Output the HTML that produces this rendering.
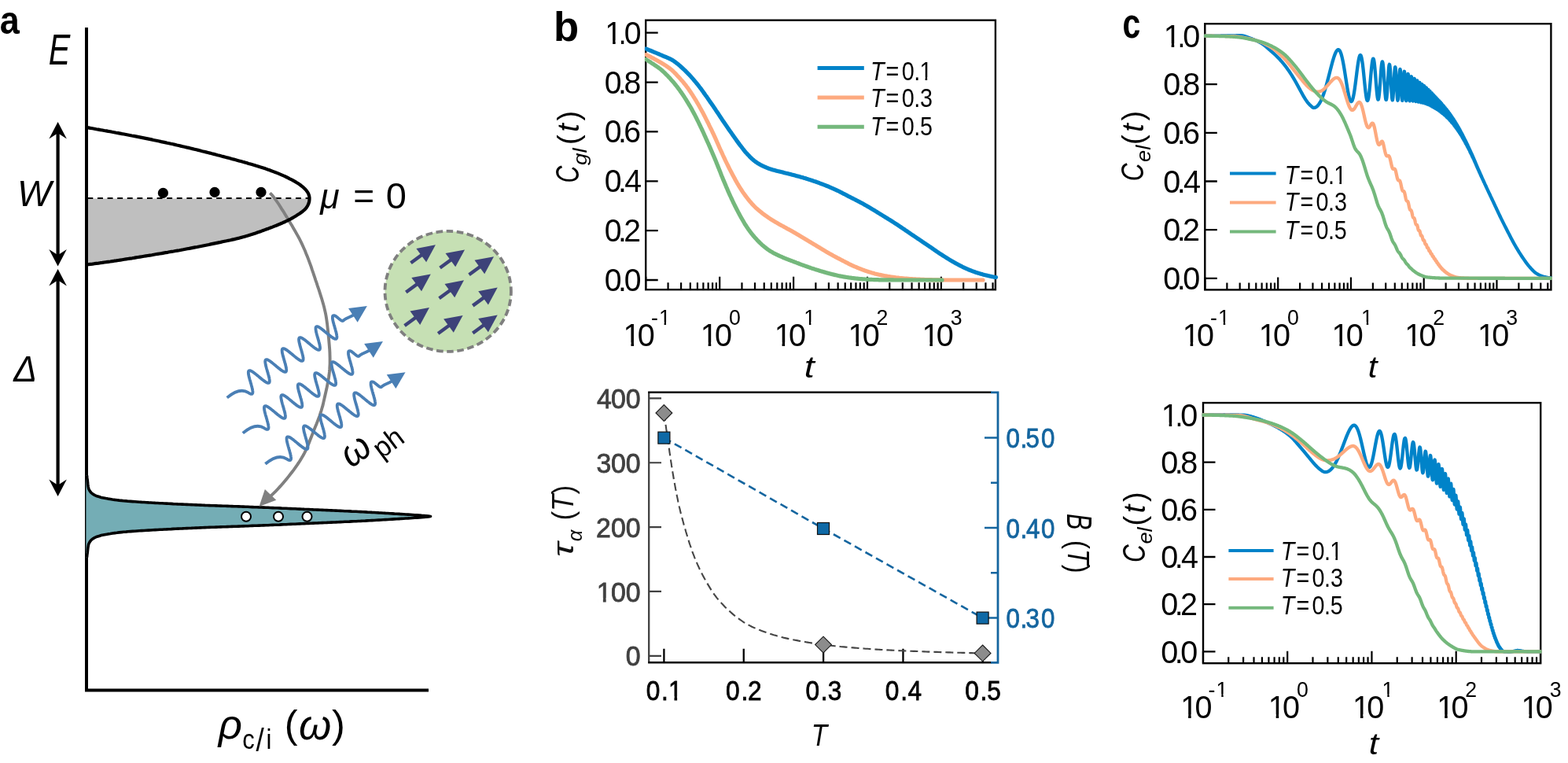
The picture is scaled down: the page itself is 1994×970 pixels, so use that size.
<!DOCTYPE html>
<html lang="en">
<head>
<meta charset="utf-8">
<title>Figure</title>
<style>
html,body{margin:0;padding:0;background:#fff;}
body{width:1994px;height:970px;overflow:hidden;}
svg{display:block;}
svg text{font-family:"Liberation Sans",Arial,Helvetica,sans-serif;font-kerning:none;}
</style>
</head>
<body>
<svg width="1994" height="970" viewBox="0 0 1994 970">
<rect width="1994" height="970" fill="#fff"/>
<path d="M110 252.5L393.5 252.5L393.5 253.6L393.2 256.2L392.5 258.7L391.5 261.0L390.2 263.2L388.7 265.2L386.9 267.0L384.9 268.7L382.8 270.2L380.7 271.7L378.5 273.1L376.4 274.5L374.2 275.8L371.9 277.1L369.7 278.3L367.5 279.4L365.2 280.6L362.9 281.7L360.6 282.7L358.3 283.8L356.0 284.8L353.6 285.7L351.3 286.7L348.9 287.6L346.5 288.6L344.1 289.5L341.7 290.4L339.3 291.2L337.0 292.1L334.6 293.0L332.2 293.9L329.8 294.7L327.4 295.5L324.9 296.4L322.5 297.2L320.1 298.0L317.7 298.7L315.3 299.5L312.8 300.2L310.4 300.9L307.9 301.6L305.5 302.2L303.0 302.9L300.5 303.5L298.1 304.1L295.6 304.6L293.1 305.2L290.6 305.7L288.1 306.3L285.6 306.8L283.1 307.3L280.6 307.9L278.1 308.4L275.7 308.9L273.2 309.4L270.7 309.9L268.2 310.4L265.7 311.0L263.2 311.5L260.7 312.0L258.2 312.5L255.7 313.0L253.2 313.5L250.7 314.0L248.2 314.4L245.7 314.9L243.2 315.4L240.7 315.9L238.2 316.3L235.7 316.8L233.2 317.3L230.7 317.7L228.2 318.2L225.7 318.6L223.2 319.0L220.7 319.5L218.2 319.9L215.7 320.3L213.2 320.8L210.6 321.2L208.1 321.6L205.6 322.1L203.1 322.5L200.6 322.9L198.1 323.3L195.6 323.7L193.1 324.2L190.6 324.6L188.0 325.0L185.5 325.4L183.0 325.8L180.5 326.2L178.0 326.6L175.5 327.0L173.0 327.4L170.5 327.9L168.0 328.3L165.4 328.6L162.9 329.0L160.4 329.4L157.9 329.8L155.4 330.2L152.9 330.6L150.3 331.0L147.8 331.4L145.3 331.7L142.8 332.1L140.3 332.5L137.8 332.8L135.2 333.2L132.7 333.5L130.2 333.9L127.7 334.2L125.2 334.6L122.6 334.9L120.1 335.2L117.6 335.6L115.1 335.9L112.5 336.2L110.0 336.5Z" fill="#bfbfbf"/>
<path d="M110 252H393" stroke="#000" stroke-width="2.1" stroke-dasharray="6.9 5.7" stroke-dashoffset="11.2" fill="none"/>
<path d="M343.3 245.3L345.8 247.9L348.1 250.7L350.3 253.6L352.3 256.5L354.4 259.5L356.3 262.5L358.2 265.6L360.2 268.6L362.1 271.7L363.9 274.7L365.8 277.8L367.7 280.9L369.5 284.0L371.4 287.1L373.2 290.2L375.0 293.3L376.8 296.4L378.6 299.6L380.3 302.7L381.9 305.9L383.5 309.2L385.0 312.4L386.5 315.7L388.0 319.0L389.3 322.4L390.7 325.7L392.0 329.1L393.2 332.4L394.5 335.8L395.7 339.2L396.8 342.6L398.0 346.0L399.1 349.4L400.3 352.9L401.4 356.3L402.6 359.7L403.7 363.1L404.9 366.5L406.0 369.9L407.1 373.4L408.2 376.8L409.3 380.2L410.3 383.7L411.3 387.2L412.2 390.6L413.0 394.1L413.8 397.7L414.5 401.2L415.1 404.7L415.6 408.3L416.1 411.9L416.5 415.5L416.9 419.0L417.3 422.6L417.6 426.2L418.0 429.8L418.3 433.4L418.6 437.0L418.9 440.6L419.2 444.2L419.4 447.8L419.5 451.4L419.6 455.0L419.6 458.6L419.6 462.2L419.4 465.8L419.2 469.4L418.9 473.0L418.5 476.6L418.0 480.1L417.4 483.7L416.7 487.2L416.0 490.8L415.3 494.3L414.5 497.8L413.7 501.3L412.9 504.8L412.1 508.4L411.3 511.9L410.5 515.4L409.5 518.8L408.5 522.3L407.4 525.7L406.3 529.1L405.0 532.5L403.7 535.9L402.4 539.2L401.0 542.5L399.6 545.9L398.3 549.2L397.0 552.6L395.7 556.0L394.4 559.3L393.1 562.7L391.7 566.0L390.3 569.3L388.8 572.6L387.2 575.8L385.5 579.0L383.7 582.1L381.8 585.2L379.9 588.2L377.9 591.2L375.8 594.2L373.7 597.1L371.5 600.0L369.3 602.8L367.1 605.6L364.8 608.4L362.5 611.2L360.2 614.0L357.8 616.7L355.4 619.4L353.0 622.0L350.5 624.6L347.9 627.1L345.3 629.6L342.7 632.1L340.0 634.5" fill="none" stroke="#808080" stroke-width="3.9"/>
<path d="M110.0 162.0L112.5 162.4L115.0 162.9L117.5 163.3L120.0 163.7L122.5 164.2L125.0 164.6L127.5 165.1L130.1 165.5L132.6 166.0L135.1 166.4L137.6 166.9L140.1 167.3L142.6 167.8L145.1 168.2L147.6 168.7L150.1 169.1L152.6 169.6L155.1 170.1L157.6 170.5L160.1 171.0L162.6 171.5L165.1 172.0L167.6 172.5L170.1 172.9L172.6 173.4L175.1 173.9L177.6 174.4L180.1 174.9L182.6 175.4L185.1 175.9L187.6 176.4L190.1 176.9L192.6 177.4L195.0 178.0L197.5 178.5L200.0 179.0L202.5 179.5L205.0 180.1L207.5 180.6L210.0 181.1L212.5 181.7L215.0 182.2L217.4 182.8L219.9 183.3L222.4 183.9L224.9 184.5L227.4 185.0L229.8 185.6L232.3 186.2L234.8 186.8L237.3 187.4L239.8 187.9L242.2 188.5L244.7 189.1L247.2 189.7L249.7 190.3L252.1 190.9L254.6 191.5L257.1 192.2L259.5 192.8L262.0 193.4L264.5 194.0L266.9 194.6L269.4 195.3L271.9 195.9L274.3 196.5L276.8 197.2L279.3 197.8L281.7 198.5L284.2 199.1L286.6 199.7L289.1 200.4L291.6 201.0L294.0 201.7L296.5 202.4L298.9 203.0L301.4 203.7L303.8 204.4L306.3 205.1L308.8 205.8L311.2 206.4L313.6 207.1L316.1 207.9L318.5 208.6L321.0 209.3L323.4 210.0L325.9 210.8L328.3 211.5L330.7 212.3L333.1 213.0L335.6 213.8L338.0 214.6L340.4 215.5L342.8 216.3L345.2 217.2L347.6 218.1L349.9 219.0L352.3 219.9L354.7 220.9L357.0 221.9L359.3 222.9L361.7 223.9L364.0 225.0L366.3 226.1L368.5 227.3L370.8 228.4L373.0 229.6L375.3 230.9L377.4 232.2L379.6 233.6L381.7 235.0L383.7 236.6L385.7 238.2L387.6 240.0L389.4 241.9L390.9 243.9L392.1 246.1L393.0 248.5L393.5 251.1L393.5 253.6L393.2 256.2L392.5 258.7L391.5 261.0L390.2 263.2L388.7 265.2L386.9 267.0L384.9 268.7L382.8 270.2L380.7 271.7L378.5 273.1L376.4 274.5L374.2 275.8L371.9 277.1L369.7 278.3L367.5 279.4L365.2 280.6L362.9 281.7L360.6 282.7L358.3 283.8L356.0 284.8L353.6 285.7L351.3 286.7L348.9 287.6L346.5 288.6L344.1 289.5L341.7 290.4L339.3 291.2L337.0 292.1L334.6 293.0L332.2 293.9L329.8 294.7L327.4 295.5L324.9 296.4L322.5 297.2L320.1 298.0L317.7 298.7L315.3 299.5L312.8 300.2L310.4 300.9L307.9 301.6L305.5 302.2L303.0 302.9L300.5 303.5L298.1 304.1L295.6 304.6L293.1 305.2L290.6 305.7L288.1 306.3L285.6 306.8L283.1 307.3L280.6 307.9L278.1 308.4L275.7 308.9L273.2 309.4L270.7 309.9L268.2 310.4L265.7 311.0L263.2 311.5L260.7 312.0L258.2 312.5L255.7 313.0L253.2 313.5L250.7 314.0L248.2 314.4L245.7 314.9L243.2 315.4L240.7 315.9L238.2 316.3L235.7 316.8L233.2 317.3L230.7 317.7L228.2 318.2L225.7 318.6L223.2 319.0L220.7 319.5L218.2 319.9L215.7 320.3L213.2 320.8L210.6 321.2L208.1 321.6L205.6 322.1L203.1 322.5L200.6 322.9L198.1 323.3L195.6 323.7L193.1 324.2L190.6 324.6L188.0 325.0L185.5 325.4L183.0 325.8L180.5 326.2L178.0 326.6L175.5 327.0L173.0 327.4L170.5 327.9L168.0 328.3L165.4 328.6L162.9 329.0L160.4 329.4L157.9 329.8L155.4 330.2L152.9 330.6L150.3 331.0L147.8 331.4L145.3 331.7L142.8 332.1L140.3 332.5L137.8 332.8L135.2 333.2L132.7 333.5L130.2 333.9L127.7 334.2L125.2 334.6L122.6 334.9L120.1 335.2L117.6 335.6L115.1 335.9L112.5 336.2L110.0 336.5" fill="none" stroke="#000" stroke-width="4.2" stroke-linejoin="round"/>
<circle cx="207.4" cy="245.4" r="6.6"/>
<circle cx="273" cy="244.4" r="6.6"/>
<circle cx="332" cy="244.4" r="6.6"/>
<path d="M110 35V877.5H545" fill="none" stroke="#000" stroke-width="4" stroke-linejoin="miter"/>
<path d="M109.4 604.5L110.5 604.5L110.8 607.4L111.2 610.2L111.5 613.1L111.8 616.0L112.2 618.8L112.8 621.5L114.2 624.2L115.9 626.4L118.1 628.2L120.7 629.6L123.4 630.8L126.1 631.6L128.8 632.4L131.6 633.0L134.5 633.6L137.4 634.1L140.2 634.5L143.0 635.0L145.9 635.4L148.7 635.7L151.6 636.1L154.5 636.4L157.3 636.7L160.2 636.9L163.0 637.2L165.9 637.4L168.8 637.6L171.6 637.8L174.5 638.0L177.4 638.2L180.2 638.4L183.1 638.5L186.0 638.7L188.8 638.9L191.7 639.0L194.6 639.2L197.4 639.4L200.3 639.5L203.2 639.7L206.1 639.8L208.9 640.0L211.8 640.1L214.7 640.3L217.5 640.4L220.4 640.6L223.3 640.7L226.1 640.9L229.0 641.0L231.9 641.1L234.7 641.3L237.6 641.4L240.5 641.5L243.4 641.6L246.2 641.8L249.1 641.9L252.0 642.0L254.8 642.1L257.7 642.2L260.6 642.4L263.5 642.5L266.3 642.6L269.2 642.7L272.1 642.8L274.9 642.9L277.8 643.0L280.7 643.1L283.5 643.2L286.4 643.3L289.3 643.4L292.2 643.5L295.0 643.6L297.9 643.7L300.8 643.8L303.6 643.9L306.5 644.0L309.4 644.1L312.3 644.2L315.1 644.3L318.0 644.5L320.9 644.6L323.7 644.7L326.6 644.8L329.5 644.9L332.4 645.0L335.2 645.1L338.1 645.2L341.0 645.3L343.8 645.5L346.7 645.6L349.6 645.7L352.5 645.8L355.3 645.9L358.2 646.1L361.1 646.2L363.9 646.3L366.8 646.5L369.7 646.6L372.5 646.7L375.4 646.8L378.3 647.0L381.2 647.1L384.0 647.2L386.9 647.4L389.8 647.5L392.6 647.6L395.5 647.7L398.4 647.9L401.2 648.0L404.1 648.1L407.0 648.3L409.9 648.4L412.7 648.5L415.6 648.6L418.5 648.8L421.3 648.9L424.2 649.0L427.1 649.1L429.9 649.3L432.8 649.4L435.7 649.5L438.6 649.7L441.4 649.8L444.3 649.9L447.2 650.1L450.0 650.2L452.9 650.3L455.8 650.5L458.6 650.6L461.5 650.8L464.4 650.9L467.3 651.1L470.1 651.2L473.0 651.4L475.9 651.5L478.7 651.7L481.6 651.9L484.5 652.0L487.3 652.2L490.2 652.4L493.1 652.5L495.9 652.7L498.8 652.9L501.7 653.1L504.5 653.2L507.4 653.4L510.3 653.6L513.1 653.8L516.0 654.0L518.9 654.1L521.7 654.3L524.6 654.5L527.5 654.7L530.3 654.8L533.2 655.0L536.1 655.3L538.9 655.5L541.8 655.8L544.7 656.1L547.5 656.5L547.5 656.5L544.7 656.9L541.8 657.2L538.9 657.5L536.1 657.7L533.2 658.0L530.3 658.2L527.5 658.3L524.6 658.5L521.7 658.7L518.9 658.9L516.0 659.0L513.1 659.2L510.3 659.4L507.4 659.6L504.5 659.8L501.7 659.9L498.8 660.1L495.9 660.3L493.1 660.5L490.2 660.6L487.3 660.8L484.5 661.0L481.6 661.1L478.7 661.3L475.9 661.5L473.0 661.6L470.1 661.8L467.3 661.9L464.4 662.1L461.5 662.2L458.6 662.4L455.8 662.5L452.9 662.7L450.0 662.8L447.2 662.9L444.3 663.1L441.4 663.2L438.6 663.3L435.7 663.5L432.8 663.6L429.9 663.7L427.1 663.9L424.2 664.0L421.3 664.1L418.5 664.2L415.6 664.4L412.7 664.5L409.9 664.6L407.0 664.7L404.1 664.9L401.2 665.0L398.4 665.1L395.5 665.3L392.6 665.4L389.8 665.5L386.9 665.6L384.0 665.8L381.2 665.9L378.3 666.0L375.4 666.2L372.5 666.3L369.7 666.4L366.8 666.5L363.9 666.7L361.1 666.8L358.2 666.9L355.3 667.1L352.5 667.2L349.6 667.3L346.7 667.4L343.8 667.5L341.0 667.7L338.1 667.8L335.2 667.9L332.4 668.0L329.5 668.1L326.6 668.2L323.7 668.3L320.9 668.4L318.0 668.5L315.1 668.7L312.3 668.8L309.4 668.9L306.5 669.0L303.6 669.1L300.8 669.2L297.9 669.3L295.0 669.4L292.2 669.5L289.3 669.6L286.4 669.7L283.5 669.8L280.7 669.9L277.8 670.0L274.9 670.1L272.1 670.2L269.2 670.3L266.3 670.4L263.5 670.5L260.6 670.6L257.7 670.8L254.8 670.9L252.0 671.0L249.1 671.1L246.2 671.2L243.4 671.4L240.5 671.5L237.6 671.6L234.7 671.7L231.9 671.9L229.0 672.0L226.1 672.1L223.3 672.3L220.4 672.4L217.5 672.6L214.7 672.7L211.8 672.9L208.9 673.0L206.1 673.2L203.2 673.3L200.3 673.5L197.4 673.6L194.6 673.8L191.7 674.0L188.8 674.1L186.0 674.3L183.1 674.5L180.2 674.6L177.4 674.8L174.5 675.0L171.6 675.2L168.8 675.4L165.9 675.6L163.0 675.8L160.2 676.1L157.3 676.3L154.5 676.6L151.6 676.9L148.7 677.3L145.9 677.6L143.0 678.0L140.2 678.5L137.4 678.9L134.5 679.4L131.6 680.0L128.8 680.6L126.1 681.4L123.4 682.2L120.7 683.4L118.1 684.8L115.9 686.6L114.2 688.8L112.8 691.5L112.2 694.2L111.8 697.0L111.5 699.9L111.2 702.8L110.8 705.6L110.5 708.5L109.4 708.5Z" fill="#74adb5"/>
<path d="M110.5 604.5L110.8 607.4L111.2 610.2L111.5 613.1L111.8 616.0L112.2 618.8L112.8 621.5L114.2 624.2L115.9 626.4L118.1 628.2L120.7 629.6L123.4 630.8L126.1 631.6L128.8 632.4L131.6 633.0L134.5 633.6L137.4 634.1L140.2 634.5L143.0 635.0L145.9 635.4L148.7 635.7L151.6 636.1L154.5 636.4L157.3 636.7L160.2 636.9L163.0 637.2L165.9 637.4L168.8 637.6L171.6 637.8L174.5 638.0L177.4 638.2L180.2 638.4L183.1 638.5L186.0 638.7L188.8 638.9L191.7 639.0L194.6 639.2L197.4 639.4L200.3 639.5L203.2 639.7L206.1 639.8L208.9 640.0L211.8 640.1L214.7 640.3L217.5 640.4L220.4 640.6L223.3 640.7L226.1 640.9L229.0 641.0L231.9 641.1L234.7 641.3L237.6 641.4L240.5 641.5L243.4 641.6L246.2 641.8L249.1 641.9L252.0 642.0L254.8 642.1L257.7 642.2L260.6 642.4L263.5 642.5L266.3 642.6L269.2 642.7L272.1 642.8L274.9 642.9L277.8 643.0L280.7 643.1L283.5 643.2L286.4 643.3L289.3 643.4L292.2 643.5L295.0 643.6L297.9 643.7L300.8 643.8L303.6 643.9L306.5 644.0L309.4 644.1L312.3 644.2L315.1 644.3L318.0 644.5L320.9 644.6L323.7 644.7L326.6 644.8L329.5 644.9L332.4 645.0L335.2 645.1L338.1 645.2L341.0 645.3L343.8 645.5L346.7 645.6L349.6 645.7L352.5 645.8L355.3 645.9L358.2 646.1L361.1 646.2L363.9 646.3L366.8 646.5L369.7 646.6L372.5 646.7L375.4 646.8L378.3 647.0L381.2 647.1L384.0 647.2L386.9 647.4L389.8 647.5L392.6 647.6L395.5 647.7L398.4 647.9L401.2 648.0L404.1 648.1L407.0 648.3L409.9 648.4L412.7 648.5L415.6 648.6L418.5 648.8L421.3 648.9L424.2 649.0L427.1 649.1L429.9 649.3L432.8 649.4L435.7 649.5L438.6 649.7L441.4 649.8L444.3 649.9L447.2 650.1L450.0 650.2L452.9 650.3L455.8 650.5L458.6 650.6L461.5 650.8L464.4 650.9L467.3 651.1L470.1 651.2L473.0 651.4L475.9 651.5L478.7 651.7L481.6 651.9L484.5 652.0L487.3 652.2L490.2 652.4L493.1 652.5L495.9 652.7L498.8 652.9L501.7 653.1L504.5 653.2L507.4 653.4L510.3 653.6L513.1 653.8L516.0 654.0L518.9 654.1L521.7 654.3L524.6 654.5L527.5 654.7L530.3 654.8L533.2 655.0L536.1 655.3L538.9 655.5L541.8 655.8L544.7 656.1L547.5 656.5L547.5 656.5L544.7 656.9L541.8 657.2L538.9 657.5L536.1 657.7L533.2 658.0L530.3 658.2L527.5 658.3L524.6 658.5L521.7 658.7L518.9 658.9L516.0 659.0L513.1 659.2L510.3 659.4L507.4 659.6L504.5 659.8L501.7 659.9L498.8 660.1L495.9 660.3L493.1 660.5L490.2 660.6L487.3 660.8L484.5 661.0L481.6 661.1L478.7 661.3L475.9 661.5L473.0 661.6L470.1 661.8L467.3 661.9L464.4 662.1L461.5 662.2L458.6 662.4L455.8 662.5L452.9 662.7L450.0 662.8L447.2 662.9L444.3 663.1L441.4 663.2L438.6 663.3L435.7 663.5L432.8 663.6L429.9 663.7L427.1 663.9L424.2 664.0L421.3 664.1L418.5 664.2L415.6 664.4L412.7 664.5L409.9 664.6L407.0 664.7L404.1 664.9L401.2 665.0L398.4 665.1L395.5 665.3L392.6 665.4L389.8 665.5L386.9 665.6L384.0 665.8L381.2 665.9L378.3 666.0L375.4 666.2L372.5 666.3L369.7 666.4L366.8 666.5L363.9 666.7L361.1 666.8L358.2 666.9L355.3 667.1L352.5 667.2L349.6 667.3L346.7 667.4L343.8 667.5L341.0 667.7L338.1 667.8L335.2 667.9L332.4 668.0L329.5 668.1L326.6 668.2L323.7 668.3L320.9 668.4L318.0 668.5L315.1 668.7L312.3 668.8L309.4 668.9L306.5 669.0L303.6 669.1L300.8 669.2L297.9 669.3L295.0 669.4L292.2 669.5L289.3 669.6L286.4 669.7L283.5 669.8L280.7 669.9L277.8 670.0L274.9 670.1L272.1 670.2L269.2 670.3L266.3 670.4L263.5 670.5L260.6 670.6L257.7 670.8L254.8 670.9L252.0 671.0L249.1 671.1L246.2 671.2L243.4 671.4L240.5 671.5L237.6 671.6L234.7 671.7L231.9 671.9L229.0 672.0L226.1 672.1L223.3 672.3L220.4 672.4L217.5 672.6L214.7 672.7L211.8 672.9L208.9 673.0L206.1 673.2L203.2 673.3L200.3 673.5L197.4 673.6L194.6 673.8L191.7 674.0L188.8 674.1L186.0 674.3L183.1 674.5L180.2 674.6L177.4 674.8L174.5 675.0L171.6 675.2L168.8 675.4L165.9 675.6L163.0 675.8L160.2 676.1L157.3 676.3L154.5 676.6L151.6 676.9L148.7 677.3L145.9 677.6L143.0 678.0L140.2 678.5L137.4 678.9L134.5 679.4L131.6 680.0L128.8 680.6L126.1 681.4L123.4 682.2L120.7 683.4L118.1 684.8L115.9 686.6L114.2 688.8L112.8 691.5L112.2 694.2L111.8 697.0L111.5 699.9L111.2 702.8L110.8 705.6L110.5 708.5" fill="none" stroke="#000" stroke-width="3.6" stroke-linejoin="round"/>
<circle cx="313" cy="656.8" r="6" fill="#fff" stroke="#000" stroke-width="2"/>
<circle cx="354" cy="656.8" r="6" fill="#fff" stroke="#000" stroke-width="2"/>
<circle cx="390.5" cy="656.8" r="6" fill="#fff" stroke="#000" stroke-width="2"/>
<path d="M73.6 167 V326.5" stroke="#000" stroke-width="4.2" fill="none"/>
<polygon points="73.6,155 84.85,176.5 73.6,169.3 62.35,176.5" fill="#000"/>
<polygon points="73.6,338.5 62.35,317 73.6,324.2 84.85,317" fill="#000"/>
<path d="M73.6 354 V619" stroke="#000" stroke-width="4.2" fill="none"/>
<polygon points="73.6,342 84.85,363.5 73.6,356.3 62.35,363.5" fill="#000"/>
<polygon points="73.6,631 62.35,609.5 73.6,616.7 84.85,609.5" fill="#000"/>
<polygon points="329.5,644 336.89,621.95 351.28,635.84" fill="#808080"/>
<path d="M288.7 505.6C297.94 497.92 307.39 493.76 315.79 499.19L316.3 499.5L316.8 499.8L317.2 500.1L317.6 500.3L318.1 500.5L318.4 500.6L318.8 500.8L319.2 500.9L319.5 500.9L319.8 500.9L320.0 500.9L320.3 500.9L320.5 500.8L320.7 500.6L320.9 500.5L321.0 500.3L321.2 500.0L321.3 499.7L321.3 499.4L321.4 499.1L321.4 498.7L321.4 498.2L321.4 497.8L321.4 497.3L321.3 496.8L321.2 496.2L321.1 495.6L321.0 495.0L320.9 494.4L320.7 493.7L320.6 493.1L320.4 492.4L320.2 491.6L320.0 490.9L319.8 490.2L319.6 489.4L319.4 488.6L319.2 487.9L318.9 487.1L318.7 486.3L318.5 485.5L318.3 484.7L318.0 483.9L317.8 483.2L317.6 482.4L317.4 481.7L317.2 480.9L317.0 480.2L316.8 479.5L316.6 478.8L316.5 478.1L316.3 477.5L316.2 476.8L316.1 476.2L316.0 475.7L315.9 475.1L315.9 474.6L315.9 474.1L315.8 473.7L315.9 473.2L315.9 472.9L315.9 472.5L316.0 472.2L316.1 471.9L316.3 471.7L316.4 471.5L316.6 471.3L316.8 471.2L317.0 471.1L317.3 471.1L317.6 471.1L317.9 471.1L318.2 471.2L318.6 471.3L318.9 471.4L319.3 471.6L319.7 471.8L320.2 472.1L320.6 472.3L321.1 472.6L321.6 472.9L322.1 473.3L322.7 473.7L323.2 474.1L323.8 474.5L324.3 474.9L324.9 475.4L325.5 475.9L326.1 476.4L326.7 476.9L327.4 477.4L328.0 477.9L328.6 478.4L329.2 478.9L329.9 479.5L330.5 480.0L331.1 480.5L331.7 481.0L332.3 481.5L332.9 482.0L333.5 482.5L334.1 482.9L334.7 483.4L335.3 483.8L335.8 484.2L336.4 484.6L336.9 485.0L337.4 485.3L337.9 485.6L338.3 485.9L338.8 486.2L339.2 486.4L339.6 486.5L340.0 486.7L340.4 486.8L340.7 486.9L341.0 486.9L341.3 486.9L341.5 486.9L341.8 486.8L342.0 486.7L342.2 486.6L342.3 486.4L342.5 486.2L342.6 485.9L342.7 485.6L342.8 485.3L342.8 484.9L342.8 484.5L342.8 484.1L342.8 483.6L342.7 483.1L342.7 482.5L342.6 482.0L342.5 481.4L342.4 480.8L342.2 480.1L342.1 479.5L341.9 478.8L341.7 478.1L341.5 477.3L341.3 476.6L341.1 475.9L340.9 475.1L340.7 474.3L340.5 473.5L340.2 472.8L340.0 472.0L339.8 471.2L339.6 470.4L339.3 469.6L339.1 468.9L338.9 468.1L338.7 467.4L338.5 466.6L338.3 465.9L338.1 465.2L338.0 464.5L337.8 463.8L337.7 463.2L337.6 462.6L337.5 462.0L337.4 461.4L337.3 460.9L337.3 460.4L337.2 459.9L337.2 459.5L337.3 459.1L337.3 458.7L337.4 458.4L337.5 458.1L337.6 457.8L337.7 457.6L337.9 457.4L338.1 457.3L338.3 457.2L338.5 457.1L338.8 457.1L339.1 457.1L339.4 457.1L339.7 457.2L340.1 457.3L340.5 457.5L340.9 457.7L341.3 457.9L341.8 458.2L342.2 458.4L342.7 458.7L343.2 459.1L343.7 459.4L344.3 459.8L344.8 460.2L345.4 460.7L346.0 461.1L346.6 461.6L347.2 462.1L347.8 462.6L348.4 463.1L349.0 463.6L349.6 464.1L350.3 464.6L350.9 465.1L351.5 465.7L352.1 466.2L352.8 466.7L353.4 467.2L354.0 467.7L354.6 468.2L355.2 468.7L355.8 469.1L356.3 469.6L356.9 470.0L357.4 470.4L358.0 470.8L358.5 471.1L359.0 471.4L359.5 471.7L359.9 472.0L360.4 472.2L360.8 472.4L361.2 472.6L361.5 472.7L361.9 472.8L362.2 472.9L362.5 472.9L362.8 472.9L363.0 472.9L363.3 472.8L363.5 472.7L363.7 472.5L363.8 472.3L363.9 472.1L364.0 471.8L364.1 471.5L364.2 471.1L364.2 470.7L364.2 470.3L364.2 469.9L364.2 469.4L364.1 468.9L364.0 468.3L364.0 467.7L363.8 467.1L363.7 466.5L363.6 465.9L363.4 465.2L363.2 464.5L363.1 463.8L362.9 463.0L362.7 462.3L362.5 461.6L362.2 460.8L362.0 460.0L361.8 459.2L361.6 458.4L361.3 457.7L361.1 456.9L360.9 456.1L360.7 455.3L360.4 454.6L360.2 453.8L360.0 453.1L359.8 452.3L359.6 451.6L359.5 450.9L359.3 450.2L359.2 449.6L359.0 449.0L358.9 448.3L358.8 447.8L358.8 447.2L358.7 446.7L358.7 446.2L358.6 445.7L358.7 445.3L358.7 444.9L358.7 444.6L358.8 444.3L358.9 444.0L359.0 443.7L359.2 443.5L359.4 443.4L359.6 443.2L359.8 443.2L360.0 443.1L360.3 443.1L360.6 443.1L360.9 443.2L361.3 443.3L361.7 443.4L362.0 443.6L362.5 443.8L362.9 444.0L363.4 444.3L363.8 444.5L364.3 444.9L364.8 445.2L365.4 445.6L365.9 446.0L366.5 446.4L367.0 446.8L367.6 447.3L368.2 447.8L368.8 448.3L369.4 448.8L370.0 449.3L370.7 449.8L371.3 450.3L371.9 450.8L372.5 451.3L373.2 451.9L373.8 452.4L374.4 452.9L375.0 453.4L375.6 453.9L376.2 454.4L376.8 454.8L377.4 455.3L378.0 455.7L378.5 456.1L379.1 456.5L379.6 456.9L380.1 457.2L380.6 457.6L381.0 457.8L381.5 458.1L381.9 458.3L382.3 458.5L382.7 458.7L383.1 458.8L383.4 458.9L383.7 458.9L384.0 458.9L384.3 458.9L384.5 458.8L384.8 458.7L385.0 458.6L385.1 458.4L385.3 458.2L385.4 458.0L385.5 457.7L385.5 457.3L385.6 457.0L385.6 456.6L385.6 456.1L385.6 455.7L385.6 455.2L385.5 454.7L385.4 454.1L385.3 453.5L385.2 452.9L385.1 452.3L384.9 451.6L384.7 450.9L384.6 450.2L384.4 449.5L384.2 448.8L384.0 448.0L383.8 447.2L383.6 446.5L383.3 445.7L383.1 444.9L382.9 444.1L382.6 443.3L382.4 442.6L382.2 441.8L382.0 441.0L381.8 440.3L381.5 439.5L381.3 438.8L381.2 438.0L381.0 437.3L380.8 436.6L380.7 436.0L380.5 435.3L380.4 434.7L380.3 434.1L380.2 433.5L380.1 433.0L380.1 432.5L380.1 432.0L380.0 431.6L380.1 431.2L380.1 430.8L380.2 430.4L380.3 430.1L380.4 429.9L380.5 429.7L380.7 429.5L380.8 429.3L381.1 429.2L381.3 429.1L381.5 429.1L381.8 429.1L382.1 429.1L382.5 429.2L382.8 429.3L383.2 429.5L383.6 429.6L384.0 429.8L384.5 430.1L384.9 430.4L385.4 430.7L385.9 431.0L386.4 431.4L387.0 431.7L387.5 432.1L388.1 432.6L388.7 433.0L389.3 433.5L389.8 434.0L390.5 434.5L391.1 435.0L391.7 435.5L392.3 436.0L392.9 436.5L393.6 437.0L394.2 437.5L394.8 438.1L395.4 438.6L396.0 439.1L396.7 439.6L397.3 440.1L397.9 440.6L398.4 441.0L399.0 441.5L399.6 441.9L400.1 442.3L400.7 442.7L401.2 443.0L401.7 443.4L402.2 443.7L402.6 443.9L403.1 444.2L403.5 444.4L403.9 444.6L404.3 444.7L404.6 444.8L405.0 444.9L405.3 444.9L405.5 444.9L405.8 444.9L406.0 444.8L406.2 444.7L406.4 444.5L406.6 444.3L406.7 444.1L406.8 443.8L406.9 443.5L407.0 443.2L407.0 442.8L407.0 442.4L407.0 442.0L407.0 441.5L406.9 441.0L406.9 440.4L406.8 439.9L406.7 439.3L406.5 438.6L406.4 438.0L406.2 437.3L406.1 436.6L405.9 435.9L405.7 435.2L405.5 434.5L405.3 433.7L405.1 432.9L404.9 432.2L404.6 431.4L404.4 430.6L404.2 429.8L404.0 429.0L403.7 428.3L403.5 427.5L403.3 426.7L403.1 426.0L402.9 425.2L402.7 424.5L402.5 423.8L402.3 423.0L402.1 422.4L402.0 421.7L401.9 421.1L401.8 420.5L401.7 419.9L401.6 419.3L401.5 418.8L401.5 418.3L401.5 417.8L401.5 417.4L401.5 417.0L401.5 416.6L401.6 416.3L401.7 416.0L401.8 415.8L402.0 415.6L402.1 415.4L402.3 415.3L402.5 415.2L402.8 415.1L403.1 415.1L403.4 415.1L403.7 415.1L404.0 415.2L404.4 415.4L404.8 415.5L405.2 415.7L405.6 415.9L406.1 416.2L406.5 416.5L407.0 416.8L407.5 417.1L408.1 417.5L408.6 417.9L409.1 418.3L409.7 418.7L410.3 419.2L410.9 419.7L411.5 420.2L412.1 420.6L412.7 421.2L413.3 421.7L414.0 422.2L414.6 422.7L415.2 423.2L415.8 423.8L416.5 424.3L417.1 424.8L417.7 425.3L418.3 425.8L418.9 426.3L419.5 426.7L420.1 427.2L420.6 427.6L421.2 428.1L421.7 428.5L422.3 428.8L422.8 429.2L423.3 429.5L423.8 429.8L424.2 430.0L424.6 430.3L425.1 430.5L425.4 430.6L425.8 430.8L426.2 430.9L426.5 430.9L426.8 430.9L427.0 430.9L427.3 430.9L427.5 430.8L427.7 430.6L427.9 430.5L428.0 430.3L428.2 430.0L428.3 429.7L428.3 429.4L428.4 429.0L428.4 428.7L428.4 428.2L428.4 427.8L428.4 427.3L428.3 426.8L428.2 426.2L428.1 425.6L428.0 425.0L427.9 424.4L427.7 423.7L427.6 423.0L427.4 422.3L427.2 421.6L427.0 420.9L426.8 420.2L426.6 419.4L426.4 418.6L426.2 417.9L425.9 417.1L425.7 416.3L425.5 415.5L425.3 414.7L425.0 413.9L424.8 413.2L424.6 412.4L424.4 411.6L424.2 410.9L424.0 410.2L423.8 409.5L423.6 408.8L423.5 408.1L423.3 407.4L423.2 406.8L423.1 406.2L423.0 405.6L422.9 405.1L422.9 404.6L422.9 404.1L422.9 403.7L422.9 403.2L422.9 402.9L423.0 402.5L423.0 402.2L423.1 401.9L423.3 401.7L423.4 401.5L423.6 401.3L423.8 401.2L424.0 401.1L424.3 401.1L424.6 401.1L424.9 401.1L425.2 401.2L425.6 401.3L425.9 401.4L426.3 401.6L426.8 401.8L427.3 402.2L427.8 402.6L428.4 403.0L429.0 403.5L429.6 404.0L430.3 404.6L430.9 405.1L431.5 405.6L432.1 406.0L432.6 406.5L433.2 406.9L433.7 407.2L434.1 407.5L434.6 407.7L435.0 407.8L435.3 407.9L435.6 408.0L435.9 407.9L436.1 407.9L436.3 407.8L436.5 407.6L436.7 407.5L436.9 407.3L437.0 407.1L437.2 406.9L437.4 406.8L437.6 406.6L437.8 406.5L438.0 406.4L438.2 406.2L438.4 406.1L438.6 406.0L438.8 405.9L439.0 405.7L439.2 405.6L439.4 405.5L439.6 405.4L439.8 405.3L440.0 405.1L440.2 405.0L440.4 404.9L440.6 404.8L440.9 404.7L441.1 404.6L441.3 404.5L441.5 404.4L441.7 404.3L441.9 404.2L442.2 404.1L442.4 404.0L442.6 403.9L442.8 403.8L443.0 403.7L443.3 403.6L443.5 403.5L443.7 403.4L443.9 403.3L444.1 403.2L444.4 403.1L444.6 403.0L444.8 402.9L445.0 402.8L445.2 402.7L445.4 402.6L445.7 402.5L445.9 402.4L446.1 402.3L446.3 402.2L446.5 402.1L446.7 402.0L447.0 401.9L447.2 401.8L447.4 401.6L447.6 401.5L447.8 401.4L448.0 401.3L448.2 401.2L448.4 401.1L448.6 400.9L448.8 400.8L449.0 400.7L449.2 400.6L449.4 400.4L449.6 400.3" fill="none" stroke="#4a7fb5" stroke-width="3.8" stroke-linejoin="round" stroke-linecap="butt"/><polygon points="466.85,389.03 454.67,409.68 443.06,391.94" fill="#4a7fb5"/>
<path d="M308.8 550.6C318.04 542.92 327.49 538.76 335.89 544.19L336.4 544.5L336.9 544.8L337.3 545.1L337.7 545.3L338.2 545.5L338.5 545.6L338.9 545.8L339.3 545.9L339.6 545.9L339.9 545.9L340.1 545.9L340.4 545.9L340.6 545.8L340.8 545.6L341.0 545.5L341.1 545.3L341.3 545.0L341.4 544.7L341.4 544.4L341.5 544.1L341.5 543.7L341.5 543.2L341.5 542.8L341.5 542.3L341.4 541.8L341.3 541.2L341.2 540.6L341.1 540.0L341.0 539.4L340.8 538.7L340.7 538.1L340.5 537.4L340.3 536.6L340.1 535.9L339.9 535.2L339.7 534.4L339.5 533.6L339.3 532.9L339.0 532.1L338.8 531.3L338.6 530.5L338.4 529.7L338.1 528.9L337.9 528.2L337.7 527.4L337.5 526.7L337.3 525.9L337.1 525.2L336.9 524.5L336.7 523.8L336.6 523.1L336.4 522.5L336.3 521.8L336.2 521.2L336.1 520.7L336.0 520.1L336.0 519.6L336.0 519.1L335.9 518.7L336.0 518.2L336.0 517.9L336.0 517.5L336.1 517.2L336.2 516.9L336.4 516.7L336.5 516.5L336.7 516.3L336.9 516.2L337.1 516.1L337.4 516.1L337.7 516.1L338.0 516.1L338.3 516.2L338.7 516.3L339.0 516.4L339.4 516.6L339.8 516.8L340.3 517.1L340.7 517.3L341.2 517.6L341.7 517.9L342.2 518.3L342.8 518.7L343.3 519.1L343.9 519.5L344.4 519.9L345.0 520.4L345.6 520.9L346.2 521.4L346.8 521.9L347.5 522.4L348.1 522.9L348.7 523.4L349.3 523.9L350.0 524.5L350.6 525.0L351.2 525.5L351.8 526.0L352.4 526.5L353.0 527.0L353.6 527.5L354.2 527.9L354.8 528.4L355.4 528.8L355.9 529.2L356.5 529.6L357.0 530.0L357.5 530.3L358.0 530.6L358.4 530.9L358.9 531.2L359.3 531.4L359.7 531.5L360.1 531.7L360.5 531.8L360.8 531.9L361.1 531.9L361.4 531.9L361.6 531.9L361.9 531.8L362.1 531.7L362.3 531.6L362.4 531.4L362.6 531.2L362.7 530.9L362.8 530.6L362.9 530.3L362.9 529.9L362.9 529.5L362.9 529.1L362.9 528.6L362.8 528.1L362.8 527.5L362.7 527.0L362.6 526.4L362.5 525.8L362.3 525.1L362.2 524.5L362.0 523.8L361.8 523.1L361.6 522.3L361.4 521.6L361.2 520.9L361.0 520.1L360.8 519.3L360.6 518.5L360.3 517.8L360.1 517.0L359.9 516.2L359.7 515.4L359.4 514.6L359.2 513.9L359.0 513.1L358.8 512.4L358.6 511.6L358.4 510.9L358.2 510.2L358.1 509.5L357.9 508.8L357.8 508.2L357.7 507.6L357.6 507.0L357.5 506.4L357.4 505.9L357.4 505.4L357.3 504.9L357.3 504.5L357.4 504.1L357.4 503.7L357.5 503.4L357.6 503.1L357.7 502.8L357.8 502.6L358.0 502.4L358.2 502.3L358.4 502.2L358.6 502.1L358.9 502.1L359.2 502.1L359.5 502.1L359.8 502.2L360.2 502.3L360.6 502.5L361.0 502.7L361.4 502.9L361.9 503.2L362.3 503.4L362.8 503.7L363.3 504.1L363.8 504.4L364.4 504.8L364.9 505.2L365.5 505.7L366.1 506.1L366.7 506.6L367.3 507.1L367.9 507.6L368.5 508.1L369.1 508.6L369.7 509.1L370.4 509.6L371.0 510.1L371.6 510.7L372.2 511.2L372.9 511.7L373.5 512.2L374.1 512.7L374.7 513.2L375.3 513.7L375.9 514.1L376.4 514.6L377.0 515.0L377.5 515.4L378.1 515.8L378.6 516.1L379.1 516.4L379.6 516.7L380.0 517.0L380.5 517.2L380.9 517.4L381.3 517.6L381.6 517.7L382.0 517.8L382.3 517.9L382.6 517.9L382.9 517.9L383.1 517.9L383.4 517.8L383.6 517.7L383.8 517.5L383.9 517.3L384.0 517.1L384.1 516.8L384.2 516.5L384.3 516.1L384.3 515.7L384.3 515.3L384.3 514.9L384.3 514.4L384.2 513.9L384.1 513.3L384.1 512.7L383.9 512.1L383.8 511.5L383.7 510.9L383.5 510.2L383.3 509.5L383.2 508.8L383.0 508.0L382.8 507.3L382.6 506.6L382.3 505.8L382.1 505.0L381.9 504.2L381.7 503.4L381.4 502.7L381.2 501.9L381.0 501.1L380.8 500.3L380.5 499.6L380.3 498.8L380.1 498.1L379.9 497.3L379.7 496.6L379.6 495.9L379.4 495.2L379.3 494.6L379.1 494.0L379.0 493.3L378.9 492.8L378.9 492.2L378.8 491.7L378.8 491.2L378.7 490.7L378.8 490.3L378.8 489.9L378.8 489.6L378.9 489.3L379.0 489.0L379.1 488.7L379.3 488.5L379.5 488.4L379.7 488.2L379.9 488.2L380.1 488.1L380.4 488.1L380.7 488.1L381.0 488.2L381.4 488.3L381.8 488.4L382.1 488.6L382.6 488.8L383.0 489.0L383.5 489.3L383.9 489.5L384.4 489.9L384.9 490.2L385.5 490.6L386.0 491.0L386.6 491.4L387.1 491.8L387.7 492.3L388.3 492.8L388.9 493.3L389.5 493.8L390.1 494.3L390.8 494.8L391.4 495.3L392.0 495.8L392.6 496.3L393.3 496.9L393.9 497.4L394.5 497.9L395.1 498.4L395.7 498.9L396.3 499.4L396.9 499.8L397.5 500.3L398.1 500.7L398.6 501.1L399.2 501.5L399.7 501.9L400.2 502.2L400.7 502.6L401.1 502.8L401.6 503.1L402.0 503.3L402.4 503.5L402.8 503.7L403.2 503.8L403.5 503.9L403.8 503.9L404.1 503.9L404.4 503.9L404.6 503.8L404.9 503.7L405.1 503.6L405.2 503.4L405.4 503.2L405.5 503.0L405.6 502.7L405.6 502.3L405.7 502.0L405.7 501.6L405.7 501.1L405.7 500.7L405.7 500.2L405.6 499.7L405.5 499.1L405.4 498.5L405.3 497.9L405.2 497.3L405.0 496.6L404.8 495.9L404.7 495.2L404.5 494.5L404.3 493.8L404.1 493.0L403.9 492.2L403.7 491.5L403.4 490.7L403.2 489.9L403.0 489.1L402.7 488.3L402.5 487.6L402.3 486.8L402.1 486.0L401.9 485.3L401.6 484.5L401.4 483.8L401.3 483.0L401.1 482.3L400.9 481.6L400.8 481.0L400.6 480.3L400.5 479.7L400.4 479.1L400.3 478.5L400.2 478.0L400.2 477.5L400.2 477.0L400.1 476.6L400.2 476.2L400.2 475.8L400.3 475.4L400.4 475.1L400.5 474.9L400.6 474.7L400.8 474.5L400.9 474.3L401.2 474.2L401.4 474.1L401.6 474.1L401.9 474.1L402.2 474.1L402.6 474.2L402.9 474.3L403.3 474.5L403.7 474.6L404.1 474.8L404.6 475.1L405.0 475.4L405.5 475.7L406.0 476.0L406.5 476.4L407.1 476.7L407.6 477.1L408.2 477.6L408.8 478.0L409.4 478.5L409.9 479.0L410.6 479.5L411.2 480.0L411.8 480.5L412.4 481.0L413.0 481.5L413.7 482.0L414.3 482.5L414.9 483.1L415.5 483.6L416.1 484.1L416.8 484.6L417.4 485.1L418.0 485.6L418.5 486.0L419.1 486.5L419.7 486.9L420.2 487.3L420.8 487.7L421.3 488.0L421.8 488.4L422.3 488.7L422.7 488.9L423.2 489.2L423.6 489.4L424.0 489.6L424.4 489.7L424.7 489.8L425.1 489.9L425.4 489.9L425.6 489.9L425.9 489.9L426.1 489.8L426.3 489.7L426.5 489.5L426.7 489.3L426.8 489.1L426.9 488.8L427.0 488.5L427.1 488.2L427.1 487.8L427.1 487.4L427.1 487.0L427.1 486.5L427.0 486.0L427.0 485.4L426.9 484.9L426.8 484.3L426.6 483.6L426.5 483.0L426.3 482.3L426.2 481.6L426.0 480.9L425.8 480.2L425.6 479.5L425.4 478.7L425.2 477.9L425.0 477.2L424.7 476.4L424.5 475.6L424.3 474.8L424.1 474.0L423.8 473.3L423.6 472.5L423.4 471.7L423.2 471.0L423.0 470.2L422.8 469.5L422.6 468.8L422.4 468.0L422.2 467.4L422.1 466.7L422.0 466.1L421.9 465.5L421.8 464.9L421.7 464.3L421.6 463.8L421.6 463.3L421.6 462.8L421.6 462.4L421.6 462.0L421.6 461.6L421.7 461.3L421.8 461.0L421.9 460.8L422.1 460.6L422.2 460.4L422.4 460.3L422.6 460.2L422.9 460.1L423.2 460.1L423.5 460.1L423.8 460.1L424.1 460.2L424.5 460.4L424.9 460.5L425.3 460.7L425.7 460.9L426.2 461.2L426.6 461.5L427.1 461.8L427.6 462.1L428.2 462.5L428.7 462.9L429.2 463.3L429.8 463.7L430.4 464.2L431.0 464.7L431.6 465.2L432.2 465.6L432.8 466.2L433.4 466.7L434.1 467.2L434.7 467.7L435.3 468.2L435.9 468.8L436.6 469.3L437.2 469.8L437.8 470.3L438.4 470.8L439.0 471.3L439.6 471.7L440.2 472.2L440.7 472.6L441.3 473.1L441.8 473.5L442.4 473.8L442.9 474.2L443.4 474.5L443.9 474.8L444.3 475.0L444.7 475.3L445.2 475.5L445.5 475.6L445.9 475.8L446.3 475.9L446.6 475.9L446.9 475.9L447.1 475.9L447.4 475.9L447.6 475.8L447.8 475.6L448.0 475.5L448.1 475.3L448.3 475.0L448.4 474.7L448.4 474.4L448.5 474.0L448.5 473.7L448.5 473.2L448.5 472.8L448.5 472.3L448.4 471.8L448.3 471.2L448.2 470.6L448.1 470.0L448.0 469.4L447.8 468.7L447.7 468.0L447.5 467.3L447.3 466.6L447.1 465.9L446.9 465.2L446.7 464.4L446.5 463.6L446.3 462.9L446.0 462.1L445.8 461.3L445.6 460.5L445.4 459.7L445.1 458.9L444.9 458.2L444.7 457.4L444.5 456.6L444.3 455.9L444.1 455.2L443.9 454.5L443.7 453.8L443.6 453.1L443.4 452.4L443.3 451.8L443.2 451.2L443.1 450.6L443.0 450.1L443.0 449.6L443.0 449.1L443.0 448.7L443.0 448.2L443.0 447.9L443.1 447.5L443.1 447.2L443.2 446.9L443.4 446.7L443.5 446.5L443.7 446.3L443.9 446.2L444.1 446.1L444.4 446.1L444.7 446.1L445.0 446.1L445.3 446.2L445.7 446.3L446.0 446.4L446.4 446.6L446.9 446.8L447.4 447.2L447.9 447.6L448.5 448.0L449.1 448.5L449.7 449.0L450.4 449.6L451.0 450.1L451.6 450.6L452.2 451.0L452.7 451.5L453.3 451.9L453.8 452.2L454.2 452.5L454.7 452.7L455.1 452.8L455.4 452.9L455.7 453.0L456.0 452.9L456.2 452.9L456.4 452.8L456.6 452.6L456.8 452.5L457.0 452.3L457.1 452.1L457.3 451.9L457.5 451.8L457.7 451.6L457.9 451.5L458.1 451.4L458.3 451.2L458.5 451.1L458.7 451.0L458.9 450.9L459.1 450.7L459.3 450.6L459.5 450.5L459.7 450.4L459.9 450.3L460.1 450.1L460.3 450.0L460.5 449.9L460.7 449.8L461.0 449.7L461.2 449.6L461.4 449.5L461.6 449.4L461.8 449.3L462.0 449.2L462.3 449.1L462.5 449.0L462.7 448.9L462.9 448.8L463.1 448.7L463.4 448.6L463.6 448.5L463.8 448.4L464.0 448.3L464.2 448.2L464.5 448.1L464.7 448.0L464.9 447.9L465.1 447.8L465.3 447.7L465.5 447.6L465.8 447.5L466.0 447.4L466.2 447.3L466.4 447.2L466.6 447.1L466.8 447.0L467.1 446.9L467.3 446.8L467.5 446.6L467.7 446.5L467.9 446.4L468.1 446.3L468.3 446.2L468.5 446.1L468.7 445.9L468.9 445.8L469.1 445.7L469.3 445.6L469.5 445.4L469.7 445.3" fill="none" stroke="#4a7fb5" stroke-width="3.8" stroke-linejoin="round" stroke-linecap="butt"/><polygon points="486.95,434.03 474.77,454.68 463.16,436.94" fill="#4a7fb5"/>
<path d="M337.4 589.8C346.64 582.12 356.09 577.96 364.49 583.39L365.0 583.7L365.5 584.0L365.9 584.3L366.3 584.5L366.8 584.7L367.1 584.8L367.5 585.0L367.9 585.1L368.2 585.1L368.5 585.1L368.7 585.1L369.0 585.1L369.2 585.0L369.4 584.8L369.6 584.7L369.7 584.5L369.9 584.2L370.0 583.9L370.0 583.6L370.1 583.3L370.1 582.9L370.1 582.4L370.1 582.0L370.1 581.5L370.0 581.0L369.9 580.4L369.8 579.8L369.7 579.2L369.6 578.6L369.4 577.9L369.3 577.3L369.1 576.6L368.9 575.8L368.7 575.1L368.5 574.4L368.3 573.6L368.1 572.8L367.9 572.1L367.6 571.3L367.4 570.5L367.2 569.7L367.0 568.9L366.7 568.1L366.5 567.4L366.3 566.6L366.1 565.9L365.9 565.1L365.7 564.4L365.5 563.7L365.3 563.0L365.2 562.3L365.0 561.7L364.9 561.0L364.8 560.4L364.7 559.9L364.6 559.3L364.6 558.8L364.6 558.3L364.5 557.9L364.6 557.4L364.6 557.1L364.6 556.7L364.7 556.4L364.8 556.1L365.0 555.9L365.1 555.7L365.3 555.5L365.5 555.4L365.7 555.3L366.0 555.3L366.3 555.3L366.6 555.3L366.9 555.4L367.3 555.5L367.6 555.6L368.0 555.8L368.4 556.0L368.9 556.3L369.3 556.5L369.8 556.8L370.3 557.1L370.8 557.5L371.4 557.9L371.9 558.3L372.5 558.7L373.0 559.1L373.6 559.6L374.2 560.1L374.8 560.6L375.4 561.1L376.1 561.6L376.7 562.1L377.3 562.6L377.9 563.1L378.6 563.7L379.2 564.2L379.8 564.7L380.4 565.2L381.0 565.7L381.6 566.2L382.2 566.7L382.8 567.1L383.4 567.6L384.0 568.0L384.5 568.4L385.1 568.8L385.6 569.2L386.1 569.5L386.6 569.8L387.0 570.1L387.5 570.4L387.9 570.6L388.3 570.7L388.7 570.9L389.1 571.0L389.4 571.1L389.7 571.1L390.0 571.1L390.2 571.1L390.5 571.0L390.7 570.9L390.9 570.8L391.0 570.6L391.2 570.4L391.3 570.1L391.4 569.8L391.5 569.5L391.5 569.1L391.5 568.7L391.5 568.3L391.5 567.8L391.4 567.3L391.4 566.7L391.3 566.2L391.2 565.6L391.1 565.0L390.9 564.3L390.8 563.7L390.6 563.0L390.4 562.3L390.2 561.5L390.0 560.8L389.8 560.1L389.6 559.3L389.4 558.5L389.2 557.7L388.9 557.0L388.7 556.2L388.5 555.4L388.3 554.6L388.0 553.8L387.8 553.1L387.6 552.3L387.4 551.6L387.2 550.8L387.0 550.1L386.8 549.4L386.7 548.7L386.5 548.0L386.4 547.4L386.3 546.8L386.2 546.2L386.1 545.6L386.0 545.1L386.0 544.6L385.9 544.1L385.9 543.7L386.0 543.3L386.0 542.9L386.1 542.6L386.2 542.3L386.3 542.0L386.4 541.8L386.6 541.6L386.8 541.5L387.0 541.4L387.2 541.3L387.5 541.3L387.8 541.3L388.1 541.3L388.4 541.4L388.8 541.5L389.2 541.7L389.6 541.9L390.0 542.1L390.5 542.4L390.9 542.6L391.4 542.9L391.9 543.3L392.4 543.6L393.0 544.0L393.5 544.4L394.1 544.9L394.7 545.3L395.3 545.8L395.9 546.3L396.5 546.8L397.1 547.3L397.7 547.8L398.3 548.3L399.0 548.8L399.6 549.3L400.2 549.9L400.8 550.4L401.5 550.9L402.1 551.4L402.7 551.9L403.3 552.4L403.9 552.9L404.5 553.3L405.0 553.8L405.6 554.2L406.1 554.6L406.7 555.0L407.2 555.3L407.7 555.6L408.2 555.9L408.6 556.2L409.1 556.4L409.5 556.6L409.9 556.8L410.2 556.9L410.6 557.0L410.9 557.1L411.2 557.1L411.5 557.1L411.7 557.1L412.0 557.0L412.2 556.9L412.4 556.7L412.5 556.5L412.6 556.3L412.7 556.0L412.8 555.7L412.9 555.3L412.9 554.9L412.9 554.5L412.9 554.1L412.9 553.6L412.8 553.1L412.7 552.5L412.7 551.9L412.5 551.3L412.4 550.7L412.3 550.1L412.1 549.4L411.9 548.7L411.8 548.0L411.6 547.2L411.4 546.5L411.2 545.8L410.9 545.0L410.7 544.2L410.5 543.4L410.3 542.6L410.0 541.9L409.8 541.1L409.6 540.3L409.4 539.5L409.1 538.8L408.9 538.0L408.7 537.3L408.5 536.5L408.3 535.8L408.2 535.1L408.0 534.4L407.9 533.8L407.7 533.2L407.6 532.5L407.5 532.0L407.5 531.4L407.4 530.9L407.4 530.4L407.3 529.9L407.4 529.5L407.4 529.1L407.4 528.8L407.5 528.5L407.6 528.2L407.7 527.9L407.9 527.7L408.1 527.6L408.3 527.4L408.5 527.4L408.7 527.3L409.0 527.3L409.3 527.3L409.6 527.4L410.0 527.5L410.4 527.6L410.7 527.8L411.2 528.0L411.6 528.2L412.1 528.5L412.5 528.7L413.0 529.1L413.5 529.4L414.1 529.8L414.6 530.2L415.2 530.6L415.7 531.0L416.3 531.5L416.9 532.0L417.5 532.5L418.1 533.0L418.7 533.5L419.4 534.0L420.0 534.5L420.6 535.0L421.2 535.5L421.9 536.1L422.5 536.6L423.1 537.1L423.7 537.6L424.3 538.1L424.9 538.6L425.5 539.0L426.1 539.5L426.7 539.9L427.2 540.3L427.8 540.7L428.3 541.1L428.8 541.4L429.3 541.8L429.7 542.0L430.2 542.3L430.6 542.5L431.0 542.7L431.4 542.9L431.8 543.0L432.1 543.1L432.4 543.1L432.7 543.1L433.0 543.1L433.2 543.0L433.5 542.9L433.7 542.8L433.8 542.6L434.0 542.4L434.1 542.2L434.2 541.9L434.2 541.5L434.3 541.2L434.3 540.8L434.3 540.3L434.3 539.9L434.3 539.4L434.2 538.9L434.1 538.3L434.0 537.7L433.9 537.1L433.8 536.5L433.6 535.8L433.4 535.1L433.3 534.4L433.1 533.7L432.9 533.0L432.7 532.2L432.5 531.4L432.3 530.7L432.0 529.9L431.8 529.1L431.6 528.3L431.3 527.5L431.1 526.8L430.9 526.0L430.7 525.2L430.5 524.5L430.2 523.7L430.0 523.0L429.9 522.2L429.7 521.5L429.5 520.8L429.4 520.2L429.2 519.5L429.1 518.9L429.0 518.3L428.9 517.7L428.8 517.2L428.8 516.7L428.8 516.2L428.7 515.8L428.8 515.4L428.8 515.0L428.9 514.6L429.0 514.3L429.1 514.1L429.2 513.9L429.4 513.7L429.5 513.5L429.8 513.4L430.0 513.3L430.2 513.3L430.5 513.3L430.8 513.3L431.2 513.4L431.5 513.5L431.9 513.7L432.3 513.8L432.7 514.0L433.2 514.3L433.6 514.6L434.1 514.9L434.6 515.2L435.1 515.6L435.7 515.9L436.2 516.3L436.8 516.8L437.4 517.2L438.0 517.7L438.5 518.2L439.2 518.7L439.8 519.2L440.4 519.7L441.0 520.2L441.6 520.7L442.3 521.2L442.9 521.7L443.5 522.3L444.1 522.8L444.7 523.3L445.4 523.8L446.0 524.3L446.6 524.8L447.1 525.2L447.7 525.7L448.3 526.1L448.8 526.5L449.4 526.9L449.9 527.2L450.4 527.6L450.9 527.9L451.3 528.1L451.8 528.4L452.2 528.6L452.6 528.8L453.0 528.9L453.3 529.0L453.7 529.1L454.0 529.1L454.2 529.1L454.5 529.1L454.7 529.0L454.9 528.9L455.1 528.7L455.3 528.5L455.4 528.3L455.5 528.0L455.6 527.7L455.7 527.4L455.7 527.0L455.7 526.6L455.7 526.2L455.7 525.7L455.6 525.2L455.6 524.6L455.5 524.1L455.4 523.5L455.2 522.8L455.1 522.2L454.9 521.5L454.8 520.8L454.6 520.1L454.4 519.4L454.2 518.7L454.0 517.9L453.8 517.1L453.6 516.4L453.3 515.6L453.1 514.8L452.9 514.0L452.7 513.2L452.4 512.5L452.2 511.7L452.0 510.9L451.8 510.2L451.6 509.4L451.4 508.7L451.2 508.0L451.0 507.2L450.8 506.6L450.7 505.9L450.6 505.3L450.5 504.7L450.4 504.1L450.3 503.5L450.2 503.0L450.2 502.5L450.2 502.0L450.2 501.6L450.2 501.2L450.2 500.8L450.3 500.5L450.4 500.2L450.5 500.0L450.7 499.8L450.8 499.6L451.0 499.5L451.2 499.4L451.5 499.3L451.8 499.3L452.1 499.3L452.4 499.3L452.7 499.4L453.1 499.6L453.5 499.7L453.9 499.9L454.3 500.1L454.8 500.4L455.2 500.7L455.7 501.0L456.2 501.3L456.8 501.7L457.3 502.1L457.8 502.5L458.4 502.9L459.0 503.4L459.6 503.9L460.2 504.4L460.8 504.8L461.4 505.4L462.0 505.9L462.7 506.4L463.3 506.9L463.9 507.4L464.5 508.0L465.2 508.5L465.8 509.0L466.4 509.5L467.0 510.0L467.6 510.5L468.2 510.9L468.8 511.4L469.3 511.8L469.9 512.3L470.4 512.7L471.0 513.0L471.5 513.4L472.0 513.7L472.5 514.0L472.9 514.2L473.3 514.5L473.8 514.7L474.1 514.8L474.5 515.0L474.9 515.1L475.2 515.1L475.5 515.1L475.7 515.1L476.0 515.1L476.2 515.0L476.4 514.8L476.6 514.7L476.7 514.5L476.9 514.2L477.0 513.9L477.0 513.6L477.1 513.2L477.1 512.9L477.1 512.4L477.1 512.0L477.1 511.5L477.0 511.0L476.9 510.4L476.8 509.8L476.7 509.2L476.6 508.6L476.4 507.9L476.3 507.2L476.1 506.5L475.9 505.8L475.7 505.1L475.5 504.4L475.3 503.6L475.1 502.8L474.9 502.1L474.6 501.3L474.4 500.5L474.2 499.7L474.0 498.9L473.7 498.1L473.5 497.4L473.3 496.6L473.1 495.8L472.9 495.1L472.7 494.4L472.5 493.7L472.3 493.0L472.2 492.3L472.0 491.6L471.9 491.0L471.8 490.4L471.7 489.8L471.6 489.3L471.6 488.8L471.6 488.3L471.6 487.9L471.6 487.4L471.6 487.1L471.7 486.7L471.7 486.4L471.8 486.1L472.0 485.9L472.1 485.7L472.3 485.5L472.5 485.4L472.7 485.3L473.0 485.3L473.3 485.3L473.6 485.3L473.9 485.4L474.3 485.5L474.6 485.6L475.0 485.8L475.5 486.0L476.0 486.4L476.5 486.8L477.1 487.2L477.7 487.7L478.3 488.2L479.0 488.8L479.6 489.3L480.2 489.8L480.8 490.2L481.3 490.7L481.9 491.1L482.4 491.4L482.8 491.7L483.3 491.9L483.7 492.0L484.0 492.1L484.3 492.2L484.6 492.1L484.8 492.1L485.0 492.0L485.2 491.8L485.4 491.7L485.6 491.5L485.7 491.3L485.9 491.1L486.1 491.0L486.3 490.8L486.5 490.7L486.7 490.6L486.9 490.4L487.1 490.3L487.3 490.2L487.5 490.1L487.7 489.9L487.9 489.8L488.1 489.7L488.3 489.6L488.5 489.5L488.7 489.3L488.9 489.2L489.1 489.1L489.3 489.0L489.6 488.9L489.8 488.8L490.0 488.7L490.2 488.6L490.4 488.5L490.6 488.4L490.9 488.3L491.1 488.2L491.3 488.1L491.5 488.0L491.7 487.9L492.0 487.8L492.2 487.7L492.4 487.6L492.6 487.5L492.8 487.4L493.1 487.3L493.3 487.2L493.5 487.1L493.7 487.0L493.9 486.9L494.1 486.8L494.4 486.7L494.6 486.6L494.8 486.5L495.0 486.4L495.2 486.3L495.4 486.2L495.7 486.1L495.9 486.0L496.1 485.8L496.3 485.7L496.5 485.6L496.7 485.5L496.9 485.4L497.1 485.3L497.3 485.1L497.5 485.0L497.7 484.9L497.9 484.8L498.1 484.6L498.3 484.5" fill="none" stroke="#4a7fb5" stroke-width="3.8" stroke-linejoin="round" stroke-linecap="butt"/><polygon points="515.55,473.23 503.37,493.88 491.76,476.14" fill="#4a7fb5"/>
<ellipse cx="569.7" cy="370.4" rx="80.2" ry="76.5" fill="#c6e0b4" stroke="#7f7f7f" stroke-width="3.8" stroke-dasharray="8.6 4.6" stroke-dashoffset="3"/>
<path d="M522.43 334.33L542.6 319.57" stroke="#3d4279" stroke-width="4.4" fill="none"/>
<polygon points="553.9,311.3 542.09,333.26 529.39,315.91" fill="#3d4279"/>
<path d="M559.53 340.43L579.7 325.67" stroke="#3d4279" stroke-width="4.4" fill="none"/>
<polygon points="591,317.4 579.19,339.36 566.49,322.01" fill="#3d4279"/>
<path d="M596.53 349.23L616.7 334.47" stroke="#3d4279" stroke-width="4.4" fill="none"/>
<polygon points="628,326.2 616.19,348.16 603.49,330.81" fill="#3d4279"/>
<path d="M516.33 371.43L536.5 356.67" stroke="#3d4279" stroke-width="4.4" fill="none"/>
<polygon points="547.8,348.4 535.99,370.36 523.29,353.01" fill="#3d4279"/>
<path d="M558.53 379.33L578.7 364.57" stroke="#3d4279" stroke-width="4.4" fill="none"/>
<polygon points="590,356.3 578.19,378.26 565.49,360.91" fill="#3d4279"/>
<path d="M601.23 388.63L621.4 373.87" stroke="#3d4279" stroke-width="4.4" fill="none"/>
<polygon points="632.7,365.6 620.89,387.56 608.19,370.21" fill="#3d4279"/>
<path d="M514.53 414.03L534.7 399.27" stroke="#3d4279" stroke-width="4.4" fill="none"/>
<polygon points="546,391 534.19,412.96 521.49,395.61" fill="#3d4279"/>
<path d="M557.13 423.93L577.3 409.17" stroke="#3d4279" stroke-width="4.4" fill="none"/>
<polygon points="588.6,400.9 576.79,422.86 564.09,405.51" fill="#3d4279"/>
<path d="M601.23 423.43L621.4 408.67" stroke="#3d4279" stroke-width="4.4" fill="none"/>
<polygon points="632.7,400.4 620.89,422.36 608.19,405.01" fill="#3d4279"/>
<text transform="translate(-0.32 43) scale(0.9149 1)" font-size="49.2" font-weight="bold">a</text>
<text transform="translate(61.73 82) scale(0.7547 1)" font-size="54.6" font-style="italic">E</text>
<text transform="translate(22.03 262) scale(0.9879 1)" font-size="46.5" font-style="italic">W</text>
<text transform="translate(17.27 485) scale(0.9455 1)" font-size="47" font-style="italic">Δ</text>
<text font-size="47" xml:space="preserve"><tspan x="407.14" y="264.5" font-style="italic" font-size="44.5">μ</tspan><tspan x="438" y="264.5"> </tspan><tspan x="449.18" y="264.5" font-size="46">=</tspan><tspan x="482 490.63" y="264.5"> 0</tspan></text>
<text transform="translate(447 596) rotate(-37) scale(0.93 1)" font-size="49.5" font-style="italic">ω</text>
<text transform="translate(485.4 584.1) rotate(-37) scale(0.96 1)" font-size="36.5">ph</text>
<text transform="translate(277.78 939.3) scale(1.012 1)" font-size="52" font-style="italic">ρ</text>
<text transform="scale(0.9 1)" font-size="34.5" xml:space="preserve"><tspan x="342.53" y="951.6">c</tspan><tspan x="361.56" y="955" font-size="41">/</tspan><tspan x="376.14" y="951.6">i</tspan></text>
<text font-size="52" xml:space="preserve"><tspan x="361.82" y="937.5" font-size="50.5">(</tspan><tspan x="379.99" y="939.6" font-style="italic" font-size="53">ω</tspan><tspan x="422.06" y="937.5" font-size="50.5">)</tspan></text>
<clipPath id="cb1"><rect x="819.8" y="25.7" width="454.7" height="342.5"/></clipPath>
<rect x="821.2" y="25.7" width="444.7" height="342.5" fill="none" stroke="#000" stroke-width="2.4"/>
<path d="M821.2 356h15.5M821.2 293.14h15.5M821.2 230.28h15.5M821.2 167.42h15.5M821.2 104.56h15.5M821.2 41.7h15.5" stroke="#000" stroke-width="2.3" fill="none"/>
<path d="M821.3 368.2v-16.5M849.57 368.2v-9M866.1 368.2v-9M877.83 368.2v-9M886.93 368.2v-9M894.37 368.2v-9M900.65 368.2v-9M906.1 368.2v-9M910.9 368.2v-9M915.2 368.2v-16.5M943.47 368.2v-9M960 368.2v-9M971.73 368.2v-9M980.83 368.2v-9M988.27 368.2v-9M994.55 368.2v-9M1000 368.2v-9M1004.8 368.2v-9M1009.1 368.2v-16.5M1037.37 368.2v-9M1053.9 368.2v-9M1065.63 368.2v-9M1074.73 368.2v-9M1082.17 368.2v-9M1088.45 368.2v-9M1093.9 368.2v-9M1098.7 368.2v-9M1103 368.2v-16.5M1131.27 368.2v-9M1147.8 368.2v-9M1159.53 368.2v-9M1168.63 368.2v-9M1176.07 368.2v-9M1182.35 368.2v-9M1187.8 368.2v-9M1192.6 368.2v-9M1196.9 368.2v-16.5M1225.17 368.2v-9M1241.7 368.2v-9M1253.43 368.2v-9M1262.53 368.2v-9" stroke="#000" stroke-width="2.2" fill="none"/>
<text transform="scale(0.965 1)" x="796.59 814.58 822.45" y="370.01" font-size="40.59" xml:space="preserve">0.0</text>
<text transform="scale(0.965 1)" x="796.59 814.58 821.99" y="307.15" font-size="40.59" xml:space="preserve">0.2</text>
<text transform="scale(0.965 1)" x="796.59 814.58 823.1" y="244.29" font-size="40.59" xml:space="preserve">0.4</text>
<text transform="scale(0.965 1)" x="796.59 814.58 821.97" y="181.43" font-size="40.59" xml:space="preserve">0.6</text>
<text transform="scale(0.965 1)" x="796.59 814.58 822.27" y="118.57" font-size="40.59" xml:space="preserve">0.8</text>
<text transform="scale(0.965 1)" x="797.21 814.58 822.45" y="55.71" font-size="40.59" xml:space="preserve">1.0</text><path d="M771.48 51.38H779.14V57.51H771.48ZM782.64 51.38H789.96V57.51H782.64Z" fill="#fff"/>
<text transform="scale(0.965 1)" font-size="41" xml:space="preserve"><tspan x="821.3 840.26" y="439.8">10</tspan><tspan x="857.94 868.34" y="412.8" font-size="27.68">-1</tspan></text><path d="M794.76 435.44H802.48V441.6H794.76ZM806.02 435.44H813.41V441.6H806.02Z" fill="#fff"/><path d="M839.17 409.43H844.64V414.6H839.17ZM847.04 409.43H852.28V414.6H847.04Z" fill="#fff"/>
<text transform="scale(0.965 1)" font-size="41" xml:space="preserve"><tspan x="923.06 942.03" y="439.8">10</tspan><tspan x="960.68" y="412.8" font-size="27.68">0</tspan></text><path d="M892.96 435.44H900.68V441.6H892.96ZM904.22 435.44H911.61V441.6H904.22Z" fill="#fff"/>
<text transform="scale(0.965 1)" font-size="41" xml:space="preserve"><tspan x="1020.37 1039.33" y="439.8">10</tspan><tspan x="1059.32" y="412.8" font-size="27.68">1</tspan></text><path d="M986.86 435.44H994.58V441.6H986.86ZM998.12 435.44H1005.51V441.6H998.12Z" fill="#fff"/><path d="M1023.47 409.43H1028.94V414.6H1023.47ZM1031.34 409.43H1036.58V414.6H1031.34Z" fill="#fff"/>
<text transform="scale(0.965 1)" font-size="41" xml:space="preserve"><tspan x="1117.67 1136.64" y="439.8">10</tspan><tspan x="1154.98" y="412.8" font-size="27.68">2</tspan></text><path d="M1080.76 435.44H1088.48V441.6H1080.76ZM1092.02 435.44H1099.41V441.6H1092.02Z" fill="#fff"/>
<text transform="scale(0.965 1)" font-size="41" xml:space="preserve"><tspan x="1214.98 1233.94" y="439.8">10</tspan><tspan x="1252.62" y="412.8" font-size="27.68">3</tspan></text><path d="M1174.66 435.44H1182.38V441.6H1174.66ZM1185.92 435.44H1193.31V441.6H1185.92Z" fill="#fff"/>
<g clip-path="url(#cb1)"><path d="M821.5 62.0L822.6 62.5L823.7 62.9L824.8 63.4L826.0 63.8L827.1 64.3L828.2 64.7L829.3 65.2L830.4 65.6L831.5 66.1L832.7 66.6L833.8 67.0L834.9 67.5L836.0 68.0L837.1 68.4L838.2 68.9L839.3 69.4L840.5 69.9L841.6 70.3L842.7 70.8L843.8 71.3L844.9 71.8L846.0 72.2L847.2 72.7L848.3 73.2L849.4 73.6L850.5 74.1L851.6 74.6L852.7 75.2L853.8 75.7L855.0 76.4L856.1 77.0L857.2 77.8L858.3 78.6L859.4 79.4L860.5 80.3L861.7 81.2L862.8 82.1L863.9 83.1L865.0 84.0L866.1 85.0L867.2 86.0L868.3 87.0L869.5 88.1L870.6 89.1L871.7 90.2L872.8 91.3L873.9 92.4L875.0 93.6L876.1 94.7L877.3 95.9L878.4 97.1L879.5 98.4L880.6 99.6L881.7 100.9L882.8 102.2L884.0 103.6L885.1 104.9L886.2 106.3L887.3 107.6L888.4 109.0L889.5 110.5L890.6 111.9L891.8 113.4L892.9 115.0L894.0 116.5L895.1 118.1L896.2 119.6L897.3 121.2L898.5 122.8L899.6 124.4L900.7 126.0L901.8 127.6L902.9 129.2L904.0 130.8L905.1 132.4L906.3 134.0L907.4 135.6L908.5 137.3L909.6 138.9L910.7 140.6L911.8 142.2L913.0 143.9L914.1 145.6L915.2 147.3L916.3 149.0L917.4 150.6L918.5 152.3L919.6 154.0L920.8 155.6L921.9 157.3L923.0 158.9L924.1 160.5L925.2 162.1L926.3 163.7L927.5 165.4L928.6 167.0L929.7 168.5L930.8 170.1L931.9 171.7L933.0 173.3L934.1 174.9L935.3 176.5L936.4 178.1L937.5 179.6L938.6 181.1L939.7 182.6L940.8 184.1L942.0 185.6L943.1 187.0L944.2 188.5L945.3 189.9L946.4 191.3L947.5 192.7L948.6 194.0L949.8 195.2L950.9 196.4L952.0 197.6L953.1 198.8L954.2 199.9L955.3 201.0L956.4 202.0L957.6 203.0L958.7 204.0L959.8 204.8L960.9 205.7L962.0 206.4L963.1 207.2L964.3 207.9L965.4 208.5L966.5 209.2L967.6 209.8L968.7 210.4L969.8 210.9L970.9 211.4L972.1 212.0L973.2 212.4L974.3 212.9L975.4 213.4L976.5 213.8L977.6 214.2L978.8 214.6L979.9 215.0L981.0 215.3L982.1 215.7L983.2 216.0L984.3 216.3L985.4 216.6L986.6 216.9L987.7 217.2L988.8 217.5L989.9 217.7L991.0 218.0L992.1 218.3L993.3 218.6L994.4 218.8L995.5 219.1L996.6 219.4L997.7 219.7L998.8 220.0L999.9 220.2L1001.1 220.5L1002.2 220.8L1003.3 221.1L1004.4 221.3L1005.5 221.6L1006.6 221.9L1007.8 222.2L1008.9 222.5L1010.0 222.8L1011.1 223.1L1012.2 223.4L1013.3 223.7L1014.4 224.0L1015.6 224.3L1016.7 224.6L1017.8 224.9L1018.9 225.2L1020.0 225.5L1021.1 225.8L1022.3 226.2L1023.4 226.5L1024.5 226.8L1025.6 227.2L1026.7 227.5L1027.8 227.9L1028.9 228.2L1030.1 228.6L1031.2 229.0L1032.3 229.3L1033.4 229.7L1034.5 230.1L1035.6 230.5L1036.8 230.8L1037.9 231.2L1039.0 231.6L1040.1 232.0L1041.2 232.4L1042.3 232.9L1043.4 233.3L1044.6 233.7L1045.7 234.1L1046.8 234.5L1047.9 235.0L1049.0 235.4L1050.1 235.8L1051.2 236.3L1052.4 236.7L1053.5 237.2L1054.6 237.7L1055.7 238.1L1056.8 238.6L1057.9 239.1L1059.1 239.6L1060.2 240.1L1061.3 240.6L1062.4 241.1L1063.5 241.6L1064.6 242.2L1065.7 242.7L1066.9 243.2L1068.0 243.8L1069.1 244.4L1070.2 244.9L1071.3 245.5L1072.4 246.1L1073.6 246.7L1074.7 247.2L1075.8 247.8L1076.9 248.4L1078.0 249.0L1079.1 249.6L1080.2 250.1L1081.4 250.7L1082.5 251.3L1083.6 251.8L1084.7 252.4L1085.8 253.0L1086.9 253.5L1088.1 254.1L1089.2 254.7L1090.3 255.3L1091.4 255.9L1092.5 256.4L1093.6 257.0L1094.7 257.6L1095.9 258.2L1097.0 258.8L1098.1 259.4L1099.2 260.1L1100.3 260.7L1101.4 261.3L1102.6 262.0L1103.7 262.6L1104.8 263.2L1105.9 263.9L1107.0 264.6L1108.1 265.2L1109.2 265.9L1110.4 266.6L1111.5 267.3L1112.6 267.9L1113.7 268.6L1114.8 269.3L1115.9 270.0L1117.1 270.7L1118.2 271.4L1119.3 272.1L1120.4 272.7L1121.5 273.4L1122.6 274.1L1123.7 274.8L1124.9 275.5L1126.0 276.2L1127.1 276.9L1128.2 277.5L1129.3 278.2L1130.4 278.9L1131.6 279.6L1132.7 280.3L1133.8 281.0L1134.9 281.7L1136.0 282.4L1137.1 283.1L1138.2 283.9L1139.4 284.6L1140.5 285.3L1141.6 286.0L1142.7 286.8L1143.8 287.5L1144.9 288.3L1146.0 289.0L1147.2 289.8L1148.3 290.5L1149.4 291.3L1150.5 292.0L1151.6 292.8L1152.7 293.6L1153.9 294.3L1155.0 295.1L1156.1 295.8L1157.2 296.6L1158.3 297.4L1159.4 298.1L1160.5 298.9L1161.7 299.6L1162.8 300.4L1163.9 301.1L1165.0 301.9L1166.1 302.6L1167.2 303.4L1168.4 304.1L1169.5 304.9L1170.6 305.6L1171.7 306.4L1172.8 307.2L1173.9 307.9L1175.0 308.7L1176.2 309.4L1177.3 310.2L1178.4 310.9L1179.5 311.7L1180.6 312.4L1181.7 313.2L1182.9 313.9L1184.0 314.7L1185.1 315.5L1186.2 316.2L1187.3 317.0L1188.4 317.8L1189.5 318.5L1190.7 319.3L1191.8 320.1L1192.9 320.8L1194.0 321.6L1195.1 322.3L1196.2 323.1L1197.4 323.8L1198.5 324.5L1199.6 325.2L1200.7 325.9L1201.8 326.6L1202.9 327.3L1204.0 328.0L1205.2 328.7L1206.3 329.4L1207.4 330.1L1208.5 330.8L1209.6 331.4L1210.7 332.1L1211.9 332.7L1213.0 333.4L1214.1 334.0L1215.2 334.6L1216.3 335.2L1217.4 335.8L1218.5 336.4L1219.7 337.0L1220.8 337.6L1221.9 338.2L1223.0 338.7L1224.1 339.3L1225.2 339.8L1226.3 340.4L1227.5 340.9L1228.6 341.4L1229.7 341.9L1230.8 342.3L1231.9 342.8L1233.0 343.3L1234.2 343.7L1235.3 344.1L1236.4 344.6L1237.5 345.0L1238.6 345.4L1239.7 345.8L1240.8 346.2L1242.0 346.6L1243.1 346.9L1244.2 347.3L1245.3 347.6L1246.4 347.9L1247.5 348.2L1248.7 348.5L1249.8 348.9L1250.9 349.2L1252.0 349.5L1253.1 349.7L1254.2 350.0L1255.3 350.3L1256.5 350.6L1257.6 350.8L1258.7 351.1L1259.8 351.3L1260.9 351.6L1262.0 351.8L1263.2 352.0L1264.3 352.2L1265.4 352.4L1266.5 352.6" fill="none" stroke="#0083c9" stroke-width="5.2" stroke-linejoin="round" stroke-linecap="round"/><path d="M821.5 69.6L822.6 70.1L823.6 70.6L824.7 71.1L825.8 71.6L826.9 72.2L827.9 72.7L829.0 73.3L830.1 73.8L831.2 74.4L832.2 75.0L833.3 75.6L834.4 76.2L835.5 76.8L836.5 77.4L837.6 78.0L838.7 78.6L839.8 79.2L840.8 79.8L841.9 80.5L843.0 81.1L844.1 81.8L845.1 82.4L846.2 83.1L847.3 83.8L848.3 84.6L849.4 85.3L850.5 86.1L851.6 86.9L852.6 87.7L853.7 88.6L854.8 89.5L855.9 90.5L856.9 91.5L858.0 92.6L859.1 93.7L860.2 94.8L861.2 96.0L862.3 97.2L863.4 98.3L864.5 99.5L865.5 100.7L866.6 101.9L867.7 103.1L868.8 104.4L869.8 105.7L870.9 107.0L872.0 108.4L873.0 109.7L874.1 111.2L875.2 112.6L876.3 114.2L877.3 115.7L878.4 117.3L879.5 119.0L880.6 120.6L881.6 122.3L882.7 124.0L883.8 125.8L884.9 127.5L885.9 129.3L887.0 131.2L888.1 133.0L889.2 134.9L890.2 136.8L891.3 138.7L892.4 140.7L893.5 142.7L894.5 144.7L895.6 146.8L896.7 148.9L897.7 151.0L898.8 153.2L899.9 155.3L901.0 157.4L902.0 159.6L903.1 161.8L904.2 164.0L905.3 166.2L906.3 168.5L907.4 170.7L908.5 173.1L909.6 175.4L910.6 177.8L911.7 180.3L912.8 182.8L913.9 185.2L914.9 187.6L916.0 190.0L917.1 192.4L918.2 194.7L919.2 197.0L920.3 199.3L921.4 201.6L922.4 203.9L923.5 206.1L924.6 208.3L925.7 210.5L926.7 212.6L927.8 214.8L928.9 216.9L930.0 218.9L931.0 221.0L932.1 223.0L933.2 225.0L934.3 227.0L935.3 229.0L936.4 230.9L937.5 232.8L938.6 234.6L939.6 236.4L940.7 238.1L941.8 239.8L942.9 241.5L943.9 243.1L945.0 244.7L946.1 246.2L947.2 247.7L948.2 249.2L949.3 250.6L950.4 252.0L951.4 253.3L952.5 254.7L953.6 256.0L954.7 257.2L955.7 258.5L956.8 259.7L957.9 260.8L959.0 262.0L960.0 263.0L961.1 264.1L962.2 265.1L963.3 266.0L964.3 266.9L965.4 267.9L966.5 268.7L967.6 269.6L968.6 270.4L969.7 271.3L970.8 272.1L971.9 272.9L972.9 273.7L974.0 274.4L975.1 275.2L976.1 275.9L977.2 276.7L978.3 277.4L979.4 278.1L980.4 278.8L981.5 279.5L982.6 280.1L983.7 280.8L984.7 281.4L985.8 282.1L986.9 282.7L988.0 283.3L989.0 283.9L990.1 284.6L991.2 285.2L992.3 285.8L993.3 286.4L994.4 287.0L995.5 287.5L996.6 288.1L997.6 288.7L998.7 289.3L999.8 289.9L1000.8 290.5L1001.9 291.1L1003.0 291.6L1004.1 292.2L1005.1 292.8L1006.2 293.4L1007.3 294.0L1008.4 294.6L1009.4 295.3L1010.5 295.9L1011.6 296.5L1012.7 297.1L1013.7 297.8L1014.8 298.4L1015.9 299.0L1017.0 299.7L1018.0 300.3L1019.1 301.0L1020.2 301.6L1021.3 302.3L1022.3 302.9L1023.4 303.5L1024.5 304.2L1025.5 304.8L1026.6 305.5L1027.7 306.1L1028.8 306.8L1029.8 307.4L1030.9 308.0L1032.0 308.7L1033.1 309.3L1034.1 310.0L1035.2 310.6L1036.3 311.3L1037.4 311.9L1038.4 312.6L1039.5 313.2L1040.6 313.9L1041.7 314.5L1042.7 315.2L1043.8 315.8L1044.9 316.5L1046.0 317.1L1047.0 317.8L1048.1 318.4L1049.2 319.1L1050.2 319.7L1051.3 320.4L1052.4 321.0L1053.5 321.6L1054.5 322.2L1055.6 322.8L1056.7 323.4L1057.8 324.0L1058.8 324.6L1059.9 325.2L1061.0 325.8L1062.1 326.4L1063.1 326.9L1064.2 327.5L1065.3 328.1L1066.4 328.6L1067.4 329.2L1068.5 329.7L1069.6 330.3L1070.7 330.8L1071.7 331.4L1072.8 332.0L1073.9 332.5L1074.9 333.1L1076.0 333.6L1077.1 334.2L1078.2 334.7L1079.2 335.3L1080.3 335.8L1081.4 336.3L1082.5 336.8L1083.5 337.3L1084.6 337.8L1085.7 338.3L1086.8 338.8L1087.8 339.2L1088.9 339.7L1090.0 340.2L1091.1 340.6L1092.1 341.0L1093.2 341.5L1094.3 341.9L1095.4 342.3L1096.4 342.7L1097.5 343.1L1098.6 343.5L1099.6 343.9L1100.7 344.2L1101.8 344.6L1102.9 345.0L1103.9 345.3L1105.0 345.7L1106.1 346.0L1107.2 346.3L1108.2 346.7L1109.3 347.0L1110.4 347.3L1111.5 347.6L1112.5 347.9L1113.6 348.2L1114.7 348.4L1115.8 348.7L1116.8 348.9L1117.9 349.2L1119.0 349.4L1120.1 349.6L1121.1 349.9L1122.2 350.1L1123.3 350.3L1124.3 350.5L1125.4 350.7L1126.5 350.9L1127.6 351.1L1128.6 351.3L1129.7 351.5L1130.8 351.6L1131.9 351.8L1132.9 352.0L1134.0 352.1L1135.1 352.3L1136.2 352.4L1137.2 352.6L1138.3 352.7L1139.4 352.9L1140.5 353.0L1141.5 353.1L1142.6 353.2L1143.7 353.4L1144.8 353.5L1145.8 353.6L1146.9 353.7L1148.0 353.8L1149.1 353.9L1150.1 354.0L1151.2 354.1L1152.3 354.2L1153.3 354.2L1154.4 354.3L1155.5 354.4L1156.6 354.5L1157.6 354.6L1158.7 354.6L1159.8 354.7L1160.9 354.8L1161.9 354.8L1163.0 354.9L1164.1 354.9L1165.2 355.0L1166.2 355.0L1167.3 355.1L1168.4 355.2L1169.5 355.2L1170.5 355.3L1171.6 355.3L1172.7 355.3L1173.8 355.4L1174.8 355.4L1175.9 355.5L1177.0 355.5L1178.0 355.5L1179.1 355.6L1180.2 355.6L1181.3 355.6L1182.3 355.7L1183.4 355.7L1184.5 355.7L1185.6 355.8L1186.6 355.8L1187.7 355.8L1188.8 355.8L1189.9 355.9L1190.9 355.9L1192.0 355.9L1193.1 355.9L1194.2 356.0L1195.2 356.0L1196.3 356.0L1197.4 356.0L1198.5 356.0L1199.5 356.0L1200.6 356.0L1201.7 356.0L1202.7 356.0L1203.8 356.0L1204.9 356.0L1206.0 356.0L1207.0 356.0L1208.1 356.0L1209.2 356.0L1210.3 356.0L1211.3 356.0L1212.4 356.0L1213.5 356.0L1214.6 356.0L1215.6 356.0L1216.7 356.0L1217.8 356.0L1218.9 356.0L1219.9 356.0L1221.0 356.0L1222.1 356.0L1223.2 356.0L1224.2 356.0L1225.3 356.0L1226.4 356.0L1227.4 356.0L1228.5 356.0L1229.6 356.0L1230.7 356.0L1231.7 356.0L1232.8 356.0L1233.9 356.0L1235.0 356.0L1236.0 356.0L1237.1 356.0L1238.2 356.0L1239.3 356.0L1240.3 356.0L1241.4 356.0L1242.5 356.0L1243.6 356.0L1244.6 356.0L1245.7 356.0L1246.8 356.0L1247.9 356.0L1248.9 356.0L1250.0 356.0" fill="none" stroke="#fdaa7f" stroke-width="5.2" stroke-linejoin="round" stroke-linecap="round"/><path d="M821.5 75.6L822.4 76.2L823.4 76.8L824.3 77.3L825.3 77.9L826.2 78.5L827.2 79.1L828.1 79.8L829.0 80.4L830.0 81.0L830.9 81.6L831.9 82.2L832.8 82.9L833.8 83.5L834.7 84.1L835.7 84.8L836.6 85.4L837.5 86.1L838.5 86.8L839.4 87.5L840.4 88.3L841.3 89.1L842.3 89.9L843.2 90.8L844.1 91.6L845.1 92.5L846.0 93.5L847.0 94.4L847.9 95.4L848.9 96.3L849.8 97.3L850.8 98.3L851.7 99.3L852.6 100.3L853.6 101.4L854.5 102.4L855.5 103.5L856.4 104.6L857.4 105.7L858.3 106.9L859.2 108.1L860.2 109.2L861.1 110.4L862.1 111.7L863.0 113.0L864.0 114.2L864.9 115.6L865.8 116.9L866.8 118.2L867.7 119.6L868.7 121.0L869.6 122.4L870.6 123.9L871.5 125.3L872.5 126.8L873.4 128.3L874.3 129.8L875.3 131.4L876.2 133.0L877.2 134.6L878.1 136.2L879.1 137.8L880.0 139.5L880.9 141.2L881.9 143.0L882.8 144.8L883.8 146.6L884.7 148.4L885.7 150.3L886.6 152.2L887.6 154.1L888.5 156.0L889.4 158.0L890.4 159.9L891.3 161.9L892.3 163.9L893.2 165.9L894.2 168.0L895.1 170.0L896.0 172.1L897.0 174.2L897.9 176.3L898.9 178.4L899.8 180.5L900.8 182.6L901.7 184.7L902.7 186.9L903.6 189.1L904.5 191.2L905.5 193.4L906.4 195.7L907.4 197.9L908.3 200.1L909.3 202.4L910.2 204.6L911.1 206.9L912.1 209.2L913.0 211.5L914.0 213.9L914.9 216.3L915.9 218.7L916.8 221.1L917.7 223.5L918.7 225.8L919.6 228.1L920.6 230.4L921.5 232.6L922.5 234.9L923.4 237.1L924.4 239.3L925.3 241.5L926.2 243.7L927.2 245.8L928.1 247.9L929.1 250.0L930.0 252.0L931.0 254.0L931.9 256.0L932.8 258.0L933.8 259.9L934.7 261.8L935.7 263.7L936.6 265.6L937.6 267.4L938.5 269.2L939.5 271.0L940.4 272.7L941.3 274.4L942.3 276.2L943.2 277.8L944.2 279.5L945.1 281.1L946.1 282.8L947.0 284.3L947.9 285.8L948.9 287.3L949.8 288.7L950.8 290.1L951.7 291.5L952.7 292.8L953.6 294.1L954.5 295.3L955.5 296.6L956.4 297.8L957.4 298.9L958.3 300.1L959.3 301.2L960.2 302.2L961.2 303.3L962.1 304.3L963.0 305.3L964.0 306.3L964.9 307.3L965.9 308.2L966.8 309.1L967.8 310.0L968.7 310.9L969.6 311.7L970.6 312.5L971.5 313.3L972.5 314.1L973.4 314.8L974.4 315.6L975.3 316.3L976.3 317.0L977.2 317.7L978.1 318.3L979.1 318.9L980.0 319.5L981.0 320.1L981.9 320.6L982.9 321.2L983.8 321.7L984.7 322.2L985.7 322.7L986.6 323.1L987.6 323.6L988.5 324.1L989.5 324.5L990.4 324.9L991.3 325.4L992.3 325.8L993.2 326.2L994.2 326.6L995.1 327.1L996.1 327.5L997.0 327.9L998.0 328.3L998.9 328.6L999.8 329.0L1000.8 329.4L1001.7 329.7L1002.7 330.1L1003.6 330.5L1004.6 330.8L1005.5 331.2L1006.4 331.5L1007.4 331.9L1008.3 332.2L1009.3 332.6L1010.2 333.0L1011.2 333.3L1012.1 333.7L1013.1 334.1L1014.0 334.4L1014.9 334.8L1015.9 335.1L1016.8 335.5L1017.8 335.9L1018.7 336.2L1019.7 336.6L1020.6 336.9L1021.5 337.3L1022.5 337.6L1023.4 337.9L1024.4 338.3L1025.3 338.6L1026.3 338.9L1027.2 339.3L1028.2 339.6L1029.1 339.9L1030.0 340.3L1031.0 340.6L1031.9 340.9L1032.9 341.2L1033.8 341.5L1034.8 341.8L1035.7 342.1L1036.6 342.4L1037.6 342.7L1038.5 343.0L1039.5 343.3L1040.4 343.6L1041.4 343.9L1042.3 344.2L1043.2 344.5L1044.2 344.8L1045.1 345.1L1046.1 345.3L1047.0 345.6L1048.0 345.9L1048.9 346.1L1049.9 346.4L1050.8 346.7L1051.7 346.9L1052.7 347.2L1053.6 347.4L1054.6 347.7L1055.5 347.9L1056.5 348.2L1057.4 348.4L1058.3 348.7L1059.3 348.9L1060.2 349.1L1061.2 349.4L1062.1 349.6L1063.1 349.8L1064.0 350.0L1065.0 350.3L1065.9 350.5L1066.8 350.7L1067.8 350.9L1068.7 351.1L1069.7 351.2L1070.6 351.4L1071.6 351.6L1072.5 351.8L1073.4 351.9L1074.4 352.1L1075.3 352.2L1076.3 352.4L1077.2 352.5L1078.2 352.7L1079.1 352.8L1080.0 353.0L1081.0 353.1L1081.9 353.2L1082.9 353.3L1083.8 353.5L1084.8 353.6L1085.7 353.7L1086.7 353.8L1087.6 353.9L1088.5 354.0L1089.5 354.1L1090.4 354.2L1091.4 354.3L1092.3 354.4L1093.3 354.5L1094.2 354.6L1095.1 354.7L1096.1 354.7L1097.0 354.8L1098.0 354.9L1098.9 354.9L1099.9 355.0L1100.8 355.0L1101.8 355.1L1102.7 355.2L1103.6 355.2L1104.6 355.3L1105.5 355.3L1106.5 355.3L1107.4 355.4L1108.4 355.4L1109.3 355.5L1110.2 355.5L1111.2 355.6L1112.1 355.6L1113.1 355.6L1114.0 355.7L1115.0 355.7L1115.9 355.7L1116.8 355.7L1117.8 355.8L1118.7 355.8L1119.7 355.8L1120.6 355.8L1121.6 355.8L1122.5 355.8L1123.5 355.8L1124.4 355.9L1125.3 355.9L1126.3 355.9L1127.2 355.9L1128.2 355.9L1129.1 355.9L1130.1 355.9L1131.0 355.9L1131.9 355.9L1132.9 355.9L1133.8 355.9L1134.8 355.9L1135.7 355.9L1136.7 356.0L1137.6 356.0L1138.6 356.0L1139.5 356.0L1140.4 356.0L1141.4 356.0L1142.3 356.0L1143.3 356.0L1144.2 356.0L1145.2 356.0L1146.1 356.0L1147.0 356.0L1148.0 356.0L1148.9 356.0L1149.9 356.0L1150.8 356.0L1151.8 356.0L1152.7 356.0L1153.7 356.0L1154.6 356.0L1155.5 356.0L1156.5 356.0L1157.4 356.0L1158.4 356.0L1159.3 356.0L1160.3 356.0L1161.2 356.0L1162.1 356.0L1163.1 356.0L1164.0 356.0L1165.0 356.0L1165.9 356.0L1166.9 356.0L1167.8 356.0L1168.7 356.0L1169.7 356.0L1170.6 356.0L1171.6 356.0L1172.5 356.0L1173.5 356.0L1174.4 356.0L1175.4 356.0L1176.3 356.0L1177.2 356.0L1178.2 356.0L1179.1 356.0L1180.1 356.0L1181.0 356.0L1182.0 356.0L1182.9 356.0L1183.8 356.0L1184.8 356.0L1185.7 356.0L1186.7 356.0L1187.6 356.0L1188.6 356.0L1189.5 356.0L1190.5 356.0L1191.4 356.0L1192.3 356.0L1193.3 356.0L1194.2 356.0L1195.2 356.0L1196.1 356.0L1197.1 356.0L1198.0 356.0" fill="none" stroke="#74b87c" stroke-width="5.2" stroke-linejoin="round" stroke-linecap="round"/></g>
<path d="M1039.6 86.4H1098.8" stroke="#0083c9" stroke-width="5" fill="none"/>
<text transform="scale(0.86 1)" font-size="33.4" xml:space="preserve"><tspan x="1287.23" y="102" font-style="italic">T</tspan><tspan x="1310 1333.35 1351.37 1359.75" y="102">=0.1</tspan></text><path d="M1170.77 98.21H1176.59V103.8H1170.77ZM1179.17 98.21H1184.75V103.8H1179.17Z" fill="#fff"/>
<path d="M1039.6 124H1098.8" stroke="#fdaa7f" stroke-width="5" fill="none"/>
<text transform="scale(0.86 1)" font-size="33.4" xml:space="preserve"><tspan x="1287.23" y="136.4" font-style="italic">T</tspan><tspan x="1310 1333.35 1351.37 1360.59" y="136.4">=0.3</tspan></text>
<path d="M1039.6 161.2H1098.8" stroke="#74b87c" stroke-width="5" fill="none"/>
<text transform="scale(0.86 1)" font-size="33.4" xml:space="preserve"><tspan x="1287.23" y="172.4" font-style="italic">T</tspan><tspan x="1310 1333.35 1351.37 1360.52" y="172.4">=0.5</tspan></text>
<path d="M824.1 498.8H1260.5M824.1 842.3H1260.5" stroke="#000" stroke-width="2.4" fill="none"/>
<path d="M825.2 500V841.1" stroke="#404040" stroke-width="2.3" fill="none"/>
<path d="M1260 498.8H1269V842.3H1260" stroke="#14659f" stroke-width="2.8" fill="none"/>
<path d="M825.2 833.8h15.8M825.2 751.95h15.8M825.2 670.1h15.8M825.2 588.25h15.8M825.2 506.4h15.8" stroke="#404040" stroke-width="2.2" fill="none"/>
<path d="M844.4 842.3v-17.6M945.75 842.3v-17.6M1047.1 842.3v-17.6M1148.45 842.3v-17.6M1249.8 842.3v-17.6" stroke="#000" stroke-width="2.3" fill="none"/>
<path d="M1269 785.6h-17M1269 671h-17M1269 556.4h-17M1269 728.3h-9M1269 613.7h-9" stroke="#14659f" stroke-width="2.5" fill="none"/>
<path d="M844.4 525.0L844.7 527.3L845.0 529.6L845.3 531.9L845.7 534.2L846.0 536.5L846.3 538.8L846.7 541.1L847.0 543.4L847.3 545.7L847.7 548.0L848.0 550.3L848.3 552.6L848.7 554.9L849.0 557.2L849.4 559.5L849.7 561.8L850.0 564.1L850.3 566.4L850.7 568.7L851.0 571.0L851.3 573.3L851.6 575.6L852.0 577.9L852.3 580.2L852.6 582.5L853.0 584.8L853.3 587.1L853.7 589.4L854.0 591.7L854.4 594.0L854.7 596.3L855.1 598.6L855.5 600.9L855.9 603.2L856.3 605.5L856.6 607.8L857.0 610.1L857.5 612.4L857.9 614.7L858.3 616.9L858.7 619.2L859.1 621.5L859.6 623.8L860.0 626.1L860.5 628.4L860.9 630.6L861.4 632.9L861.9 635.2L862.3 637.5L862.8 639.7L863.3 642.0L863.8 644.3L864.4 646.6L864.9 648.8L865.4 651.1L866.0 653.3L866.6 655.6L867.2 657.8L867.8 660.1L868.4 662.3L869.0 664.6L869.6 666.8L870.2 669.0L870.9 671.3L871.6 673.5L872.2 675.7L872.9 678.0L873.6 680.2L874.2 682.4L874.9 684.6L875.6 686.8L876.3 689.1L877.0 691.3L877.8 693.5L878.5 695.7L879.3 697.9L880.0 700.1L880.8 702.3L881.6 704.4L882.5 706.6L883.3 708.8L884.2 710.9L885.1 713.1L886.0 715.2L886.9 717.4L887.9 719.5L888.9 721.6L889.8 723.7L890.9 725.8L891.9 727.9L892.9 729.9L894.0 732.0L895.1 734.1L896.2 736.1L897.4 738.1L898.5 740.1L899.7 742.1L900.9 744.1L902.1 746.1L903.3 748.1L904.5 750.1L905.8 752.0L907.1 754.0L908.4 755.9L909.8 757.7L911.2 759.6L912.7 761.4L914.2 763.2L915.7 764.9L917.3 766.6L918.9 768.3L920.5 770.0L922.1 771.7L923.8 773.3L925.5 774.9L927.2 776.5L928.9 778.0L930.7 779.6L932.4 781.1L934.2 782.6L936.1 784.0L937.9 785.4L939.8 786.8L941.7 788.2L943.6 789.5L945.5 790.8L947.5 792.0L949.5 793.2L951.5 794.3L953.6 795.4L955.6 796.5L957.7 797.5L959.9 798.4L962.0 799.4L964.1 800.2L966.3 801.1L968.5 801.9L970.7 802.7L972.8 803.5L975.0 804.3L977.2 805.0L979.4 805.8L981.7 806.5L983.9 807.2L986.1 807.8L988.3 808.5L990.6 809.1L992.8 809.7L995.1 810.3L997.3 810.9L999.6 811.4L1001.9 811.9L1004.1 812.4L1006.4 812.8L1008.7 813.3L1011.0 813.7L1013.3 814.1L1015.6 814.6L1017.8 815.0L1020.1 815.4L1022.4 815.8L1024.7 816.2L1027.0 816.6L1029.3 817.0L1031.6 817.4L1033.9 817.8L1036.2 818.1L1038.5 818.4L1040.8 818.8L1043.1 819.1L1045.4 819.4L1047.7 819.7L1050.0 820.0L1052.3 820.2L1054.6 820.5L1056.9 820.8L1059.2 821.0L1061.6 821.3L1063.9 821.5L1066.2 821.7L1068.5 822.0L1070.8 822.2L1073.1 822.4L1075.4 822.6L1077.8 822.8L1080.1 823.0L1082.4 823.2L1084.7 823.4L1087.0 823.6L1089.3 823.8L1091.7 824.0L1094.0 824.2L1096.3 824.3L1098.6 824.5L1100.9 824.7L1103.3 824.8L1105.6 825.0L1107.9 825.2L1110.2 825.3L1112.5 825.5L1114.8 825.6L1117.2 825.7L1119.5 825.9L1121.8 826.0L1124.1 826.1L1126.5 826.3L1128.8 826.4L1131.1 826.5L1133.4 826.6L1135.7 826.7L1138.1 826.8L1140.4 827.0L1142.7 827.1L1145.0 827.2L1147.4 827.3L1149.7 827.4L1152.0 827.5L1154.3 827.6L1156.6 827.7L1159.0 827.8L1161.3 827.9L1163.6 827.9L1165.9 828.0L1168.3 828.1L1170.6 828.2L1172.9 828.3L1175.2 828.4L1177.6 828.5L1179.9 828.6L1182.2 828.6L1184.5 828.7L1186.8 828.8L1189.2 828.9L1191.5 828.9L1193.8 829.0L1196.1 829.1L1198.5 829.2L1200.8 829.2L1203.1 829.3L1205.4 829.4L1207.8 829.4L1210.1 829.5L1212.4 829.6L1214.7 829.6L1217.1 829.7L1219.4 829.7L1221.7 829.8L1224.0 829.9L1226.4 829.9L1228.7 830.0L1231.0 830.0L1233.3 830.1L1235.7 830.1L1238.0 830.2L1240.3 830.2L1242.6 830.3L1245.0 830.3L1247.3 830.4L1249.6 830.4" fill="none" stroke="#454545" stroke-width="2.1" stroke-dasharray="10 5"/>
<path d="M844.4 556.6L1047 672L1249.6 785.6" fill="none" stroke="#14659f" stroke-width="2.6" stroke-dasharray="10 5.5"/>
<path d="M844.4 514.6l10.4 10.4l-10.4 10.4l-10.4 -10.4Z" fill="#8c8c8c" stroke="#1a1a1a" stroke-width="1.1"/>
<path d="M1047 809.2l10.4 10.4l-10.4 10.4l-10.4 -10.4Z" fill="#8c8c8c" stroke="#1a1a1a" stroke-width="1.1"/>
<path d="M1249.6 820l10.4 10.4l-10.4 10.4l-10.4 -10.4Z" fill="#8c8c8c" stroke="#1a1a1a" stroke-width="1.1"/>
<rect x="836.9" y="549.1" width="15" height="15" fill="#0f69a6" stroke="#111" stroke-width="1.2"/>
<rect x="1039.5" y="664.5" width="15" height="15" fill="#0f69a6" stroke="#111" stroke-width="1.2"/>
<rect x="1242.1" y="778.1" width="15" height="15" fill="#0f69a6" stroke="#111" stroke-width="1.2"/>
<text transform="scale(0.98 1)" x="811.92" y="846.4" font-size="34.5" fill="#404040" stroke="#404040" stroke-width="0.8" xml:space="preserve">0</text>
<text transform="scale(0.98 1)" x="774.28 792.94 811.92" y="764.55" font-size="34.5" fill="#404040" stroke="#404040" stroke-width="0.8" xml:space="preserve">100</text><path d="M760.17 760.27H766.88V766.75H760.17ZM770.71 760.27H777.14V766.75H770.71Z" fill="#fff"/>
<text transform="scale(0.98 1)" x="773.57 792.94 811.92" y="682.7" font-size="34.5" fill="#404040" stroke="#404040" stroke-width="0.8" xml:space="preserve">200</text>
<text transform="scale(0.98 1)" x="773.99 792.94 811.92" y="600.85" font-size="34.5" fill="#404040" stroke="#404040" stroke-width="0.8" xml:space="preserve">300</text>
<text transform="scale(0.98 1)" x="774.51 792.94 811.92" y="519" font-size="34.5" fill="#404040" stroke="#404040" stroke-width="0.8" xml:space="preserve">400</text>
<text transform="scale(0.89 1)" x="923.33 945.07 955.02" y="889.6" font-size="35.5" stroke="#000" stroke-width="0.8" xml:space="preserve">0.1</text><path d="M851.17 885.25H857.49V891.8H851.17ZM861.12 885.25H867.19V891.8H861.12Z" fill="#fff"/>
<text transform="scale(0.89 1)" x="1037.21 1058.95 1068.5" y="889.6" font-size="35.5" stroke="#000" stroke-width="0.8" xml:space="preserve">0.2</text>
<text transform="scale(0.89 1)" x="1151.09 1172.83 1182.81" y="889.6" font-size="35.5" stroke="#000" stroke-width="0.8" xml:space="preserve">0.3</text>
<text transform="scale(0.89 1)" x="1264.96 1286.7 1297.22" y="889.6" font-size="35.5" stroke="#000" stroke-width="0.8" xml:space="preserve">0.4</text>
<text transform="scale(0.89 1)" x="1378.84 1400.58 1410.49" y="889.6" font-size="35.5" stroke="#000" stroke-width="0.8" xml:space="preserve">0.5</text>
<text transform="scale(0.88 1)" x="1454.07 1474.37 1482.4 1504.64" y="798.5" font-size="35.5" fill="#14659f" stroke="#14659f" stroke-width="0.8" xml:space="preserve">0.30</text>
<text transform="scale(0.88 1)" x="1454.07 1474.37 1482.94 1504.64" y="683.9" font-size="35.5" fill="#14659f" stroke="#14659f" stroke-width="0.8" xml:space="preserve">0.40</text>
<text transform="scale(0.88 1)" x="1454.07 1474.37 1482.33 1504.64" y="569.3" font-size="35.5" fill="#14659f" stroke="#14659f" stroke-width="0.8" xml:space="preserve">0.50</text>
<text transform="translate(1031.71 947.6) scale(0.8488 1)" font-size="39.2" font-style="italic">T</text>
<text transform="translate(729.2 708) rotate(-90) scale(1.32 1)" font-size="37.2" font-style="italic" fill="#111">τ</text>
<text transform="translate(739.6 688.2) rotate(-90)" font-size="25.6" font-style="italic" fill="#111">α</text>
<text transform="translate(728.6 661.6) rotate(-90) scale(0.92 1)" font-size="38" fill="#111">(<tspan font-style="italic">T</tspan>)</text>
<text transform="translate(1357 653) rotate(90) scale(0.7 1)" font-size="44" font-style="italic">B</text>
<text transform="translate(1358 687) rotate(90) scale(0.86 1)" font-size="38">(<tspan font-style="italic">T</tspan>)</text>
<text transform="translate(736 232.6) rotate(-90) scale(0.72 1)" font-size="42" font-style="italic">C</text>
<text transform="translate(746.3 210) rotate(-90) scale(1.18 1)" font-size="23.5" font-style="italic">gl</text>
<text transform="translate(735.5 184) rotate(-90) scale(1 1)" font-size="38" letter-spacing="3.6">(<tspan font-style="italic">t</tspan>)</text>
<text transform="translate(1022.87 480) scale(1.232 1)" font-size="38" font-style="italic">t</text>
<text transform="translate(704.03 52.2) scale(1.021 1)" font-size="51.5" font-weight="bold">b</text>
<rect x="1532.3" y="30.2" width="440.1" height="338.2" fill="none" stroke="#000" stroke-width="2.4"/>
<path d="M1532.3 353.8h15.5M1532.3 292.14h15.5M1532.3 230.48h15.5M1532.3 168.82h15.5M1532.3 107.16h15.5M1532.3 45.5h15.5" stroke="#000" stroke-width="2.3" fill="none"/>
<path d="M1532.45 368.4v-16M1560.37 368.4v-9M1576.7 368.4v-9M1588.29 368.4v-9M1597.28 368.4v-9M1604.62 368.4v-9M1610.83 368.4v-9M1616.21 368.4v-9M1620.96 368.4v-9M1625.2 368.4v-16M1653.12 368.4v-9M1669.45 368.4v-9M1681.04 368.4v-9M1690.03 368.4v-9M1697.37 368.4v-9M1703.58 368.4v-9M1708.96 368.4v-9M1713.71 368.4v-9M1717.95 368.4v-16M1745.87 368.4v-9M1762.2 368.4v-9M1773.79 368.4v-9M1782.78 368.4v-9M1790.12 368.4v-9M1796.33 368.4v-9M1801.71 368.4v-9M1806.46 368.4v-9M1810.7 368.4v-16M1838.62 368.4v-9M1854.95 368.4v-9M1866.54 368.4v-9M1875.53 368.4v-9M1882.87 368.4v-9M1889.08 368.4v-9M1894.46 368.4v-9M1899.21 368.4v-9M1903.45 368.4v-16M1931.37 368.4v-9M1947.7 368.4v-9M1959.29 368.4v-9M1968.28 368.4v-9" stroke="#000" stroke-width="2.2" fill="none"/>
<clipPath id="cc1"><rect x="1530.9" y="30.2" width="442.9" height="338.2"/></clipPath>
<g clip-path="url(#cc1)"><path d="M1532.50 45.70L1533.00 45.70L1533.50 45.71L1534.00 45.71L1534.50 45.71L1535.00 45.72L1535.50 45.72L1536.00 45.72L1536.50 45.72L1537.00 45.72L1537.50 45.72L1538.00 45.72L1538.50 45.72L1539.00 45.71L1539.50 45.71L1540.00 45.71L1540.50 45.70L1541.00 45.70L1541.50 45.70L1542.00 45.69L1542.50 45.69L1543.00 45.68L1543.50 45.67L1544.00 45.67L1544.50 45.66L1545.00 45.65L1545.50 45.65L1546.00 45.64L1546.50 45.63L1547.00 45.62L1547.50 45.61L1548.00 45.61L1548.50 45.60L1549.00 45.59L1549.50 45.58L1550.00 45.57L1550.50 45.56L1551.00 45.55L1551.50 45.54L1552.00 45.53L1552.50 45.52L1553.00 45.51L1553.50 45.50L1554.00 45.49L1554.50 45.48L1555.00 45.47L1555.50 45.46L1556.00 45.45L1556.50 45.44L1557.00 45.44L1557.50 45.43L1558.00 45.42L1558.50 45.41L1559.00 45.40L1559.50 45.39L1560.00 45.38L1560.50 45.37L1561.00 45.37L1561.50 45.36L1562.00 45.35L1562.50 45.35L1563.00 45.34L1563.50 45.33L1564.00 45.33L1564.50 45.32L1565.00 45.32L1565.50 45.31L1566.00 45.31L1566.50 45.31L1567.00 45.30L1567.50 45.30L1568.00 45.30L1568.50 45.30L1569.00 45.30L1569.50 45.30L1570.00 45.30L1570.50 45.30L1571.00 45.29L1571.50 45.28L1572.00 45.26L1572.50 45.24L1573.00 45.21L1573.50 45.19L1574.00 45.17L1574.50 45.14L1575.00 45.12L1575.50 45.11L1576.00 45.10L1576.50 45.10L1576.72 45.10L1577.00 45.10L1577.50 45.12L1578.00 45.14L1578.50 45.17L1579.00 45.22L1579.50 45.28L1580.00 45.36L1580.50 45.45L1581.00 45.55L1581.50 45.67L1582.00 45.80L1582.50 45.94L1583.00 46.08L1583.50 46.24L1584.00 46.40L1584.50 46.57L1585.00 46.74L1585.50 46.92L1586.00 47.11L1586.50 47.29L1587.00 47.48L1587.50 47.67L1588.00 47.86L1588.50 48.05L1589.00 48.24L1589.50 48.42L1590.00 48.60L1590.50 48.78L1591.00 48.96L1591.50 49.14L1592.00 49.33L1592.50 49.52L1593.00 49.71L1593.50 49.90L1594.00 50.09L1594.50 50.29L1595.00 50.49L1595.50 50.70L1596.00 50.91L1596.50 51.12L1597.00 51.34L1597.29 51.46L1597.50 51.56L1598.00 51.78L1598.50 52.01L1599.00 52.25L1599.50 52.49L1600.00 52.73L1600.50 52.98L1601.00 53.24L1601.50 53.50L1602.00 53.77L1602.50 54.05L1603.00 54.33L1603.50 54.62L1604.00 54.92L1604.50 55.23L1605.00 55.56L1605.50 55.90L1606.00 56.25L1606.50 56.61L1607.00 56.98L1607.50 57.36L1608.00 57.75L1608.50 58.14L1609.00 58.54L1609.50 58.95L1610.00 59.37L1610.50 59.79L1610.84 60.08L1611.00 60.22L1611.50 60.65L1612.00 61.08L1612.50 61.52L1613.00 61.96L1613.50 62.40L1614.00 62.84L1614.50 63.29L1615.00 63.73L1615.50 64.17L1616.00 64.61L1616.50 65.05L1617.00 65.49L1617.50 65.93L1618.00 66.36L1618.50 66.80L1619.00 67.24L1619.50 67.68L1620.00 68.14L1620.50 68.59L1620.96 69.02L1621.50 69.52L1622.00 69.99L1622.50 70.47L1623.00 70.95L1623.50 71.44L1624.00 71.94L1624.50 72.44L1625.00 72.95L1625.50 73.46L1626.00 73.98L1626.50 74.51L1627.00 75.04L1627.50 75.58L1628.00 76.13L1628.50 76.68L1629.00 77.24L1629.50 77.81L1630.00 78.38L1630.50 78.96L1631.00 79.55L1631.50 80.15L1632.00 80.76L1632.50 81.37L1633.00 81.99L1633.50 82.62L1634.00 83.25L1634.50 83.90L1635.00 84.55L1635.50 85.21L1635.77 85.57L1636.00 85.88L1636.50 86.55L1637.00 87.24L1637.50 87.94L1638.00 88.64L1638.50 89.35L1639.00 90.08L1639.50 90.81L1640.00 91.55L1640.50 92.30L1641.00 93.06L1641.50 93.83L1642.00 94.61L1642.50 95.40L1643.00 96.19L1643.50 97.00L1644.00 97.82L1644.50 98.64L1645.00 99.47L1645.50 100.32L1646.00 101.17L1646.50 102.03L1647.00 102.90L1647.50 103.77L1648.00 104.66L1648.50 105.55L1649.00 106.45L1649.50 107.36L1650.00 108.27L1650.50 109.19L1651.00 110.11L1651.50 111.04L1652.00 111.96L1652.50 112.89L1653.00 113.82L1653.50 114.74L1654.00 115.67L1654.50 116.59L1655.00 117.50L1655.50 118.41L1656.00 119.31L1656.50 120.21L1657.00 121.09L1657.50 121.96L1658.00 122.82L1658.50 123.66L1658.75 124.08L1659.00 124.49L1659.50 125.30L1660.00 126.09L1660.50 126.86L1661.00 127.60L1661.50 128.32L1662.00 129.02L1662.50 129.69L1663.00 130.33L1663.50 130.95L1664.00 131.54L1664.50 132.10L1665.00 132.63L1665.21 132.85L1665.50 133.13L1666.00 133.60L1666.50 134.06L1667.00 134.54L1667.50 135.02L1668.00 135.49L1668.50 135.92L1669.00 136.30L1669.50 136.61L1670.00 136.84L1670.50 136.96L1670.78 136.99L1671.00 136.98L1671.50 136.92L1672.00 136.81L1672.50 136.65L1673.00 136.44L1673.29 136.29L1673.50 136.17L1674.00 135.86L1674.50 135.49L1675.00 135.07L1675.50 134.59L1675.66 134.42L1676.00 134.05L1676.50 133.45L1677.00 132.80L1677.50 132.08L1677.90 131.47L1678.50 130.47L1679.00 129.58L1679.50 128.62L1680.00 127.60L1680.50 126.52L1681.00 125.37L1681.50 124.17L1682.00 122.90L1682.50 121.58L1683.00 120.20L1683.50 118.75L1683.95 117.40L1684.50 115.71L1685.00 114.11L1685.50 112.46L1685.79 111.49L1686.00 110.76L1686.50 109.01L1687.00 107.23L1687.50 105.41L1688.00 103.55L1688.50 101.67L1689.00 99.76L1689.22 98.92L1689.50 97.83L1690.00 95.88L1690.50 93.92L1690.83 92.64L1691.00 91.96L1691.50 90.00L1692.00 88.06L1692.38 86.59L1692.50 86.12L1693.00 84.21L1693.50 82.33L1693.87 80.96L1694.00 80.49L1694.50 78.69L1695.00 76.95L1695.31 75.90L1695.50 75.27L1696.00 73.66L1696.50 72.13L1696.70 71.55L1697.00 70.69L1697.50 69.34L1698.00 68.11L1698.50 66.99L1699.00 65.99L1699.34 65.39L1699.50 65.13L1700.00 64.41L1700.50 63.84L1701.00 63.43L1701.50 63.19L1701.82 63.12L1702.00 63.12L1702.50 63.24L1703.00 63.57L1703.50 64.13L1704.00 64.92L1704.15 65.21L1704.50 65.94L1705.00 67.19L1705.27 67.97L1705.50 68.66L1706.00 70.35L1706.36 71.72L1706.50 72.26L1707.00 74.38L1707.42 76.33L1707.50 76.69L1708.00 79.19L1708.46 81.62L1709.00 84.68L1709.46 87.40L1710.00 90.68L1710.44 93.47L1710.50 93.82L1711.00 97.01L1711.40 99.61L1711.50 100.22L1712.00 103.44L1712.34 105.61L1712.50 106.61L1713.00 109.71L1713.26 111.26L1713.50 112.71L1714.00 115.56L1714.15 116.39L1714.50 118.23L1715.00 120.68L1715.50 122.89L1715.88 124.39L1716.00 124.80L1716.50 126.41L1716.72 127.01L1717.00 127.66L1717.50 128.54L1718.00 129.03L1718.35 129.12L1718.50 129.09L1719.00 128.73L1719.14 128.55L1719.50 127.94L1719.92 126.95L1720.50 125.08L1720.68 124.40L1721.00 123.03L1721.42 120.99L1721.50 120.58L1722.00 117.77L1722.15 116.83L1722.50 114.62L1722.87 112.08L1723.00 111.18L1723.50 107.50L1723.58 106.89L1724.00 103.64L1724.28 101.46L1724.50 99.66L1724.96 95.97L1725.00 95.63L1725.50 91.63L1725.63 90.61L1726.00 87.73L1726.29 85.57L1726.50 84.03L1726.94 81.01L1727.00 80.60L1727.50 77.53L1727.58 77.09L1728.00 74.89L1728.21 73.94L1728.50 72.76L1728.83 71.67L1729.00 71.20L1729.44 70.35L1730.00 70.00L1730.50 70.44L1730.63 70.67L1731.00 71.60L1731.21 72.32L1731.50 73.47L1731.79 74.88L1732.00 76.04L1732.36 78.29L1732.50 79.26L1732.92 82.39L1733.00 83.06L1733.47 87.07L1734.00 92.03L1734.50 96.97L1734.55 97.47L1735.00 102.03L1735.08 102.84L1735.50 107.06L1735.60 108.08L1736.00 111.88L1736.12 112.99L1736.50 116.35L1736.63 117.43L1737.00 120.29L1737.13 121.23L1737.50 123.56L1737.63 124.28L1738.00 126.01L1738.12 126.47L1738.50 127.53L1739.00 128.05L1739.50 127.49L1740.00 125.87L1740.49 123.26L1740.95 120.00L1741.00 119.60L1741.40 116.09L1741.50 115.16L1741.85 111.66L1742.00 110.07L1742.29 106.87L1742.50 104.54L1742.73 101.91L1743.00 98.80L1743.16 96.92L1743.50 93.13L1743.59 92.11L1744.00 87.79L1744.44 83.61L1744.50 83.05L1744.85 80.22L1745.00 79.16L1745.26 77.55L1745.50 76.36L1745.67 75.68L1746.00 74.80L1746.47 74.60L1746.87 75.40L1747.00 75.88L1747.26 77.06L1747.50 78.53L1747.64 79.55L1748.00 82.49L1748.41 86.55L1748.50 87.57L1748.78 90.85L1749.00 93.49L1749.16 95.47L1749.50 99.91L1749.53 100.25L1749.89 105.07L1750.00 106.46L1750.26 109.72L1750.50 112.69L1750.62 114.04L1750.97 117.91L1751.33 121.19L1751.50 122.56L1751.67 123.76L1752.00 125.46L1752.37 126.49L1752.50 126.62L1752.71 126.55L1753.00 125.91L1753.38 124.12L1753.50 123.35L1753.71 121.72L1754.00 119.10L1754.05 118.65L1754.37 115.00L1754.50 113.45L1754.70 110.92L1755.00 106.83L1755.34 102.04L1755.50 99.77L1755.66 97.56L1755.97 93.26L1756.00 92.87L1756.28 89.26L1756.50 86.76L1756.59 85.74L1756.90 82.82L1757.00 82.01L1757.21 80.57L1757.50 79.12L1757.81 78.41L1758.00 78.41L1758.40 79.55L1758.50 80.04L1758.70 81.33L1758.99 83.84L1759.28 86.99L1759.50 89.77L1759.57 90.69L1759.85 94.78L1760.00 97.01L1760.14 99.15L1760.42 103.64L1760.50 104.93L1760.70 108.08L1760.98 112.35L1761.00 112.70L1761.25 116.29L1761.50 119.46L1761.53 119.76L1761.80 122.66L1762.00 124.40L1762.07 124.90L1762.34 126.38L1762.50 126.90L1762.87 126.96L1763.00 126.60L1763.13 126.04L1763.39 124.36L1763.50 123.47L1763.65 121.97L1763.91 118.98L1764.00 117.83L1764.17 115.48L1764.42 111.59L1764.50 110.36L1764.68 107.45L1764.93 103.23L1765.00 102.02L1765.18 99.03L1765.43 95.05L1765.50 93.93L1765.67 91.39L1765.92 88.18L1766.00 87.25L1766.16 85.55L1766.41 83.58L1766.50 83.01L1766.65 82.34L1766.89 81.86L1767.13 82.17L1767.36 83.26L1767.50 84.23L1767.60 85.08L1767.83 87.57L1768.00 89.72L1768.07 90.64L1768.30 94.19L1768.50 97.61L1768.53 98.09L1768.76 102.21L1768.98 106.42L1769.21 110.56L1769.43 114.49L1769.50 115.57L1769.66 118.08L1769.88 121.21L1770.00 122.66L1770.10 123.78L1770.32 125.70L1770.50 126.73L1770.76 127.37L1770.98 127.07L1771.19 126.02L1771.41 124.28L1771.50 123.30L1771.62 121.90L1771.83 118.96L1772.00 116.29L1772.04 115.59L1772.25 111.88L1772.46 108.00L1772.50 107.24L1772.67 104.04L1772.88 100.16L1773.00 97.91L1773.08 96.52L1773.29 93.20L1773.49 90.36L1773.69 88.07L1773.89 86.40L1774.00 85.79L1774.09 85.44L1774.29 85.19L1774.49 85.68L1774.69 86.87L1774.88 88.75L1775.00 90.15L1775.08 91.21L1775.27 94.21L1775.47 97.63L1775.50 98.22L1775.66 101.32L1775.85 105.20L1776.00 108.24L1776.04 109.12L1776.23 112.94L1776.42 116.54L1776.50 117.93L1776.61 119.80L1776.80 122.59L1776.98 124.83L1777.17 126.46L1777.36 127.42L1777.50 127.67L1777.72 127.20L1777.90 126.06L1778.00 125.19L1778.09 124.26L1778.27 121.89L1778.45 119.03L1778.50 118.08L1778.62 115.77L1778.80 112.24L1778.98 108.54L1779.00 108.14L1779.16 104.84L1779.33 101.23L1779.50 98.01L1779.68 94.83L1779.86 92.26L1780.00 90.53L1780.03 90.23L1780.20 88.82L1780.37 88.06L1780.50 87.94L1780.71 88.60L1780.88 89.89L1781.00 91.14L1781.05 91.78L1781.22 94.24L1781.39 97.16L1781.50 99.38L1781.55 100.47L1781.72 104.00L1781.88 107.68L1782.00 110.30L1782.05 111.37L1782.21 114.95L1782.38 118.27L1782.50 120.59L1782.54 121.23L1782.70 123.75L1782.86 125.73L1783.00 126.97L1783.18 127.84L1783.34 127.90L1783.50 127.30L1783.66 126.06L1783.81 124.23L1783.97 121.86L1784.00 121.35L1784.13 119.06L1784.28 115.90L1784.44 112.52L1784.50 111.11L1784.59 109.04L1784.74 105.56L1784.90 102.23L1785.00 100.13L1785.05 99.13L1785.20 96.40L1785.35 94.13L1785.50 92.43L1785.65 91.23L1785.81 90.71L1785.95 90.83L1786.10 91.59L1786.25 92.97L1786.40 94.90L1786.50 96.54L1786.55 97.34L1786.69 100.20L1786.84 103.37L1786.98 106.72L1787.00 107.13L1787.13 110.18L1787.27 113.62L1787.42 116.89L1787.50 118.70L1787.56 119.92L1787.70 122.59L1787.85 124.81L1787.99 126.51L1788.13 127.63L1788.27 128.15L1788.41 128.05L1788.50 127.65L1788.55 127.33L1788.69 126.03L1788.83 124.21L1788.97 121.90L1789.00 121.27L1789.10 119.22L1789.24 116.27L1789.38 113.12L1789.50 110.25L1789.52 109.89L1789.65 106.73L1789.79 103.70L1789.92 100.95L1790.00 99.51L1790.06 98.56L1790.19 96.59L1790.33 95.13L1790.46 94.23L1790.59 93.92L1790.72 94.19L1790.86 95.05L1790.99 96.46L1791.12 98.37L1791.25 100.73L1791.38 103.42L1791.50 106.18L1791.64 109.52L1791.77 112.69L1791.90 115.82L1792.00 118.21L1792.03 118.77L1792.15 121.47L1792.28 123.81L1792.41 125.72L1792.50 126.82L1792.53 127.15L1792.66 128.05L1792.79 128.38L1792.91 128.14L1793.00 127.64L1793.16 126.04L1793.29 124.25L1793.41 122.05L1793.50 120.24L1793.53 119.54L1793.66 116.79L1793.78 113.88L1793.90 110.94L1794.00 108.62L1794.02 108.07L1794.14 105.38L1794.27 102.93L1794.39 100.83L1794.50 99.26L1794.63 97.95L1794.75 97.27L1794.99 97.50L1795.11 98.42L1795.22 99.83L1795.34 101.71L1795.46 103.93L1795.50 104.77L1795.58 106.49L1795.69 109.25L1795.81 112.13L1795.93 115.03L1796.00 116.80L1796.04 117.86L1796.16 120.52L1796.28 122.91L1796.39 124.97L1796.50 126.57L1796.62 127.83L1796.73 128.52L1796.96 128.35L1797.07 127.50L1797.19 126.18L1797.30 124.45L1797.41 122.34L1797.50 120.49L1797.52 119.96L1797.63 117.40L1797.75 114.72L1797.86 112.02L1797.97 109.40L1798.00 108.67L1798.08 106.97L1798.19 104.79L1798.30 102.94L1798.41 101.49L1798.50 100.62L1798.63 99.98L1798.84 100.45L1798.95 101.42L1799.00 102.01L1799.06 102.82L1799.17 104.64L1799.27 106.79L1799.38 109.20L1799.49 111.78L1799.50 112.13L1799.59 114.46L1799.70 117.14L1799.80 119.74L1799.91 122.16L1800.00 124.02L1800.12 126.13L1800.22 127.55L1800.33 128.55L1800.43 129.07L1800.64 128.68L1800.74 127.78L1800.85 126.46L1800.95 124.75L1801.00 123.78L1801.05 122.72L1801.15 120.46L1801.26 118.03L1801.36 115.52L1801.46 113.03L1801.50 112.05L1801.56 110.64L1801.66 108.43L1801.76 106.47L1801.86 104.85L1801.96 103.59L1802.00 103.24L1802.06 102.78L1802.16 102.42L1802.36 103.09L1802.46 104.09L1802.50 104.62L1802.56 105.51L1802.66 107.28L1802.76 109.34L1802.85 111.64L1802.95 114.09L1803.00 115.34L1803.05 116.61L1803.15 119.08L1803.24 121.46L1803.34 123.66L1803.44 125.58L1803.50 126.70L1803.53 127.21L1803.63 128.44L1803.72 129.26L1803.82 129.64L1804.00 129.13L1804.11 128.11L1804.20 126.78L1804.30 125.10L1804.39 123.16L1804.48 121.00L1804.50 120.62L1804.58 118.71L1804.67 116.36L1804.77 114.06L1804.86 111.87L1804.95 109.86L1805.00 108.90L1805.04 108.10L1805.14 106.67L1805.23 105.61L1805.32 104.95L1805.50 104.91L1805.60 105.58L1805.69 106.62L1805.78 108.03L1805.87 109.76L1805.96 111.77L1806.00 112.69L1806.05 113.94L1806.14 116.27L1806.23 118.62L1806.32 120.92L1806.41 123.10L1806.50 125.09L1806.59 126.84L1806.68 128.26L1806.77 129.33L1806.86 129.99L1807.00 130.19L1807.12 129.49L1807.21 128.51L1807.30 127.18L1807.38 125.56L1807.47 123.67L1807.50 123.05L1807.56 121.62L1807.65 119.46L1807.73 117.27L1807.82 115.14L1807.91 113.12L1807.99 111.30L1808.08 109.74L1808.16 108.48L1808.25 107.59L1808.34 107.08L1808.50 107.24L1808.59 107.97L1808.68 109.04L1808.76 110.46L1808.85 112.14L1808.93 114.09L1809.00 115.82L1809.01 116.17L1809.10 118.36L1809.18 120.54L1809.27 122.69L1809.35 124.70L1809.43 126.53L1809.50 127.83L1809.60 129.35L1809.68 130.25L1809.76 130.78L1809.93 130.66L1810.00 130.11L1810.09 129.03L1810.17 127.71L1810.26 126.11L1810.34 124.31L1810.42 122.36L1810.50 120.33L1810.58 118.29L1810.66 116.30L1810.74 114.47L1810.82 112.81L1810.90 111.42L1810.98 110.33L1811.06 109.59L1811.14 109.21L1811.30 109.60L1811.38 110.34L1811.46 111.44L1811.50 112.14L1811.54 112.83L1811.62 114.49L1811.69 116.35L1811.77 118.33L1811.85 120.41L1811.93 122.46L1812.00 124.25L1812.09 126.31L1812.16 127.97L1812.24 129.36L1812.32 130.46L1812.40 131.23L1812.47 131.63L1812.63 131.34L1812.70 130.65L1812.78 129.65L1812.86 128.34L1812.93 126.80L1813.00 125.29L1813.09 123.23L1813.16 121.31L1813.24 119.40L1813.31 117.59L1813.39 115.90L1813.46 114.42L1813.50 113.78L1813.54 113.19L1813.61 112.25L1813.69 111.64L1813.84 111.48L1813.91 111.94L1813.99 112.73L1814.06 113.83L1814.13 115.21L1814.21 116.82L1814.28 118.61L1814.36 120.52L1814.43 122.45L1814.50 124.32L1814.58 126.23L1814.65 127.93L1814.72 129.43L1814.80 130.69L1814.87 131.64L1814.94 132.28L1815.09 132.53L1815.16 132.14L1815.23 131.43L1815.30 130.41L1815.37 129.13L1815.44 127.65L1815.50 126.37L1815.52 125.99L1815.59 124.25L1815.66 122.44L1815.73 120.68L1815.80 119.00L1815.87 117.47L1815.94 116.14L1816.00 115.24L1816.08 114.26L1816.15 113.78L1816.30 113.81L1816.37 114.33L1816.43 115.16L1816.50 116.19L1816.57 117.62L1816.64 119.20L1816.71 120.89L1816.78 122.71L1816.85 124.54L1816.92 126.33L1816.99 128.04L1817.06 129.60L1817.13 130.94L1817.20 132.06L1817.27 132.89L1817.33 133.41L1817.47 133.49L1817.54 133.05L1817.61 132.31L1817.67 131.29L1817.74 130.04L1817.81 128.62L1817.88 127.03L1817.94 125.38L1818.00 123.96L1818.08 122.06L1818.14 120.52L1818.21 119.13L1818.28 117.96L1818.35 117.00L1818.41 116.33L1818.48 115.96L1818.61 116.16L1818.68 116.72L1818.74 117.57L1818.81 118.69L1818.88 120.02L1818.94 121.52L1819.00 123.01L1819.07 124.85L1819.14 126.59L1819.20 128.25L1819.27 129.82L1819.33 131.24L1819.40 132.46L1819.46 133.45L1819.50 133.90L1819.59 134.58L1819.72 134.50L1819.79 134.02L1819.85 133.26L1819.91 132.26L1819.98 131.04L1820.00 130.56L1820.04 129.66L1820.11 128.16L1820.17 126.59L1820.23 125.02L1820.30 123.51L1820.36 122.09L1820.42 120.84L1820.49 119.79L1820.55 118.96L1820.61 118.41L1820.74 118.16L1820.80 118.48L1820.86 119.07L1820.93 119.94L1820.99 121.04L1821.05 122.35L1821.11 123.80L1821.17 125.36L1821.24 126.97L1821.30 128.58L1821.36 130.14L1821.42 131.59L1821.48 132.89L1821.55 133.97L1821.61 134.84L1821.67 135.44L1821.73 135.77L1821.85 135.56L1821.91 135.03L1821.97 134.26L1822.00 133.87L1822.04 133.25L1822.10 132.08L1822.16 130.74L1822.22 129.31L1822.28 127.85L1822.34 126.40L1822.40 124.98L1822.46 123.69L1822.50 122.90L1822.52 122.56L1822.58 121.62L1822.64 120.91L1822.70 120.45L1822.88 120.73L1822.94 121.36L1823.00 122.25L1823.06 123.33L1823.12 124.59L1823.17 126.01L1823.23 127.50L1823.29 129.03L1823.35 130.51L1823.41 131.96L1823.47 133.30L1823.50 133.94L1823.53 134.48L1823.59 135.45L1823.64 136.22L1823.70 136.72L1823.88 136.62L1823.94 136.07L1823.99 135.28L1824.05 134.29L1824.11 133.15L1824.17 131.87L1824.22 130.50L1824.28 129.13L1824.34 127.75L1824.40 126.46L1824.45 125.28L1824.50 124.44L1824.57 123.41L1824.63 122.81L1824.68 122.44L1824.85 122.91L1824.91 123.58L1824.97 124.45L1825.00 125.07L1825.02 125.53L1825.08 126.76L1825.14 128.12L1825.19 129.53L1825.25 130.97L1825.30 132.38L1825.36 133.73L1825.42 134.95L1825.47 136.02L1825.50 136.49L1825.53 136.90L1825.58 137.55L1825.64 137.97L1825.81 137.69L1825.86 137.12L1825.92 136.33L1825.97 135.36L1826.00 134.78L1826.03 134.24L1826.08 133.01L1826.14 131.71L1826.19 130.40L1826.25 129.12L1826.30 127.91L1826.36 126.84L1826.41 125.90L1826.46 125.16L1826.50 124.80L1826.57 124.37L1826.74 125.00L1826.79 125.68L1826.84 126.56L1826.90 127.63L1826.95 128.83L1827.00 129.99L1827.06 131.47L1827.11 132.84L1827.17 134.18L1827.22 135.42L1827.27 136.54L1827.33 137.52L1827.38 138.30L1827.43 138.86L1827.49 139.20L1827.64 138.77L1827.70 138.17L1827.75 137.37L1827.80 136.40L1827.86 135.32L1827.91 134.13L1827.96 132.88L1828.00 131.99L1828.01 131.66L1828.07 130.47L1828.12 129.34L1828.17 128.35L1828.22 127.52L1828.28 126.88L1828.33 126.44L1828.48 126.52L1828.54 127.01L1828.59 127.72L1828.64 128.60L1828.69 129.65L1828.74 130.81L1828.79 132.07L1828.84 133.36L1828.89 134.64L1828.95 135.91L1829.00 137.06L1829.05 138.10L1829.10 138.98L1829.15 139.67L1829.20 140.16L1829.35 140.26L1829.40 139.84L1829.46 139.21L1829.50 138.53L1829.56 137.47L1829.61 136.41L1829.66 135.28L1829.71 134.09L1829.76 132.93L1829.81 131.81L1829.86 130.78L1829.91 129.88L1829.96 129.13L1830.00 128.64L1830.06 128.21L1830.21 128.46L1830.26 128.98L1830.31 129.69L1830.36 130.59L1830.40 131.61L1830.45 132.73L1830.50 133.86L1830.55 135.18L1830.60 136.40L1830.65 137.57L1830.70 138.65L1830.75 139.61L1830.80 140.40L1830.85 141.02L1830.90 141.43L1831.04 141.37L1831.09 140.92L1831.14 140.29L1831.19 139.49L1831.24 138.56L1831.29 137.52L1831.33 136.43L1831.38 135.32L1831.43 134.22L1831.48 133.18L1831.50 132.71L1831.53 132.23L1831.57 131.40L1831.62 130.73L1831.67 130.24L1831.77 129.88L1831.86 130.36L1831.91 130.91L1831.96 131.64L1832.00 132.46L1832.05 133.52L1832.10 134.63L1832.14 135.79L1832.19 136.96L1832.24 138.13L1832.29 139.23L1832.33 140.23L1832.38 141.10L1832.43 141.82L1832.47 142.35L1832.52 142.70L1832.66 142.48L1832.71 142.01L1832.76 141.36L1832.80 140.58L1832.85 139.66L1832.89 138.67L1832.94 137.62L1832.99 136.55L1833.03 135.52L1833.08 134.55L1833.13 133.65L1833.17 132.91L1833.22 132.32L1833.27 131.91L1833.40 131.85L1833.45 132.23L1833.49 132.80L1833.54 133.54L1833.59 134.42L1833.63 135.40L1833.68 136.48L1833.72 137.58L1833.77 138.72L1833.81 139.80L1833.86 140.85L1833.90 141.77L1833.95 142.56L1833.99 143.20L1834.04 143.67L1834.13 144.03L1834.22 143.60L1834.27 143.11L1834.31 142.47L1834.35 141.68L1834.40 140.78L1834.44 139.81L1834.49 138.82L1834.53 137.80L1834.58 136.84L1834.62 135.92L1834.67 135.12L1834.71 134.43L1834.76 133.92L1834.80 133.56L1834.93 133.66L1834.98 134.07L1835.02 134.66L1835.06 135.40L1835.11 136.27L1835.15 137.24L1835.20 138.28L1835.24 139.35L1835.28 140.43L1835.33 141.47L1835.37 142.41L1835.41 143.28L1835.46 144.00L1835.50 144.56L1835.55 144.98L1835.68 145.07L1835.72 144.73L1835.76 144.23L1835.81 143.58L1835.85 142.79L1835.89 141.92L1835.93 140.99L1835.98 140.02L1836.00 139.53L1836.02 139.07L1836.06 138.15L1836.11 137.30L1836.15 136.56L1836.19 135.97L1836.23 135.51L1836.32 135.12L1836.41 135.46L1836.45 135.90L1836.49 136.51L1836.53 137.24L1836.58 138.11L1836.62 139.05L1836.66 140.05L1836.70 141.09L1836.74 142.11L1836.79 143.08L1836.83 143.97L1836.87 144.76L1836.91 145.43L1836.95 145.94L1837.00 146.28L1837.12 146.24L1837.16 145.87L1837.21 145.36L1837.25 144.70L1837.29 143.92L1837.33 143.09L1837.37 142.18L1837.41 141.27L1837.46 140.35L1837.50 139.50L1837.54 138.71L1837.58 138.04L1837.62 137.50L1837.66 137.10L1837.79 136.94L1837.87 137.70L1837.91 138.31L1837.95 139.05L1837.99 139.90L1838.03 140.83L1838.07 141.80L1838.11 142.79L1838.15 143.76L1838.19 144.66L1838.24 145.51L1838.28 146.24L1838.32 146.84L1838.36 147.29L1838.44 147.69L1838.56 147.02L1838.60 146.50L1838.64 145.83L1838.68 145.08L1838.72 144.26L1838.76 143.39L1838.80 142.52L1838.84 141.66L1838.88 140.84L1838.92 140.12L1838.96 139.52L1839.00 139.05L1839.04 138.70L1839.16 138.68L1839.20 139.00L1839.24 139.49L1839.28 140.12L1839.32 140.84L1839.36 141.69L1839.40 142.57L1839.44 143.52L1839.48 144.46L1839.50 145.00L1839.52 145.39L1839.56 146.24L1839.60 147.03L1839.63 147.70L1839.67 148.23L1839.71 148.63L1839.79 148.93L1839.87 148.58L1839.91 148.18L1839.95 147.64L1839.99 146.99L1840.03 146.24L1840.07 145.44L1840.10 144.62L1840.14 143.78L1840.18 142.97L1840.22 142.22L1840.26 141.56L1840.30 141.00L1840.34 140.57L1840.41 140.17L1840.50 140.49L1840.57 141.27L1840.61 141.89L1840.64 142.62L1840.68 143.45L1840.72 144.32L1840.76 145.22L1840.80 146.11L1840.83 146.98L1840.87 147.81L1840.91 148.53L1840.95 149.14L1840.99 149.62L1841.03 149.96L1841.18 149.77L1841.21 149.34L1841.25 148.80L1841.29 148.16L1841.33 147.43L1841.37 146.65L1841.40 145.87L1841.44 145.06L1841.48 144.31L1841.50 143.88L1841.55 143.01L1841.59 142.50L1841.63 142.13L1841.70 141.82L1841.78 142.14L1841.81 142.51L1841.85 143.02L1841.89 143.65L1841.92 144.38L1841.96 145.18L1842.00 146.02L1842.04 146.89L1842.07 147.75L1842.11 148.57L1842.15 149.33L1842.18 150.01L1842.22 150.57L1842.26 151.00L1842.33 151.43L1842.44 150.97L1842.48 150.53L1842.50 150.22L1842.55 149.35L1842.59 148.64L1842.62 147.90L1842.66 147.12L1842.70 146.38L1842.73 145.68L1842.77 145.02L1842.81 144.47L1842.84 144.03L1842.88 143.70L1843.00 143.68L1843.06 144.25L1843.10 144.79L1843.13 145.42L1843.17 146.14L1843.20 146.93L1843.24 147.73L1843.28 148.57L1843.31 149.39L1843.35 150.17L1843.38 150.88L1843.42 151.50L1843.45 152.00L1843.49 152.39L1843.56 152.73L1843.67 152.19L1843.70 151.74L1843.74 151.20L1843.78 150.57L1843.81 149.89L1843.85 149.17L1843.88 148.43L1843.92 147.73L1843.95 147.07L1843.99 146.46L1844.02 145.96L1844.06 145.56L1844.13 145.16L1844.23 145.60L1844.27 146.01L1844.30 146.55L1844.34 147.18L1844.37 147.89L1844.41 148.66L1844.44 149.43L1844.48 150.23L1844.50 150.75L1844.55 151.75L1844.58 152.42L1844.62 152.97L1844.65 153.44L1844.69 153.78L1844.82 153.76L1844.86 153.42L1844.89 152.97L1844.93 152.42L1844.96 151.82L1845.00 151.16L1845.03 150.45L1845.07 149.76L1845.10 149.10L1845.13 148.47L1845.17 147.92L1845.20 147.47L1845.24 147.12L1845.31 146.80L1845.41 147.33L1845.44 147.76L1845.47 148.30L1845.50 148.75L1845.54 149.62L1845.58 150.37L1845.61 151.14L1845.64 151.89L1845.68 152.63L1845.71 153.32L1845.75 153.94L1845.78 154.46L1845.81 154.87L1845.88 155.32L1845.98 155.02L1846.02 154.67L1846.05 154.22L1846.08 153.68L1846.12 153.09L1846.15 152.43L1846.18 151.77L1846.22 151.10L1846.25 150.48L1846.28 149.90L1846.32 149.39L1846.35 148.99L1846.41 148.50L1846.55 149.06L1846.58 149.50L1846.61 150.04L1846.65 150.66L1846.68 151.35L1846.71 152.07L1846.75 152.81L1846.78 153.54L1846.81 154.24L1846.84 154.87L1846.88 155.44L1846.91 155.92L1846.94 156.29L1847.00 156.65L1847.11 156.29L1847.14 155.93L1847.17 155.47L1847.20 154.95L1847.24 154.35L1847.27 153.74L1847.30 153.09L1847.33 152.47L1847.37 151.87L1847.40 151.34L1847.43 150.89L1847.46 150.52L1847.53 150.12L1847.62 150.43L1847.66 150.78L1847.69 151.22L1847.72 151.78L1847.75 152.39L1847.79 153.06L1847.82 153.76L1847.85 154.47L1847.88 155.16L1847.91 155.82L1847.95 156.43L1847.98 156.95L1848.00 157.26L1848.04 157.71L1848.17 157.83L1848.23 157.20L1848.26 156.74L1848.30 156.22L1848.33 155.64L1848.36 155.05L1848.39 154.43L1848.42 153.85L1848.45 153.29L1848.49 152.79L1848.52 152.38L1848.55 152.05L1848.61 151.73L1848.71 152.14L1848.74 152.49L1848.77 152.94L1848.80 153.50L1848.83 154.10L1848.86 154.74L1848.89 155.42L1848.92 156.12L1848.96 156.77L1848.99 157.39L1849.02 157.95L1849.05 158.44L1849.08 158.83L1849.14 159.29L1849.27 158.84L1849.30 158.47L1849.33 158.02L1849.36 157.50L1849.39 156.94L1849.42 156.36L1849.45 155.79L1849.48 155.23L1849.50 154.92L1849.54 154.25L1849.57 153.88L1849.64 153.42L1849.76 153.82L1849.79 154.20L1849.82 154.65L1849.85 155.20L1849.88 155.79L1849.91 156.41L1849.94 157.08L1849.97 157.72L1850.00 158.32L1850.03 158.94L1850.06 159.46L1850.09 159.92L1850.12 160.26L1850.18 160.65L1850.30 160.12L1850.33 159.75L1850.36 159.30L1850.39 158.80L1850.42 158.24L1850.45 157.69L1850.48 157.14L1850.52 156.61L1850.55 156.13L1850.58 155.72L1850.60 155.39L1850.66 154.99L1850.78 155.50L1850.81 155.87L1850.84 156.34L1850.87 156.88L1850.90 157.45L1850.93 158.07L1850.96 158.71L1850.99 159.32L1851.02 159.92L1851.05 160.48L1851.08 160.96L1851.11 161.37L1851.14 161.68L1851.20 162.01L1851.29 161.69L1851.35 161.03L1851.38 160.57L1851.40 160.09L1851.43 159.57L1851.46 159.03L1851.49 158.51L1851.52 158.02L1851.55 157.57L1851.58 157.19L1851.64 156.68L1851.78 157.17L1851.81 157.55L1851.84 158.02L1851.87 158.55L1851.90 159.12L1851.93 159.72L1851.96 160.33L1851.99 160.90L1852.02 161.47L1852.04 161.99L1852.07 162.44L1852.10 162.81L1852.16 163.27L1852.30 162.68L1852.33 162.30L1852.36 161.85L1852.39 161.38L1852.42 160.87L1852.45 160.38L1852.47 159.88L1852.50 159.47L1852.53 159.01L1852.56 158.67L1852.62 158.22L1852.76 158.80L1852.79 159.21L1852.82 159.67L1852.84 160.18L1852.87 160.75L1852.90 161.33L1852.93 161.90L1852.96 162.46L1852.99 163.01L1853.01 163.49L1853.04 163.90L1853.07 164.23L1853.13 164.63L1853.24 164.26L1853.27 163.95L1853.30 163.57L1853.32 163.14L1853.35 162.67L1853.38 162.19L1853.41 161.72L1853.43 161.25L1853.46 160.82L1853.49 160.44L1853.52 160.13L1853.57 159.75L1853.68 160.12L1853.71 160.44L1853.74 160.84L1853.77 161.31L1853.80 161.81L1853.82 162.36L1853.85 162.91L1853.88 163.47L1853.91 164.02L1853.93 164.51L1853.96 164.97L1853.99 165.34L1854.02 165.65L1854.07 165.99L1854.18 165.55L1854.21 165.23L1854.23 164.86L1854.26 164.44L1854.29 163.98L1854.32 163.52L1854.34 163.07L1854.37 162.63L1854.40 162.22L1854.43 161.88L1854.48 161.40L1854.62 161.75L1854.64 162.08L1854.67 162.48L1854.70 162.94L1854.72 163.44L1854.75 163.97L1854.78 164.51L1854.81 165.05L1854.83 165.56L1854.86 166.03L1854.89 166.45L1854.91 166.80L1854.97 167.25L1855.10 166.86L1855.13 166.55L1855.15 166.17L1855.18 165.76L1855.21 165.33L1855.23 164.88L1855.26 164.44L1855.29 164.04L1855.31 163.67L1855.34 163.35L1855.39 162.94L1855.53 163.39L1855.55 163.73L1855.58 164.13L1855.61 164.60L1855.63 165.08L1855.66 165.59L1855.68 166.12L1855.71 166.63L1855.74 167.12L1855.76 167.56L1855.79 167.94L1855.82 168.26L1855.87 168.66L1856.00 168.19L1856.03 167.88L1856.05 167.51L1856.08 167.12L1856.11 166.68L1856.13 166.26L1856.16 165.85L1856.18 165.47L1856.21 165.13L1856.26 164.63L1856.39 164.77L1856.44 165.38L1856.47 165.79L1856.49 166.24L1856.52 166.72L1856.55 167.23L1856.57 167.73L1856.60 168.20L1856.62 168.66L1856.65 169.08L1856.67 169.44L1856.73 169.94L1856.85 169.79L1856.91 169.21L1856.93 168.86L1856.96 168.47L1856.98 168.07L1857.01 167.67L1857.03 167.29L1857.06 166.92L1857.08 166.62L1857.13 166.17L1857.26 166.42L1857.31 167.05L1857.34 167.44L1857.36 167.88L1857.39 168.36L1857.41 168.84L1857.44 169.32L1857.46 169.77L1857.49 170.22L1857.52 170.60L1857.54 170.93L1857.59 171.38L1857.72 171.14L1857.77 170.58L1857.79 170.23L1857.82 169.85L1857.84 169.47L1857.87 169.09L1857.89 168.72L1857.92 168.39L1857.97 167.88L1858.09 167.84L1858.14 168.35L1858.16 168.70L1858.19 169.10L1858.21 169.52L1858.24 169.98L1858.26 170.45L1858.29 170.92L1858.31 171.34L1858.34 171.75L1858.36 172.11L1858.41 172.65L1858.54 172.70L1858.58 172.24L1858.61 171.93L1858.63 171.60L1858.66 171.23L1858.68 170.87L1858.71 170.50L1858.73 170.17L1858.76 169.86L1858.80 169.41L1858.93 169.47L1858.97 170.00L1859.00 170.34L1859.02 170.73L1859.05 171.16L1859.07 171.60L1859.10 172.04L1859.12 172.47L1859.14 172.90L1859.17 173.28L1859.19 173.61L1859.24 174.09L1859.36 174.06L1859.41 173.60L1859.43 173.29L1859.46 172.96L1859.48 172.62L1859.51 172.27L1859.53 171.93L1859.55 171.61L1859.60 171.10L1859.67 170.78L1859.74 171.09L1859.79 171.63L1859.82 171.98L1859.84 172.35L1859.86 172.77L1859.89 173.20L1859.91 173.63L1859.93 174.03L1859.96 174.43L1859.98 174.78L1860.01 175.09L1860.05 175.52L1860.20 175.20L1860.24 174.65L1860.27 174.34L1860.29 174.00L1860.31 173.67L1860.34 173.35L1860.38 172.80L1860.43 172.45L1860.57 172.94L1860.62 173.58L1860.64 173.96L1860.66 174.35L1860.69 174.77L1860.71 175.18L1860.73 175.57L1860.76 175.93L1860.78 176.27L1860.83 176.77L1860.97 176.76L1861.00 176.43L1861.04 176.00L1861.06 175.69L1861.08 175.37L1861.11 175.06L1861.15 174.50L1861.20 174.09L1861.34 174.29L1861.38 174.82L1861.40 175.16L1861.43 175.53L1861.45 175.92L1861.47 176.32L1861.49 176.71L1861.52 177.09L1861.54 177.42L1861.56 177.73L1861.61 178.19L1861.74 178.09L1861.79 177.63L1861.84 177.05L1861.88 176.45L1861.93 175.93L1861.97 175.56L1862.11 175.84L1862.15 176.39L1862.17 176.73L1862.20 177.09L1862.22 177.47L1862.24 177.84L1862.26 178.21L1862.29 178.57L1862.31 178.88L1862.35 179.40L1862.40 179.70L1862.53 179.20L1862.58 178.67L1862.62 178.11L1862.66 177.57L1862.71 177.16L1862.84 177.19L1862.89 177.65L1862.93 178.27L1862.95 178.62L1862.97 178.98L1863.00 179.34L1863.02 179.69L1863.04 180.02L1863.08 180.58L1863.13 180.95L1863.26 180.71L1863.30 180.25L1863.35 179.73L1863.39 179.20L1863.43 178.76L1863.50 178.40L1863.61 178.92L1863.65 179.46L1863.67 179.79L1863.69 180.13L1863.71 180.47L1863.74 180.82L1863.76 181.15L1863.78 181.46L1863.82 181.98L1863.87 182.31L1863.99 182.02L1864.04 181.57L1864.08 181.06L1864.12 180.56L1864.17 180.17L1864.29 180.05L1864.34 180.44L1864.38 180.97L1864.40 181.30L1864.42 181.62L1864.44 181.96L1864.46 182.28L1864.49 182.61L1864.53 183.15L1864.57 183.54L1864.70 183.49L1864.74 183.11L1864.78 182.65L1864.82 182.16L1864.87 181.74L1864.93 181.37L1865.03 181.73L1865.08 182.20L1865.12 182.78L1865.14 183.10L1865.16 183.43L1865.18 183.74L1865.22 184.32L1865.26 184.75L1865.33 185.06L1865.43 184.62L1865.47 184.20L1865.50 183.86L1865.53 183.51L1865.57 183.12L1865.63 182.81L1865.74 183.23L1865.78 183.70L1865.82 184.27L1865.86 184.89L1865.90 185.47L1865.94 185.94L1865.98 186.25L1866.11 186.09L1866.15 185.73L1866.19 185.29L1866.23 184.86L1866.27 184.51L1866.39 184.38L1866.43 184.70L1866.47 185.18L1866.50 185.58L1866.53 186.03L1866.57 186.60L1866.61 187.11L1866.65 187.48L1866.79 187.38L1866.83 187.02L1866.87 186.61L1866.91 186.21L1866.95 185.89L1867.09 185.98L1867.13 186.39L1867.17 186.91L1867.21 187.47L1867.25 188.02L1867.29 188.48L1867.33 188.82L1867.47 188.67L1867.51 188.32L1867.55 187.92L1867.59 187.55L1867.64 187.16L1867.78 187.63L1867.82 188.09L1867.86 188.62L1867.90 189.17L1867.94 189.65L1867.97 190.02L1868.11 190.09L1868.15 189.79L1868.19 189.42L1868.23 189.06L1868.27 188.74L1868.40 188.72L1868.44 189.06L1868.48 189.53L1868.52 190.04L1868.55 190.55L1868.59 191.02L1868.63 191.36L1868.77 191.37L1868.82 190.90L1868.86 190.54L1868.90 190.22L1868.95 189.91L1869.07 190.30L1869.11 190.70L1869.14 191.19L1869.18 191.70L1869.22 192.16L1869.26 192.54L1869.31 192.86L1869.43 192.50L1869.46 192.18L1869.50 191.85L1869.54 191.55L1869.67 191.42L1869.72 191.90L1869.76 192.34L1869.80 192.83L1869.84 193.30L1869.87 193.71L1869.93 194.09L1870.06 193.76L1870.10 193.46L1870.13 193.14L1870.19 192.75L1870.32 192.94L1870.35 193.30L1870.39 193.73L1870.43 194.20L1870.46 194.66L1870.50 195.03L1870.55 195.38L1870.68 195.02L1870.72 194.72L1870.75 194.42L1870.81 194.07L1870.93 194.32L1870.97 194.67L1871.00 195.01L1871.03 195.33L1871.06 195.78L1871.10 196.18L1871.13 196.48L1871.26 196.51L1871.31 196.13L1871.37 195.69L1871.42 195.38L1871.54 195.68L1871.58 196.04L1871.62 196.45L1871.65 196.90L1871.69 197.30L1871.72 197.64L1871.79 197.95L1871.88 197.63L1871.93 197.23L1871.99 196.85L1872.11 196.77L1872.16 197.20L1872.20 197.59L1872.23 198.01L1872.27 198.43L1872.30 198.78L1872.35 199.12L1872.48 198.87L1872.53 198.48L1872.58 198.13L1872.70 198.12L1872.75 198.55L1872.79 198.94L1872.82 199.35L1872.86 199.75L1872.89 200.07L1872.94 200.39L1873.06 200.11L1873.11 199.74L1873.16 199.41L1873.29 199.47L1873.34 199.91L1873.37 200.28L1873.40 200.68L1873.44 201.06L1873.47 201.37L1873.54 201.69L1873.64 201.35L1873.69 201.00L1873.76 200.63L1873.88 200.94L1873.91 201.25L1873.94 201.62L1873.98 202.00L1874.01 202.36L1874.06 202.77L1874.19 202.70L1874.24 202.37L1874.29 202.06L1874.43 202.15L1874.48 202.59L1874.51 202.95L1874.54 203.32L1874.58 203.66L1874.62 204.03L1874.76 203.93L1874.81 203.62L1874.87 203.26L1875.00 203.58L1875.04 203.92L1875.07 204.27L1875.10 204.62L1875.13 204.95L1875.18 205.30L1875.31 205.16L1875.36 204.86L1875.42 204.54L1875.55 204.93L1875.59 205.23L1875.62 205.57L1875.65 205.92L1875.68 206.22L1875.73 206.54L1875.86 206.38L1875.92 206.01L1876.05 205.90L1876.10 206.22L1876.13 206.53L1876.16 206.87L1876.19 207.20L1876.24 207.60L1876.37 207.75L1876.43 207.41L1876.49 207.10L1876.62 207.39L1876.66 207.81L1876.70 208.14L1876.73 208.46L1876.78 208.84L1876.90 208.94L1876.96 208.62L1877.04 208.30L1877.15 208.66L1877.19 209.08L1877.22 209.39L1877.26 209.70L1877.30 210.06L1877.43 210.12L1877.49 209.81L1877.61 209.57L1877.67 209.92L1877.72 210.34L1877.76 210.78L1877.81 211.16L1877.93 211.35L1878.00 211.02L1878.13 210.80L1878.19 211.16L1878.23 211.56L1878.28 211.99L1878.32 212.35L1878.46 212.44L1878.53 212.09L1878.65 212.08L1878.71 212.50L1878.76 212.91L1878.80 213.31L1878.86 213.65L1878.99 213.44L1879.08 213.12L1879.18 213.45L1879.23 213.82L1879.27 214.22L1879.32 214.56L1879.45 214.74L1879.52 214.43L1879.65 214.44L1879.71 214.85L1879.76 215.24L1879.80 215.59L1879.87 215.92L1880.00 215.60L1880.13 215.51L1880.19 215.88L1880.23 216.25L1880.27 216.61L1880.33 216.93L1880.46 216.79L1880.59 216.54L1880.66 216.90L1880.70 217.24L1880.74 217.59L1880.80 217.94L1880.93 217.90L1881.03 217.60L1881.14 218.00L1881.18 218.33L1881.22 218.67L1881.28 219.00L1881.40 218.93L1881.53 218.68L1881.61 219.08L1881.65 219.41L1881.69 219.73L1881.75 220.03L1881.87 219.96L1882.00 219.74L1882.07 220.05L1882.11 220.36L1882.15 220.67L1882.20 221.00L1882.33 221.01L1882.45 220.77L1882.53 221.11L1882.58 221.50L1882.64 221.88L1882.76 222.07L1882.88 221.78L1882.99 222.15L1883.04 222.53L1883.09 222.88L1883.23 223.02L1883.36 222.81L1883.44 223.16L1883.49 223.54L1883.55 223.87L1883.68 223.99L1883.81 223.82L1883.89 224.17L1883.94 224.53L1883.99 224.85L1884.12 224.95L1884.25 224.81L1884.33 225.17L1884.38 225.51L1884.45 225.87L1884.58 225.86L1884.70 225.82L1884.77 226.14L1884.82 226.48L1884.88 226.81L1885.01 226.80L1885.14 226.79L1885.20 227.12L1885.25 227.43L1885.32 227.74L1885.44 227.73L1885.57 227.75L1885.63 228.07L1885.68 228.37L1885.76 228.69L1885.88 228.62L1886.01 228.75L1886.07 229.08L1886.13 229.43L1886.25 229.61L1886.38 229.53L1886.46 229.87L1886.52 230.22L1886.62 230.52L1886.74 230.41L1886.87 230.72L1886.93 231.06L1887.01 231.38L1887.13 231.33L1887.26 231.57L1887.32 231.89L1887.40 232.20L1887.53 232.22L1887.66 232.41L1887.73 232.78L1887.81 233.10L1887.94 233.08L1888.08 233.36L1888.15 233.71L1888.28 233.99L1888.40 233.99L1888.50 234.34L1888.57 234.67L1888.69 234.83L1888.82 234.92L1888.90 235.26L1888.98 235.59L1889.11 235.66L1889.24 235.86L1889.31 236.17L1889.41 236.48L1889.54 236.50L1889.65 236.81L1889.73 237.14L1889.85 237.32L1889.98 237.44L1890.07 237.78L1890.17 238.09L1890.29 238.15L1890.41 238.47L1890.50 238.79L1890.62 238.94L1890.75 239.13L1890.83 239.46L1890.95 239.72L1891.08 239.83L1891.17 240.13L1891.27 240.43L1891.39 240.55L1891.52 240.85L1891.62 241.16L1891.75 241.33L1891.88 241.60L1891.97 241.91L1892.10 242.09L1892.23 242.35L1892.34 242.67L1892.46 242.86L1892.59 243.12L1892.70 243.42L1892.82 243.62L1892.95 243.88L1893.06 244.20L1893.19 244.39L1893.31 244.67L1893.44 244.98L1893.56 245.18L1893.68 245.47L1893.81 245.75L1893.93 245.96L1894.05 246.26L1894.17 246.51L1894.30 246.74L1894.42 247.03L1894.54 247.27L1894.67 247.54L1894.79 247.81L1894.92 248.07L1895.50 249.30L1896.00 250.36L1896.50 251.41L1897.00 252.47L1897.50 253.53L1898.00 254.58L1898.50 255.64L1899.00 256.70L1899.50 257.76L1900.00 258.83L1900.50 259.90L1901.00 260.97L1901.50 262.04L1902.00 263.11L1902.50 264.18L1903.00 265.25L1903.50 266.32L1904.00 267.39L1904.50 268.45L1905.00 269.52L1905.50 270.58L1906.00 271.63L1906.50 272.68L1907.00 273.72L1907.50 274.76L1908.00 275.79L1908.50 276.82L1909.00 277.84L1909.50 278.86L1910.00 279.87L1910.50 280.88L1911.00 281.89L1911.50 282.89L1912.00 283.89L1912.50 284.88L1913.00 285.88L1913.50 286.86L1914.00 287.85L1914.50 288.83L1915.00 289.81L1915.50 290.79L1916.00 291.77L1916.50 292.74L1917.00 293.71L1917.50 294.68L1918.00 295.65L1918.50 296.62L1919.00 297.60L1919.50 298.57L1920.00 299.54L1920.50 300.51L1921.00 301.47L1921.50 302.43L1922.00 303.39L1922.50 304.34L1923.00 305.28L1923.50 306.21L1924.00 307.14L1924.50 308.06L1925.00 308.97L1925.50 309.86L1926.00 310.75L1926.50 311.62L1927.00 312.49L1927.50 313.35L1928.00 314.21L1928.50 315.06L1929.00 315.90L1929.50 316.73L1930.00 317.56L1930.50 318.39L1931.00 319.20L1931.50 320.01L1932.00 320.81L1932.50 321.60L1933.00 322.39L1933.50 323.17L1934.00 323.94L1934.50 324.70L1935.00 325.45L1935.50 326.20L1936.00 326.94L1936.50 327.68L1937.00 328.42L1937.50 329.16L1938.00 329.89L1938.50 330.61L1939.00 331.33L1939.50 332.04L1940.00 332.75L1940.50 333.44L1941.00 334.12L1941.50 334.79L1942.00 335.45L1942.50 336.09L1943.00 336.72L1943.50 337.34L1944.00 337.93L1944.50 338.52L1945.00 339.09L1945.50 339.67L1946.00 340.24L1946.50 340.81L1947.00 341.37L1947.50 341.93L1948.00 342.48L1948.50 343.01L1949.00 343.54L1949.50 344.05L1950.00 344.54L1950.50 345.02L1951.00 345.47L1951.50 345.91L1952.00 346.32L1952.50 346.71L1953.00 347.07L1953.50 347.40L1954.00 347.71L1954.50 348.02L1955.00 348.32L1955.50 348.61L1956.00 348.89L1956.50 349.17L1957.00 349.43L1957.50 349.69L1958.00 349.93L1958.50 350.16L1959.00 350.39L1959.50 350.60L1960.00 350.80L1960.50 350.99L1961.00 351.16L1961.50 351.32L1962.00 351.47L1962.50 351.60L1963.00 351.73L1963.50 351.85L1964.00 351.97L1964.50 352.09L1965.00 352.21L1965.50 352.33L1966.00 352.44L1966.50 352.55L1967.00 352.65L1967.50 352.75L1968.00 352.84L1968.50 352.92L1969.00 353.00L1969.50 353.07L1970.00 353.13L1970.50 353.19L1971.00 353.23L1971.50 353.26L1972.00 353.29L1972.50 353.30" fill="none" stroke="#0083c9" stroke-width="4.3" stroke-linejoin="round" stroke-linecap="round"/><path d="M1532.50 45.70L1533.00 45.70L1533.50 45.70L1534.00 45.71L1534.50 45.71L1535.00 45.71L1535.50 45.71L1536.00 45.72L1536.50 45.72L1537.00 45.72L1537.50 45.72L1538.00 45.73L1538.50 45.73L1539.00 45.73L1539.50 45.74L1540.00 45.74L1540.50 45.74L1541.00 45.75L1541.50 45.75L1542.00 45.76L1542.50 45.76L1543.00 45.76L1543.50 45.77L1544.00 45.77L1544.50 45.78L1545.00 45.78L1545.50 45.79L1546.00 45.79L1546.50 45.80L1547.00 45.80L1547.50 45.81L1548.00 45.82L1548.50 45.82L1549.00 45.83L1549.50 45.83L1550.00 45.84L1550.50 45.85L1551.00 45.85L1551.50 45.86L1552.00 45.87L1552.50 45.88L1553.00 45.88L1553.50 45.89L1554.00 45.90L1554.50 45.91L1555.00 45.92L1555.50 45.93L1556.00 45.94L1556.50 45.95L1557.00 45.95L1557.50 45.96L1558.00 45.97L1558.50 45.98L1559.00 46.00L1559.50 46.01L1560.00 46.02L1560.50 46.03L1561.00 46.04L1561.50 46.05L1562.00 46.06L1562.50 46.08L1563.00 46.09L1563.50 46.10L1564.00 46.12L1564.50 46.13L1565.00 46.14L1565.50 46.16L1566.00 46.17L1566.50 46.19L1567.00 46.20L1567.50 46.22L1568.00 46.23L1568.50 46.25L1569.00 46.27L1569.50 46.28L1570.00 46.30L1570.50 46.32L1571.00 46.35L1571.50 46.38L1572.00 46.42L1572.50 46.46L1573.00 46.51L1573.50 46.56L1574.00 46.61L1574.50 46.67L1575.00 46.74L1575.50 46.81L1576.00 46.88L1576.50 46.95L1576.72 46.99L1577.00 47.03L1577.50 47.11L1578.00 47.19L1578.50 47.28L1579.00 47.37L1579.50 47.46L1580.00 47.55L1580.50 47.64L1581.00 47.73L1581.50 47.83L1582.00 47.92L1582.50 48.02L1583.00 48.12L1583.50 48.21L1584.00 48.31L1584.50 48.40L1585.00 48.50L1585.50 48.60L1586.00 48.69L1586.50 48.79L1587.00 48.90L1587.50 49.00L1588.00 49.10L1588.50 49.21L1589.00 49.32L1589.50 49.44L1590.00 49.55L1590.50 49.67L1591.00 49.78L1591.50 49.91L1592.00 50.03L1592.50 50.15L1593.00 50.28L1593.50 50.41L1594.00 50.55L1594.50 50.68L1595.00 50.82L1595.50 50.96L1596.00 51.10L1596.50 51.25L1597.00 51.40L1597.29 51.48L1597.50 51.55L1598.00 51.70L1598.50 51.86L1599.00 52.01L1599.50 52.18L1600.00 52.34L1600.50 52.51L1601.00 52.68L1601.50 52.85L1602.00 53.03L1602.50 53.21L1603.00 53.39L1603.50 53.57L1604.00 53.77L1604.50 53.96L1605.00 54.16L1605.50 54.37L1606.00 54.59L1606.50 54.81L1607.00 55.03L1607.50 55.26L1608.00 55.49L1608.50 55.73L1609.00 55.98L1609.50 56.23L1610.00 56.48L1610.50 56.74L1610.84 56.92L1611.00 57.01L1611.50 57.28L1612.00 57.55L1612.50 57.83L1613.00 58.12L1613.50 58.40L1614.00 58.70L1614.50 59.00L1615.00 59.30L1615.50 59.60L1616.00 59.91L1616.50 60.23L1617.00 60.55L1617.50 60.87L1618.00 61.20L1618.50 61.53L1619.00 61.88L1619.50 62.23L1620.00 62.58L1620.50 62.95L1620.96 63.29L1621.50 63.70L1622.00 64.09L1622.50 64.48L1623.00 64.88L1623.50 65.29L1624.00 65.70L1624.50 66.12L1625.00 66.55L1625.50 66.98L1626.00 67.42L1626.50 67.86L1627.00 68.31L1627.50 68.76L1628.00 69.23L1628.50 69.69L1629.00 70.16L1629.50 70.64L1630.00 71.12L1630.50 71.61L1631.00 72.10L1631.50 72.60L1632.00 73.10L1632.50 73.61L1633.00 74.12L1633.50 74.65L1634.00 75.19L1634.50 75.74L1635.00 76.30L1635.50 76.86L1635.77 77.18L1636.00 77.44L1636.50 78.02L1637.00 78.61L1637.50 79.21L1638.00 79.81L1638.50 80.42L1639.00 81.04L1639.50 81.65L1640.00 82.28L1640.50 82.90L1641.00 83.53L1641.50 84.16L1642.00 84.80L1642.50 85.43L1643.00 86.07L1643.50 86.70L1644.00 87.34L1644.50 87.97L1645.00 88.60L1645.50 89.23L1646.00 89.85L1646.50 90.48L1647.00 91.10L1647.50 91.72L1648.00 92.34L1648.50 92.96L1649.00 93.58L1649.50 94.21L1650.00 94.83L1650.50 95.45L1651.00 96.08L1651.50 96.70L1652.00 97.32L1652.50 97.94L1653.00 98.56L1653.50 99.18L1654.00 99.79L1654.50 100.40L1655.00 101.01L1655.50 101.61L1656.00 102.22L1656.50 102.81L1657.00 103.40L1657.50 103.99L1658.00 104.57L1658.50 105.14L1658.75 105.43L1659.00 105.71L1659.50 106.27L1660.00 106.82L1660.50 107.37L1661.00 107.90L1661.50 108.42L1662.00 108.93L1662.50 109.43L1663.00 109.92L1663.50 110.39L1664.00 110.85L1664.50 111.30L1665.00 111.73L1665.21 111.91L1665.50 112.15L1666.00 112.55L1666.50 112.94L1667.00 113.31L1667.50 113.66L1668.00 114.00L1668.50 114.32L1669.00 114.62L1669.50 114.91L1670.00 115.17L1670.50 115.41L1670.78 115.53L1671.00 115.63L1671.50 115.84L1672.00 116.02L1672.50 116.19L1673.00 116.33L1673.29 116.41L1673.50 116.46L1674.00 116.55L1674.50 116.63L1675.00 116.68L1675.50 116.70L1675.66 116.70L1676.00 116.69L1676.50 116.66L1677.00 116.60L1677.50 116.51L1677.90 116.42L1678.50 116.26L1679.00 116.09L1679.50 115.89L1680.00 115.66L1680.50 115.41L1681.00 115.14L1681.50 114.84L1682.00 114.51L1682.50 114.16L1683.00 113.78L1683.50 113.38L1683.95 113.00L1684.50 112.52L1685.00 112.06L1685.50 111.57L1685.79 111.29L1686.00 111.08L1686.50 110.56L1687.00 110.03L1687.50 109.49L1688.00 108.93L1688.50 108.37L1689.00 107.79L1689.22 107.54L1689.50 107.22L1690.00 106.64L1690.50 106.05L1690.83 105.67L1691.00 105.47L1691.50 104.90L1692.00 104.33L1692.38 103.90L1692.50 103.77L1693.00 103.22L1693.50 102.69L1693.87 102.31L1694.00 102.18L1694.50 101.69L1695.00 101.23L1695.31 100.95L1695.50 100.79L1696.00 100.39L1696.50 100.02L1696.70 99.89L1697.00 99.70L1697.50 99.42L1698.00 99.18L1698.50 99.00L1699.00 98.86L1699.34 98.81L1699.50 98.79L1700.00 98.79L1700.50 98.87L1701.00 99.03L1701.50 99.29L1701.82 99.49L1702.00 99.63L1702.50 100.06L1703.00 100.60L1703.50 101.24L1704.00 101.98L1704.15 102.23L1704.50 102.82L1705.00 103.76L1705.27 104.31L1705.50 104.79L1706.00 105.92L1706.36 106.79L1706.50 107.13L1707.00 108.43L1707.42 109.59L1708.00 111.25L1708.46 112.63L1709.00 114.32L1709.46 115.81L1710.00 117.58L1710.44 119.06L1711.00 120.93L1711.40 122.29L1711.50 122.61L1712.00 124.29L1712.34 125.42L1712.50 125.94L1713.00 127.55L1713.26 128.36L1713.50 129.12L1714.00 130.63L1714.15 131.07L1714.50 132.06L1715.00 133.41L1715.50 134.66L1715.88 135.54L1716.50 136.82L1716.72 137.23L1717.00 137.71L1717.50 138.46L1718.00 139.07L1718.35 139.41L1718.50 139.54L1719.00 139.84L1719.14 139.90L1719.50 140.00L1719.92 140.01L1720.50 139.85L1720.68 139.76L1721.00 139.55L1721.42 139.19L1722.00 138.55L1722.15 138.35L1722.50 137.88L1722.87 137.32L1723.00 137.12L1723.50 136.30L1724.00 135.43L1724.28 134.95L1724.50 134.55L1724.96 133.74L1725.50 132.81L1725.63 132.60L1726.00 132.02L1726.29 131.61L1726.50 131.32L1726.94 130.80L1727.50 130.28L1728.00 130.00L1728.21 129.93L1728.50 129.90L1728.83 129.94L1729.00 130.00L1729.44 130.28L1730.00 130.93L1730.50 131.78L1730.63 132.04L1731.00 132.87L1731.21 133.41L1731.50 134.20L1731.79 135.07L1732.00 135.75L1732.36 136.98L1732.50 137.50L1732.92 139.09L1733.00 139.42L1733.47 141.34L1734.00 143.63L1734.50 145.85L1735.00 148.09L1735.08 148.44L1735.50 150.29L1735.60 150.75L1736.00 152.43L1736.12 152.92L1736.50 154.44L1736.63 154.94L1737.00 156.29L1737.13 156.75L1737.50 157.94L1737.63 158.34L1738.00 159.36L1738.12 159.66L1738.50 160.51L1739.00 161.38L1739.50 161.96L1740.00 162.25L1740.49 162.26L1740.95 162.04L1741.40 161.62L1741.85 161.04L1742.00 160.82L1742.29 160.36L1742.50 160.01L1742.73 159.62L1743.00 159.15L1743.16 158.87L1743.50 158.31L1744.00 157.57L1744.44 157.06L1744.85 156.75L1745.00 156.68L1745.26 156.63L1745.50 156.66L1745.67 156.73L1746.00 157.00L1746.47 157.70L1746.87 158.60L1747.00 158.97L1747.26 159.75L1747.50 160.59L1747.64 161.13L1748.00 162.58L1748.41 164.42L1748.50 164.87L1748.78 166.27L1749.00 167.37L1749.16 168.18L1749.50 169.99L1749.89 172.07L1750.00 172.63L1750.26 173.96L1750.50 175.19L1750.62 175.75L1750.97 177.43L1751.33 178.95L1751.50 179.65L1751.67 180.30L1752.00 181.38L1752.37 182.40L1752.50 182.71L1752.71 183.14L1753.00 183.60L1753.38 183.98L1753.71 184.10L1754.00 184.05L1754.37 183.81L1754.50 183.68L1754.70 183.45L1755.00 183.00L1755.34 182.41L1755.50 182.11L1755.66 181.82L1755.97 181.23L1756.28 180.70L1756.50 180.37L1756.90 179.90L1757.21 179.70L1757.50 179.67L1757.81 179.81L1758.00 180.00L1758.40 180.71L1758.70 181.49L1758.99 182.45L1759.28 183.56L1759.50 184.49L1759.57 184.79L1759.85 186.10L1760.00 186.79L1760.14 187.45L1760.42 188.81L1760.50 189.20L1760.70 190.13L1760.98 191.39L1761.25 192.57L1761.50 193.56L1761.80 194.66L1762.00 195.34L1762.34 196.32L1762.50 196.73L1762.87 197.48L1763.00 197.69L1763.13 197.88L1763.39 198.15L1763.65 198.33L1763.91 198.41L1764.17 198.42L1764.42 198.37L1764.68 198.29L1764.93 198.20L1765.18 198.12L1765.43 198.07L1765.67 198.07L1765.92 198.14L1766.16 198.30L1766.41 198.55L1766.65 198.90L1766.89 199.36L1767.13 199.93L1767.36 200.61L1767.50 201.04L1767.60 201.38L1767.83 202.24L1768.00 202.90L1768.30 204.15L1768.50 205.06L1768.76 206.24L1768.98 207.29L1769.21 208.33L1769.43 209.32L1769.66 210.27L1769.88 211.15L1770.00 211.58L1770.10 211.94L1770.32 212.65L1770.50 213.14L1770.76 213.75L1770.98 214.15L1771.19 214.45L1771.41 214.65L1771.62 214.78L1771.83 214.83L1772.00 214.83L1772.25 214.78L1772.46 214.71L1772.67 214.64L1772.88 214.58L1773.00 214.56L1773.29 214.57L1773.49 214.65L1773.69 214.80L1773.89 215.04L1774.09 215.36L1774.29 215.77L1774.49 216.27L1774.69 216.86L1774.88 217.54L1775.00 217.97L1775.08 218.28L1775.27 219.09L1775.47 219.95L1775.66 220.84L1775.85 221.75L1776.00 222.45L1776.23 223.55L1776.42 224.41L1776.50 224.76L1776.61 225.23L1776.80 225.99L1776.98 226.68L1777.17 227.30L1777.36 227.83L1777.50 228.19L1777.72 228.64L1777.90 228.92L1778.09 229.12L1778.27 229.26L1778.45 229.34L1778.62 229.38L1778.80 229.38L1778.98 229.37L1779.16 229.36L1779.33 229.37L1779.50 229.39L1779.68 229.47L1779.86 229.59L1780.00 229.74L1780.20 230.04L1780.37 230.37L1780.50 230.66L1780.71 231.26L1780.88 231.82L1781.00 232.24L1781.22 233.12L1781.39 233.85L1781.50 234.38L1781.72 235.42L1781.88 236.22L1782.00 236.79L1782.21 237.82L1782.38 238.57L1782.50 239.13L1782.70 239.95L1782.86 240.55L1783.00 241.03L1783.18 241.55L1783.34 241.95L1783.50 242.26L1783.66 242.51L1783.81 242.70L1783.97 242.83L1784.13 242.91L1784.28 242.95L1784.44 242.98L1784.59 242.99L1784.74 243.00L1784.90 243.03L1785.05 243.08L1785.20 243.17L1785.35 243.31L1785.50 243.50L1785.65 243.77L1785.81 244.09L1785.95 244.48L1786.10 244.94L1786.25 245.46L1786.40 246.03L1786.50 246.46L1786.69 247.33L1786.84 248.03L1786.98 248.75L1787.13 249.47L1787.27 250.19L1787.42 250.89L1787.50 251.29L1787.70 252.21L1787.85 252.80L1787.99 253.34L1788.13 253.82L1788.27 254.23L1788.41 254.58L1788.55 254.87L1788.69 255.10L1788.83 255.28L1788.97 255.41L1789.10 255.50L1789.24 255.56L1789.38 255.60L1789.50 255.63L1789.65 255.68L1789.79 255.73L1789.92 255.81L1790.06 255.92L1790.19 256.08L1790.33 256.29L1790.46 256.55L1790.59 256.87L1790.72 257.24L1790.86 257.67L1790.99 258.16L1791.12 258.69L1791.25 259.26L1791.38 259.87L1791.50 260.45L1791.64 261.14L1791.77 261.79L1791.90 262.43L1792.00 262.93L1792.15 263.64L1792.28 264.20L1792.41 264.71L1792.50 265.06L1792.66 265.59L1792.79 265.94L1792.91 266.24L1793.04 266.48L1793.16 266.67L1793.29 266.81L1793.41 266.91L1793.53 266.98L1793.66 267.03L1793.78 267.06L1793.90 267.08L1794.02 267.11L1794.14 267.16L1794.27 267.23L1794.39 267.33L1794.51 267.47L1794.63 267.65L1794.87 268.16L1794.99 268.50L1795.11 268.88L1795.22 269.30L1795.34 269.78L1795.46 270.28L1795.58 270.81L1795.69 271.36L1795.81 271.93L1795.93 272.49L1796.00 272.83L1796.16 273.58L1796.28 274.09L1796.39 274.56L1796.50 274.98L1796.62 275.40L1796.73 275.74L1796.96 276.28L1797.19 276.63L1797.41 276.81L1797.63 276.89L1797.86 276.93L1798.00 276.97L1798.19 277.07L1798.41 277.29L1798.63 277.69L1798.84 278.26L1798.95 278.61L1799.06 279.00L1799.17 279.43L1799.27 279.89L1799.38 280.37L1799.49 280.87L1799.59 281.37L1799.70 281.87L1799.80 282.36L1799.91 282.84L1800.00 283.22L1800.12 283.70L1800.22 284.08L1800.33 284.42L1800.50 284.88L1800.64 285.17L1800.85 285.45L1801.00 285.57L1801.15 285.63L1801.36 285.66L1801.50 285.68L1801.66 285.73L1801.86 285.87L1802.00 286.05L1802.16 286.35L1802.36 286.87L1802.46 287.19L1802.56 287.54L1802.66 287.93L1802.76 288.34L1802.85 288.76L1802.95 289.21L1803.05 289.65L1803.15 290.09L1803.24 290.52L1803.34 290.94L1803.44 291.32L1803.53 291.68L1803.63 292.01L1803.82 292.54L1804.00 292.89L1804.20 293.12L1804.39 293.21L1804.58 293.23L1804.77 293.22L1804.95 293.26L1805.14 293.38L1805.32 293.62L1805.50 294.00L1805.69 294.55L1805.78 294.87L1805.87 295.21L1805.96 295.58L1806.05 295.96L1806.14 296.35L1806.23 296.74L1806.32 297.13L1806.41 297.51L1806.50 297.87L1806.59 298.21L1806.68 298.51L1806.86 299.03L1807.00 299.35L1807.12 299.54L1807.30 299.70L1807.47 299.76L1807.65 299.76L1807.82 299.75L1807.99 299.77L1808.16 299.89L1808.34 300.12L1808.50 300.46L1808.68 300.97L1808.85 301.58L1808.93 301.91L1809.01 302.26L1809.10 302.61L1809.18 302.96L1809.27 303.31L1809.35 303.64L1809.43 303.97L1809.60 304.53L1809.76 304.98L1809.93 305.29L1810.09 305.47L1810.26 305.55L1810.42 305.55L1810.58 305.53L1810.74 305.52L1810.90 305.58L1811.06 305.74L1811.22 306.02L1811.38 306.41L1811.50 306.79L1811.62 307.21L1811.69 307.51L1811.77 307.82L1811.85 308.14L1811.93 308.46L1812.01 308.76L1812.16 309.34L1812.32 309.84L1812.47 310.22L1812.63 310.48L1812.78 310.62L1812.93 310.67L1813.09 310.66L1813.24 310.62L1813.39 310.61L1813.54 310.67L1813.69 310.81L1813.84 311.07L1813.99 311.44L1814.13 311.90L1814.28 312.43L1814.43 313.00L1814.58 313.56L1814.72 314.07L1814.87 314.50L1815.00 314.80L1815.16 315.03L1815.30 315.14L1815.44 315.17L1815.59 315.14L1815.73 315.10L1815.87 315.09L1816.00 315.13L1816.15 315.28L1816.30 315.52L1816.43 315.86L1816.57 316.28L1816.71 316.77L1816.85 317.29L1816.99 317.79L1817.13 318.24L1817.27 318.61L1817.40 318.89L1817.54 319.07L1817.67 319.15L1817.81 319.16L1817.94 319.13L1818.08 319.09L1818.21 319.08L1818.35 319.13L1818.48 319.27L1818.61 319.49L1818.74 319.81L1818.88 320.21L1819.00 320.63L1819.14 321.12L1819.27 321.57L1819.40 321.98L1819.53 322.31L1819.66 322.55L1819.79 322.69L1819.91 322.76L1820.04 322.76L1820.17 322.72L1820.30 322.69L1820.42 322.68L1820.55 322.73L1820.67 322.86L1820.80 323.08L1820.93 323.38L1821.05 323.75L1821.17 324.16L1821.30 324.58L1821.42 324.99L1821.55 325.35L1821.67 325.64L1821.79 325.85L1821.91 325.97L1822.04 326.02L1822.16 326.01L1822.28 325.97L1822.40 325.94L1822.52 325.94L1822.70 326.05L1822.88 326.33L1823.00 326.62L1823.12 326.95L1823.23 327.33L1823.35 327.72L1823.47 328.09L1823.59 328.41L1823.76 328.76L1823.94 328.94L1824.11 328.98L1824.28 328.93L1824.45 328.90L1824.63 328.96L1824.80 329.18L1824.97 329.55L1825.08 329.87L1825.19 330.22L1825.30 330.58L1825.42 330.91L1825.58 331.32L1825.75 331.59L1825.92 331.70L1826.08 331.70L1826.25 331.66L1826.41 331.67L1826.57 331.79L1826.74 332.06L1826.90 332.47L1827.00 332.77L1827.11 333.12L1827.22 333.45L1827.38 333.86L1827.54 334.15L1827.70 334.29L1827.86 334.32L1828.00 334.30L1828.17 334.29L1828.33 334.38L1828.48 334.60L1828.64 334.95L1828.79 335.39L1828.89 335.70L1829.00 336.00L1829.15 336.37L1829.30 336.62L1829.46 336.74L1829.61 336.76L1829.76 336.74L1829.91 336.74L1830.06 336.84L1830.21 337.05L1830.36 337.38L1830.50 337.77L1830.65 338.19L1830.80 338.55L1830.94 338.81L1831.09 338.95L1831.24 338.98L1831.38 338.96L1831.53 338.95L1831.67 339.00L1831.81 339.16L1831.96 339.43L1832.10 339.77L1832.24 340.15L1832.38 340.48L1832.52 340.74L1832.66 340.88L1832.80 340.92L1832.94 340.90L1833.08 340.87L1833.22 340.90L1833.36 341.01L1833.49 341.21L1833.63 341.50L1833.77 341.83L1833.90 342.14L1834.04 342.37L1834.17 342.52L1834.31 342.56L1834.44 342.54L1834.58 342.50L1834.71 342.49L1834.84 342.55L1834.98 342.71L1835.11 342.94L1835.24 343.22L1835.37 343.49L1835.50 343.71L1835.63 343.85L1835.76 343.91L1835.89 343.90L1836.02 343.86L1836.15 343.84L1836.28 343.88L1836.41 343.99L1836.53 344.19L1836.66 344.43L1836.79 344.68L1836.91 344.90L1837.04 345.05L1837.16 345.12L1837.29 345.12L1837.41 345.09L1837.54 345.07L1837.66 345.09L1837.79 345.18L1837.91 345.33L1838.03 345.55L1838.15 345.77L1838.28 345.98L1838.40 346.13L1838.52 346.21L1838.64 346.22L1838.80 346.19L1838.92 346.18L1839.08 346.22L1839.24 346.38L1839.40 346.62L1839.56 346.89L1839.71 347.09L1839.87 347.20L1840.00 347.21L1840.14 347.18L1840.30 347.18L1840.45 347.25L1840.61 347.41L1840.76 347.64L1840.91 347.86L1841.06 348.02L1841.21 348.08L1841.37 348.07L1841.50 348.05L1841.63 348.07L1841.78 348.16L1841.92 348.32L1842.07 348.52L1842.22 348.70L1842.37 348.81L1842.50 348.84L1842.62 348.83L1842.77 348.82L1842.91 348.85L1843.06 348.95L1843.20 349.10L1843.35 349.27L1843.49 349.40L1843.63 349.47L1843.78 349.48L1843.92 349.47L1844.06 349.48L1844.20 349.54L1844.34 349.65L1844.48 349.79L1844.62 349.91L1844.76 349.99L1844.89 350.02L1845.03 350.01L1845.17 350.01L1845.31 350.04L1845.44 350.12L1845.58 350.23L1845.71 350.34L1845.85 350.43L1845.98 350.47L1846.12 350.49L1846.25 350.49L1846.38 350.51L1846.52 350.56L1846.65 350.65L1846.78 350.75L1846.91 350.83L1847.04 350.89L1847.17 350.92L1847.30 350.93L1847.43 350.95L1847.56 350.99L1847.69 351.06L1847.82 351.13L1847.95 351.21L1848.07 351.27L1848.20 351.31L1848.33 351.34L1848.45 351.36L1848.58 351.40L1848.71 351.44L1848.83 351.50L1848.96 351.56L1849.08 351.61L1849.20 351.65L1849.33 351.69L1849.45 351.72L1849.57 351.76L1849.70 351.80L1849.82 351.85L1849.94 351.89L1850.50 352.06L1851.00 352.21L1851.50 352.35L1852.00 352.48L1852.50 352.59L1853.00 352.70L1853.50 352.80L1854.00 352.88L1854.50 352.95L1855.00 353.00L1855.50 353.05L1856.00 353.09L1856.50 353.14L1857.00 353.18L1857.50 353.22L1858.00 353.27L1858.50 353.31L1859.00 353.34L1859.50 353.38L1860.00 353.42L1860.50 353.45L1861.00 353.49L1861.50 353.52L1862.00 353.55L1862.50 353.58L1863.00 353.61L1863.50 353.63L1864.00 353.66L1864.50 353.68L1865.00 353.70L1865.50 353.72L1866.00 353.73L1866.50 353.75L1867.00 353.76L1867.50 353.77L1868.00 353.78L1868.50 353.79L1869.00 353.80L1869.50 353.80L1870.00 353.80L1870.50 353.80L1871.00 353.80L1871.50 353.80L1872.00 353.80L1872.50 353.80L1873.00 353.80L1873.50 353.80L1874.00 353.80L1874.50 353.80L1875.00 353.80L1875.50 353.80L1876.00 353.80L1876.50 353.80L1877.00 353.80L1877.50 353.80L1878.00 353.80L1878.50 353.80L1879.00 353.80L1879.50 353.80L1880.00 353.80L1880.50 353.80L1881.00 353.80L1881.50 353.80L1882.00 353.80L1882.50 353.80L1883.00 353.80L1883.50 353.80L1884.00 353.80L1884.50 353.80L1885.00 353.80L1885.50 353.80L1886.00 353.80L1886.50 353.80L1887.00 353.80L1887.50 353.80L1888.00 353.80L1888.50 353.80L1889.00 353.80L1889.50 353.80L1890.00 353.80L1890.50 353.80L1891.00 353.80L1891.50 353.80L1892.00 353.80L1892.50 353.80L1893.00 353.80L1893.50 353.80L1894.00 353.80L1894.50 353.80L1895.00 353.80L1895.50 353.80L1896.00 353.80L1896.50 353.80L1897.00 353.80L1897.50 353.80L1898.00 353.80L1898.50 353.80L1899.00 353.80L1899.50 353.80L1900.00 353.80L1900.50 353.80L1901.00 353.80L1901.50 353.80L1902.00 353.80L1902.50 353.80L1903.00 353.80L1903.50 353.80L1904.00 353.80L1904.50 353.80L1905.00 353.80L1905.50 353.80L1906.00 353.80L1906.50 353.80L1907.00 353.80L1907.50 353.80L1908.00 353.80L1908.50 353.80L1909.00 353.80L1909.50 353.80L1910.00 353.80L1910.50 353.80L1911.00 353.80L1911.50 353.80L1912.00 353.80L1912.50 353.80L1913.00 353.80L1913.50 353.80L1914.00 353.80L1914.50 353.80L1915.00 353.80L1915.50 353.80L1916.00 353.80L1916.50 353.80L1917.00 353.80L1917.50 353.80L1918.00 353.80L1918.50 353.80L1919.00 353.80L1919.50 353.80L1920.00 353.80L1920.50 353.80L1921.00 353.80L1921.50 353.80L1922.00 353.80L1922.50 353.80L1923.00 353.80L1923.50 353.80L1924.00 353.80L1924.50 353.80L1925.00 353.80L1925.50 353.80L1926.00 353.80L1926.50 353.80L1927.00 353.80L1927.50 353.80L1928.00 353.80L1928.50 353.80L1929.00 353.80L1929.50 353.80L1930.00 353.80L1930.50 353.80L1931.00 353.80L1931.50 353.80L1932.00 353.80L1932.50 353.80L1933.00 353.80L1933.50 353.80L1934.00 353.80L1934.50 353.80L1935.00 353.80L1935.50 353.80L1936.00 353.80L1936.50 353.80L1937.00 353.80L1937.50 353.80L1938.00 353.80L1938.50 353.80L1939.00 353.80L1939.50 353.80L1940.00 353.80L1940.50 353.80L1941.00 353.80L1941.50 353.80L1942.00 353.80L1942.50 353.80L1943.00 353.80L1943.50 353.80L1944.00 353.80L1944.50 353.80L1945.00 353.80L1945.50 353.80L1946.00 353.80L1946.50 353.80L1947.00 353.80L1947.50 353.80L1948.00 353.80L1948.50 353.80L1949.00 353.80L1949.50 353.80L1950.00 353.80L1950.50 353.80L1951.00 353.80L1951.50 353.80L1952.00 353.80L1952.50 353.80L1953.00 353.80L1953.50 353.80L1954.00 353.80L1954.50 353.80L1955.00 353.80L1955.50 353.80L1956.00 353.80L1956.50 353.80L1957.00 353.80L1957.50 353.80L1958.00 353.80L1958.50 353.80L1959.00 353.80L1959.50 353.80L1960.00 353.80L1960.50 353.80L1961.00 353.80L1961.50 353.80L1962.00 353.80L1962.50 353.80L1963.00 353.80L1963.50 353.80L1964.00 353.80L1964.50 353.80L1965.00 353.80L1965.50 353.80L1966.00 353.80L1966.50 353.80L1967.00 353.80L1967.50 353.80L1968.00 353.80L1968.50 353.80L1969.00 353.80L1969.50 353.80L1970.00 353.80L1970.50 353.80L1971.00 353.80L1971.50 353.80L1972.00 353.80L1972.50 353.80" fill="none" stroke="#fdaa7f" stroke-width="4.3" stroke-linejoin="round" stroke-linecap="round"/><path d="M1532.50 45.70L1533.00 45.70L1533.50 45.70L1534.00 45.70L1534.50 45.71L1535.00 45.71L1535.50 45.71L1536.00 45.71L1536.50 45.72L1537.00 45.72L1537.50 45.73L1538.00 45.73L1538.50 45.74L1539.00 45.75L1539.50 45.75L1540.00 45.76L1540.50 45.77L1541.00 45.77L1541.50 45.78L1542.00 45.79L1542.50 45.80L1543.00 45.81L1543.50 45.82L1544.00 45.83L1544.50 45.84L1545.00 45.85L1545.50 45.86L1546.00 45.87L1546.50 45.89L1547.00 45.90L1547.50 45.91L1548.00 45.92L1548.50 45.94L1549.00 45.95L1549.50 45.96L1550.00 45.98L1550.50 45.99L1551.00 46.00L1551.50 46.02L1552.00 46.03L1552.50 46.05L1553.00 46.06L1553.50 46.08L1554.00 46.10L1554.50 46.11L1555.00 46.13L1555.50 46.14L1556.00 46.16L1556.50 46.18L1557.00 46.19L1557.50 46.21L1558.00 46.23L1558.50 46.25L1559.00 46.26L1559.50 46.28L1560.00 46.30L1560.50 46.32L1561.00 46.34L1561.50 46.36L1562.00 46.38L1562.50 46.41L1563.00 46.43L1563.50 46.46L1564.00 46.48L1564.50 46.51L1565.00 46.54L1565.50 46.57L1566.00 46.61L1566.50 46.64L1567.00 46.67L1567.50 46.71L1568.00 46.75L1568.50 46.79L1569.00 46.82L1569.50 46.86L1570.00 46.91L1570.50 46.95L1571.00 46.99L1571.50 47.04L1572.00 47.08L1572.50 47.13L1573.00 47.18L1573.50 47.22L1574.00 47.27L1574.50 47.33L1575.00 47.38L1575.50 47.43L1576.00 47.48L1576.50 47.54L1576.72 47.56L1577.00 47.59L1577.50 47.65L1578.00 47.71L1578.50 47.76L1579.00 47.82L1579.50 47.89L1580.00 47.96L1580.50 48.03L1581.00 48.12L1581.50 48.20L1582.00 48.29L1582.50 48.38L1583.00 48.48L1583.50 48.58L1584.00 48.68L1584.50 48.79L1585.00 48.90L1585.50 49.01L1586.00 49.12L1586.50 49.23L1587.00 49.34L1587.50 49.45L1588.00 49.56L1588.50 49.67L1589.00 49.78L1589.50 49.89L1590.00 50.00L1590.50 50.11L1591.00 50.21L1591.50 50.32L1592.00 50.42L1592.50 50.52L1593.00 50.63L1593.50 50.73L1594.00 50.84L1594.50 50.95L1595.00 51.05L1595.50 51.16L1596.00 51.27L1596.50 51.38L1597.00 51.49L1597.29 51.56L1597.50 51.60L1598.00 51.72L1598.50 51.84L1599.00 51.96L1599.50 52.08L1600.00 52.20L1600.50 52.33L1601.00 52.46L1601.50 52.59L1602.00 52.73L1602.50 52.87L1603.00 53.01L1603.50 53.16L1604.00 53.31L1604.50 53.47L1605.00 53.63L1605.50 53.79L1606.00 53.96L1606.50 54.13L1607.00 54.30L1607.50 54.48L1608.00 54.67L1608.50 54.85L1609.00 55.04L1609.50 55.24L1610.00 55.44L1610.50 55.64L1610.84 55.78L1611.00 55.84L1611.50 56.05L1612.00 56.26L1612.50 56.48L1613.00 56.70L1613.50 56.92L1614.00 57.14L1614.50 57.37L1615.00 57.60L1615.50 57.84L1616.00 58.07L1616.50 58.31L1617.00 58.56L1617.50 58.80L1618.00 59.05L1618.50 59.30L1619.00 59.56L1619.50 59.82L1620.00 60.09L1620.50 60.36L1620.96 60.62L1621.50 60.92L1622.00 61.21L1622.50 61.50L1623.00 61.79L1623.50 62.09L1624.00 62.40L1624.50 62.71L1625.00 63.03L1625.50 63.35L1626.00 63.68L1626.50 64.01L1627.00 64.35L1627.50 64.69L1628.00 65.04L1628.50 65.39L1629.00 65.76L1629.50 66.12L1630.00 66.49L1630.50 66.87L1631.00 67.25L1631.50 67.64L1632.00 68.04L1632.50 68.44L1633.00 68.86L1633.50 69.29L1634.00 69.73L1634.50 70.18L1635.00 70.64L1635.50 71.11L1635.77 71.38L1636.00 71.60L1636.50 72.09L1637.00 72.59L1637.50 73.11L1638.00 73.63L1638.50 74.15L1639.00 74.69L1639.50 75.23L1640.00 75.78L1640.50 76.34L1641.00 76.90L1641.50 77.46L1642.00 78.03L1642.50 78.60L1643.00 79.18L1643.50 79.76L1644.00 80.34L1644.50 80.93L1645.00 81.52L1645.50 82.10L1646.00 82.69L1646.50 83.28L1647.00 83.87L1647.50 84.47L1648.00 85.08L1648.50 85.70L1649.00 86.32L1649.50 86.96L1650.00 87.59L1650.50 88.24L1651.00 88.89L1651.50 89.54L1652.00 90.20L1652.50 90.86L1653.00 91.53L1653.50 92.20L1654.00 92.87L1654.50 93.54L1655.00 94.21L1655.50 94.89L1656.00 95.56L1656.50 96.24L1657.00 96.91L1657.50 97.58L1658.00 98.25L1658.50 98.92L1658.75 99.26L1659.00 99.59L1659.50 100.25L1660.00 100.90L1660.50 101.55L1661.00 102.20L1661.50 102.84L1662.00 103.49L1662.50 104.13L1663.00 104.77L1663.50 105.41L1664.00 106.05L1664.50 106.69L1665.00 107.33L1665.21 107.59L1665.50 107.96L1666.00 108.59L1666.50 109.22L1667.00 109.84L1667.50 110.46L1668.00 111.08L1668.50 111.69L1669.00 112.30L1669.50 112.90L1670.00 113.49L1670.50 114.08L1670.78 114.40L1671.00 114.66L1671.50 115.24L1672.00 115.81L1672.50 116.37L1673.00 116.93L1673.29 117.25L1673.50 117.48L1674.00 118.02L1674.50 118.56L1675.00 119.08L1675.50 119.60L1675.66 119.77L1676.00 120.12L1676.50 120.62L1677.00 121.13L1677.50 121.63L1677.90 122.02L1678.50 122.60L1679.00 123.08L1679.50 123.55L1680.00 124.02L1680.50 124.47L1681.00 124.92L1681.50 125.36L1682.00 125.80L1682.50 126.22L1683.00 126.63L1683.50 127.04L1683.95 127.40L1684.50 127.82L1685.00 128.20L1685.50 128.56L1685.79 128.77L1686.00 128.92L1686.50 129.26L1687.00 129.60L1687.50 129.92L1688.00 130.22L1688.50 130.51L1689.00 130.78L1689.22 130.90L1689.50 131.04L1690.00 131.30L1690.50 131.54L1690.83 131.70L1691.00 131.78L1691.50 132.02L1692.00 132.26L1692.38 132.44L1692.50 132.50L1693.00 132.75L1693.50 133.00L1693.87 133.20L1694.00 133.27L1694.50 133.55L1695.00 133.84L1695.31 134.03L1695.50 134.15L1696.00 134.48L1696.50 134.84L1696.70 134.99L1697.00 135.22L1697.50 135.63L1698.00 136.07L1698.50 136.54L1699.00 137.04L1699.34 137.39L1699.50 137.56L1700.00 138.12L1700.50 138.70L1701.00 139.31L1701.50 139.95L1701.82 140.37L1702.00 140.61L1702.50 141.30L1703.00 142.02L1703.50 142.76L1704.00 143.53L1704.15 143.77L1704.50 144.32L1705.00 145.14L1705.27 145.61L1705.50 146.00L1706.00 146.88L1706.36 147.55L1706.50 147.80L1707.00 148.75L1707.42 149.57L1708.00 150.73L1708.46 151.67L1709.00 152.82L1709.46 153.81L1710.00 154.99L1710.44 155.99L1711.00 157.25L1711.40 158.18L1712.00 159.56L1712.34 160.35L1712.50 160.72L1713.00 161.88L1713.26 162.48L1713.50 163.05L1714.00 164.23L1714.15 164.59L1714.50 165.41L1715.00 166.61L1715.50 167.81L1715.88 168.74L1716.50 170.25L1716.72 170.81L1717.00 171.50L1717.50 172.80L1718.00 174.20L1718.35 175.21L1718.50 175.65L1719.00 177.15L1719.14 177.58L1719.50 178.67L1719.92 179.93L1720.50 181.68L1720.68 182.20L1721.00 183.14L1721.42 184.33L1722.00 185.86L1722.15 186.25L1722.50 187.08L1722.87 187.92L1723.00 188.19L1723.50 189.17L1724.00 190.00L1724.28 190.40L1724.50 190.71L1724.96 191.28L1725.50 191.91L1725.63 192.05L1726.00 192.44L1726.29 192.73L1726.50 192.95L1726.94 193.40L1727.50 194.00L1728.00 194.58L1728.21 194.83L1728.50 195.21L1728.83 195.67L1729.00 195.93L1729.44 196.64L1730.00 197.67L1730.50 198.70L1730.63 198.98L1731.00 199.81L1731.21 200.31L1731.50 200.99L1731.79 201.72L1732.00 202.26L1732.36 203.21L1732.50 203.60L1732.92 204.77L1733.47 206.39L1734.00 208.01L1734.50 209.57L1735.00 211.17L1735.50 212.80L1735.60 213.15L1736.00 214.47L1736.12 214.87L1736.50 216.15L1736.63 216.58L1737.00 217.82L1737.13 218.26L1737.50 219.46L1737.63 219.89L1738.00 221.07L1738.12 221.45L1738.50 222.62L1738.61 222.94L1739.00 224.10L1739.50 225.51L1740.00 226.84L1740.49 228.08L1740.95 229.21L1741.40 230.30L1741.85 231.35L1742.00 231.70L1742.29 232.37L1742.50 232.84L1742.73 233.37L1743.00 233.98L1743.16 234.34L1743.50 235.10L1744.00 236.23L1744.44 237.23L1744.85 238.19L1745.00 238.54L1745.26 239.17L1745.50 239.75L1745.67 240.18L1746.00 241.03L1746.47 242.30L1746.87 243.42L1747.00 243.82L1747.26 244.58L1747.50 245.33L1747.64 245.78L1748.00 246.91L1748.41 248.24L1748.50 248.55L1748.78 249.49L1749.00 250.22L1749.16 250.75L1749.50 251.91L1749.89 253.24L1750.00 253.59L1750.26 254.45L1750.50 255.25L1750.62 255.62L1750.97 256.75L1751.33 257.84L1751.50 258.36L1751.67 258.87L1752.00 259.78L1752.37 260.76L1752.50 261.10L1752.71 261.61L1753.00 262.31L1753.38 263.16L1753.71 263.86L1754.00 264.43L1754.37 265.14L1754.50 265.38L1754.70 265.74L1755.00 266.28L1755.34 266.90L1755.50 267.19L1755.66 267.47L1755.97 268.06L1756.28 268.67L1756.50 269.10L1756.90 269.96L1757.21 270.65L1757.50 271.36L1757.81 272.16L1758.00 272.67L1758.40 273.81L1758.70 274.70L1758.99 275.61L1759.28 276.55L1759.50 277.27L1759.85 278.46L1760.00 278.97L1760.14 279.43L1760.42 280.40L1760.70 281.35L1760.98 282.28L1761.25 283.19L1761.50 283.98L1761.80 284.90L1762.00 285.50L1762.34 286.45L1762.50 286.88L1762.87 287.81L1763.00 288.12L1763.13 288.43L1763.39 289.00L1763.65 289.53L1763.91 290.03L1764.17 290.50L1764.42 290.94L1764.68 291.37L1764.93 291.79L1765.18 292.20L1765.43 292.62L1765.67 293.05L1765.92 293.51L1766.16 293.98L1766.41 294.47L1766.65 295.00L1766.89 295.55L1767.13 296.12L1767.36 296.73L1767.50 297.09L1767.83 298.01L1768.00 298.49L1768.30 299.36L1768.50 299.96L1768.76 300.73L1768.98 301.42L1769.21 302.09L1769.43 302.75L1769.66 303.39L1769.88 304.00L1770.00 304.32L1770.32 305.15L1770.50 305.57L1770.76 306.16L1770.98 306.62L1771.19 307.04L1771.41 307.44L1771.62 307.80L1771.83 308.14L1772.00 308.40L1772.25 308.77L1772.46 309.07L1772.67 309.36L1772.88 309.65L1773.00 309.82L1773.29 310.24L1773.49 310.55L1773.69 310.87L1773.89 311.22L1774.09 311.58L1774.29 311.96L1774.49 312.36L1774.69 312.77L1774.88 313.20L1775.08 313.65L1775.27 314.11L1775.47 314.57L1775.66 315.04L1775.85 315.51L1776.00 315.87L1776.23 316.43L1776.42 316.88L1776.61 317.31L1776.80 317.72L1776.98 318.11L1777.17 318.48L1777.36 318.82L1777.50 319.07L1777.72 319.43L1777.90 319.71L1778.09 319.96L1778.27 320.19L1778.45 320.40L1778.62 320.60L1778.80 320.79L1778.98 320.98L1779.16 321.16L1779.33 321.35L1779.50 321.53L1779.68 321.74L1779.86 321.95L1780.00 322.14L1780.20 322.41L1780.37 322.67L1780.50 322.87L1780.71 323.22L1780.88 323.52L1781.05 323.83L1781.22 324.16L1781.39 324.49L1781.55 324.83L1781.72 325.17L1781.88 325.51L1782.05 325.84L1782.21 326.17L1782.38 326.50L1782.50 326.73L1782.70 327.10L1782.86 327.38L1783.00 327.61L1783.18 327.88L1783.34 328.11L1783.50 328.32L1783.66 328.51L1783.81 328.69L1783.97 328.86L1784.13 329.01L1784.28 329.16L1784.44 329.30L1784.59 329.44L1784.74 329.57L1784.90 329.71L1785.05 329.86L1785.20 330.01L1785.35 330.17L1785.50 330.34L1785.65 330.53L1785.81 330.73L1785.95 330.93L1786.10 331.15L1786.25 331.38L1786.40 331.62L1786.55 331.87L1786.69 332.13L1786.84 332.38L1786.98 332.64L1787.13 332.90L1787.27 333.16L1787.42 333.40L1787.56 333.65L1787.70 333.88L1787.85 334.11L1787.99 334.32L1788.13 334.52L1788.27 334.71L1788.41 334.89L1788.55 335.06L1788.69 335.21L1788.83 335.36L1788.97 335.49L1789.10 335.62L1789.24 335.75L1789.38 335.87L1789.50 335.98L1789.65 336.11L1789.79 336.24L1789.92 336.36L1790.06 336.49L1790.19 336.63L1790.33 336.78L1790.46 336.93L1790.59 337.09L1790.72 337.25L1790.86 337.42L1790.99 337.60L1791.12 337.78L1791.25 337.97L1791.38 338.16L1791.50 338.33L1791.64 338.54L1791.77 338.72L1791.90 338.91L1792.03 339.09L1792.15 339.26L1792.28 339.43L1792.41 339.59L1792.53 339.74L1792.66 339.88L1792.79 340.02L1792.91 340.15L1793.04 340.27L1793.16 340.38L1793.29 340.49L1793.41 340.59L1793.53 340.68L1793.66 340.78L1793.78 340.87L1793.90 340.96L1794.02 341.05L1794.14 341.14L1794.27 341.24L1794.39 341.33L1794.51 341.43L1794.63 341.54L1794.87 341.75L1795.00 341.87L1795.22 342.09L1795.46 342.34L1795.69 342.58L1795.93 342.82L1796.16 343.05L1796.39 343.27L1796.62 343.48L1796.85 343.67L1797.00 343.79L1797.19 343.93L1797.41 344.09L1797.63 344.25L1797.86 344.40L1798.00 344.50L1798.19 344.64L1798.41 344.81L1798.63 344.98L1798.84 345.15L1799.00 345.28L1799.17 345.41L1799.38 345.58L1799.59 345.74L1799.80 345.89L1800.00 346.03L1800.50 346.39L1801.00 346.73L1801.50 347.05L1802.00 347.37L1802.50 347.68L1803.00 347.97L1803.50 348.25L1804.00 348.51L1804.50 348.76L1805.00 349.00L1805.50 349.23L1806.00 349.46L1806.50 349.68L1807.00 349.90L1807.50 350.12L1808.00 350.34L1808.50 350.55L1809.00 350.75L1809.50 350.95L1810.00 351.13L1810.50 351.31L1811.00 351.48L1811.50 351.64L1812.00 351.79L1812.50 351.93L1813.00 352.05L1813.50 352.16L1814.00 352.26L1814.50 352.34L1815.00 352.40L1815.50 352.45L1816.00 352.51L1816.50 352.56L1817.00 352.61L1817.50 352.66L1818.00 352.71L1818.50 352.76L1819.00 352.81L1819.50 352.85L1820.00 352.90L1820.50 352.94L1821.00 352.98L1821.50 353.02L1822.00 353.06L1822.50 353.10L1823.00 353.13L1823.50 353.17L1824.00 353.20L1824.50 353.24L1825.00 353.27L1825.50 353.30L1826.00 353.33L1826.50 353.35L1827.00 353.38L1827.50 353.40L1828.00 353.43L1828.50 353.45L1829.00 353.47L1829.50 353.49L1830.00 353.51L1830.50 353.52L1831.00 353.54L1831.50 353.55L1832.00 353.56L1832.50 353.57L1833.00 353.58L1833.50 353.59L1834.00 353.59L1834.50 353.60L1835.00 353.60L1835.50 353.60L1836.00 353.60L1836.50 353.61L1837.00 353.61L1837.50 353.61L1838.00 353.61L1838.50 353.61L1839.00 353.61L1839.50 353.62L1840.00 353.62L1840.50 353.62L1841.00 353.62L1841.50 353.62L1842.00 353.62L1842.50 353.63L1843.00 353.63L1843.50 353.63L1844.00 353.63L1844.50 353.63L1845.00 353.64L1845.50 353.64L1846.00 353.64L1846.50 353.64L1847.00 353.64L1847.50 353.64L1848.00 353.64L1848.50 353.65L1849.00 353.65L1849.50 353.65L1850.00 353.65L1850.50 353.65L1851.00 353.65L1851.50 353.66L1852.00 353.66L1852.50 353.66L1853.00 353.66L1853.50 353.66L1854.00 353.66L1854.50 353.66L1855.00 353.67L1855.50 353.67L1856.00 353.67L1856.50 353.67L1857.00 353.67L1857.50 353.67L1858.00 353.67L1858.50 353.68L1859.00 353.68L1859.50 353.68L1860.00 353.68L1860.50 353.68L1861.00 353.68L1861.50 353.68L1862.00 353.69L1862.50 353.69L1863.00 353.69L1863.50 353.69L1864.00 353.69L1864.50 353.69L1865.00 353.69L1865.50 353.69L1866.00 353.70L1866.50 353.70L1867.00 353.70L1867.50 353.70L1868.00 353.70L1868.50 353.70L1869.00 353.70L1869.50 353.70L1870.00 353.70L1870.50 353.71L1871.00 353.71L1871.50 353.71L1872.00 353.71L1872.50 353.71L1873.00 353.71L1873.50 353.71L1874.00 353.71L1874.50 353.71L1875.00 353.72L1875.50 353.72L1876.00 353.72L1876.50 353.72L1877.00 353.72L1877.50 353.72L1878.00 353.72L1878.50 353.72L1879.00 353.72L1879.50 353.73L1880.00 353.73L1880.50 353.73L1881.00 353.73L1881.50 353.73L1882.00 353.73L1882.50 353.73L1883.00 353.73L1883.50 353.73L1884.00 353.73L1884.50 353.73L1885.00 353.74L1885.50 353.74L1886.00 353.74L1886.50 353.74L1887.00 353.74L1887.50 353.74L1888.00 353.74L1888.50 353.74L1889.00 353.74L1889.50 353.74L1890.00 353.74L1890.50 353.74L1891.00 353.75L1891.50 353.75L1892.00 353.75L1892.50 353.75L1893.00 353.75L1893.50 353.75L1894.00 353.75L1894.50 353.75L1895.00 353.75L1895.50 353.75L1896.00 353.75L1896.50 353.75L1897.00 353.75L1897.50 353.76L1898.00 353.76L1898.50 353.76L1899.00 353.76L1899.50 353.76L1900.00 353.76L1900.50 353.76L1901.00 353.76L1901.50 353.76L1902.00 353.76L1902.50 353.76L1903.00 353.76L1903.50 353.76L1904.00 353.76L1904.50 353.76L1905.00 353.77L1905.50 353.77L1906.00 353.77L1906.50 353.77L1907.00 353.77L1907.50 353.77L1908.00 353.77L1908.50 353.77L1909.00 353.77L1909.50 353.77L1910.00 353.77L1910.50 353.77L1911.00 353.77L1911.50 353.77L1912.00 353.77L1912.50 353.77L1913.00 353.77L1913.50 353.77L1914.00 353.78L1914.50 353.78L1915.00 353.78L1915.50 353.78L1916.00 353.78L1916.50 353.78L1917.00 353.78L1917.50 353.78L1918.00 353.78L1918.50 353.78L1919.00 353.78L1919.50 353.78L1920.00 353.78L1920.50 353.78L1921.00 353.78L1921.50 353.78L1922.00 353.78L1922.50 353.78L1923.00 353.78L1923.50 353.78L1924.00 353.78L1924.50 353.78L1925.00 353.78L1925.50 353.79L1926.00 353.79L1926.50 353.79L1927.00 353.79L1927.50 353.79L1928.00 353.79L1928.50 353.79L1929.00 353.79L1929.50 353.79L1930.00 353.79L1930.50 353.79L1931.00 353.79L1931.50 353.79L1932.00 353.79L1932.50 353.79L1933.00 353.79L1933.50 353.79L1934.00 353.79L1934.50 353.79L1935.00 353.79L1935.50 353.79L1936.00 353.79L1936.50 353.79L1937.00 353.79L1937.50 353.79L1938.00 353.79L1938.50 353.79L1939.00 353.79L1939.50 353.79L1940.00 353.79L1940.50 353.79L1941.00 353.79L1941.50 353.79L1942.00 353.79L1942.50 353.79L1943.00 353.79L1943.50 353.80L1944.00 353.80L1944.50 353.80L1945.00 353.80L1945.50 353.80L1946.00 353.80L1946.50 353.80L1947.00 353.80L1947.50 353.80L1948.00 353.80L1948.50 353.80L1949.00 353.80L1949.50 353.80L1950.00 353.80L1950.50 353.80L1951.00 353.80L1951.50 353.80L1952.00 353.80L1952.50 353.80L1953.00 353.80L1953.50 353.80L1954.00 353.80L1954.50 353.80L1955.00 353.80L1955.50 353.80L1956.00 353.80L1956.50 353.80L1957.00 353.80L1957.50 353.80L1958.00 353.80L1958.50 353.80L1959.00 353.80L1959.50 353.80L1960.00 353.80L1960.50 353.80L1961.00 353.80L1961.50 353.80L1962.00 353.80L1962.50 353.80L1963.00 353.80L1963.50 353.80L1964.00 353.80L1964.50 353.80L1965.00 353.80L1965.50 353.80L1966.00 353.80L1966.50 353.80L1967.00 353.80L1967.50 353.80L1968.00 353.80L1968.50 353.80L1969.00 353.80L1969.50 353.80L1970.00 353.80L1970.50 353.80L1971.00 353.80L1971.50 353.80L1972.00 353.80L1972.50 353.80" fill="none" stroke="#74b87c" stroke-width="4.3" stroke-linejoin="round" stroke-linecap="round"/></g>
<text transform="scale(0.965 1)" x="1532.8 1550.97 1558.92" y="367.95" font-size="41" xml:space="preserve">0.0</text>
<text transform="scale(0.965 1)" x="1532.8 1550.97 1558.46" y="306.29" font-size="41" xml:space="preserve">0.2</text>
<text transform="scale(0.965 1)" x="1532.8 1550.97 1559.58" y="244.63" font-size="41" xml:space="preserve">0.4</text>
<text transform="scale(0.965 1)" x="1532.8 1550.97 1558.44" y="182.97" font-size="41" xml:space="preserve">0.6</text>
<text transform="scale(0.965 1)" x="1532.8 1550.97 1558.74" y="121.31" font-size="41" xml:space="preserve">0.8</text>
<text transform="scale(0.965 1)" x="1533.42 1550.97 1558.92" y="59.65" font-size="41" xml:space="preserve">1.0</text><path d="M1481.96 55.29H1489.68V61.45H1481.96ZM1493.22 55.29H1500.61V61.45H1493.22Z" fill="#fff"/>
<text transform="scale(0.965 1)" font-size="41" xml:space="preserve"><tspan x="1558.24 1577.21" y="439.6">10</tspan><tspan x="1594.88 1605.28" y="412.6" font-size="27.68">-1</tspan></text><path d="M1505.91 435.24H1513.63V441.4H1505.91ZM1517.17 435.24H1524.56V441.4H1517.17Z" fill="#fff"/><path d="M1550.32 409.23H1555.79V414.4H1550.32ZM1558.19 409.23H1563.43V414.4H1558.19Z" fill="#fff"/>
<text transform="scale(0.965 1)" font-size="41" xml:space="preserve"><tspan x="1658.81 1677.78" y="439.6">10</tspan><tspan x="1696.43" y="412.6" font-size="27.68">0</tspan></text><path d="M1602.96 435.24H1610.68V441.4H1602.96ZM1614.22 435.24H1621.61V441.4H1614.22Z" fill="#fff"/>
<text transform="scale(0.965 1)" font-size="41" xml:space="preserve"><tspan x="1754.93 1773.89" y="439.6">10</tspan><tspan x="1793.88" y="412.6" font-size="27.68">1</tspan></text><path d="M1695.71 435.24H1703.43V441.4H1695.71ZM1706.97 435.24H1714.36V441.4H1706.97Z" fill="#fff"/><path d="M1732.32 409.23H1737.79V414.4H1732.32ZM1740.19 409.23H1745.43V414.4H1740.19Z" fill="#fff"/>
<text transform="scale(0.965 1)" font-size="41" xml:space="preserve"><tspan x="1851.04 1870" y="439.6">10</tspan><tspan x="1888.35" y="412.6" font-size="27.68">2</tspan></text><path d="M1788.46 435.24H1796.18V441.4H1788.46ZM1799.72 435.24H1807.11V441.4H1799.72Z" fill="#fff"/>
<text transform="scale(0.965 1)" font-size="41" xml:space="preserve"><tspan x="1947.15 1966.12" y="439.6">10</tspan><tspan x="1984.8" y="412.6" font-size="27.68">3</tspan></text><path d="M1881.21 435.24H1888.93V441.4H1881.21ZM1892.47 435.24H1899.86V441.4H1892.47Z" fill="#fff"/>
<path d="M1564 220.6H1622.6" stroke="#0083c9" stroke-width="4" fill="none"/>
<text transform="scale(0.86 1)" font-size="33.4" xml:space="preserve"><tspan x="1899.79" y="233.6" font-style="italic">T</tspan><tspan x="1922.56 1945.9 1963.93 1972.31" y="233.6">=0.1</tspan></text><path d="M1697.57 229.81H1703.39V235.4H1697.57ZM1705.97 229.81H1711.55V235.4H1705.97Z" fill="#fff"/>
<path d="M1564 257.6H1622.6" stroke="#fdaa7f" stroke-width="4" fill="none"/>
<text transform="scale(0.86 1)" font-size="33.4" xml:space="preserve"><tspan x="1899.79" y="267.6" font-style="italic">T</tspan><tspan x="1922.56 1945.9 1963.93 1973.15" y="267.6">=0.3</tspan></text>
<path d="M1564 294.6H1622.6" stroke="#74b87c" stroke-width="4" fill="none"/>
<text transform="scale(0.86 1)" font-size="33.4" xml:space="preserve"><tspan x="1899.79" y="304" font-style="italic">T</tspan><tspan x="1922.56 1945.9 1963.93 1973.08" y="304">=0.5</tspan></text>
<rect x="1530" y="512.1" width="429.2" height="331.1" fill="none" stroke="#000" stroke-width="2.4"/>
<path d="M1530 828.4h15.5M1530 768.2h15.5M1530 708h15.5M1530 647.8h15.5M1530 587.6h15.5M1530 527.4h15.5" stroke="#000" stroke-width="2.3" fill="none"/>
<path d="M1529.95 843.2v-15.5M1562.24 843.2v-8M1581.12 843.2v-8M1594.52 843.2v-8M1604.91 843.2v-8M1613.41 843.2v-8M1620.59 843.2v-8M1626.81 843.2v-8M1632.29 843.2v-8M1637.2 843.2v-15.5M1669.49 843.2v-8M1688.37 843.2v-8M1701.77 843.2v-8M1712.16 843.2v-8M1720.66 843.2v-8M1727.84 843.2v-8M1734.06 843.2v-8M1739.54 843.2v-8M1744.45 843.2v-15.5M1776.74 843.2v-8M1795.62 843.2v-8M1809.02 843.2v-8M1819.41 843.2v-8M1827.91 843.2v-8M1835.09 843.2v-8M1841.31 843.2v-8M1846.79 843.2v-8M1851.7 843.2v-15.5M1883.99 843.2v-8M1902.87 843.2v-8M1916.27 843.2v-8M1926.66 843.2v-8M1935.16 843.2v-8M1942.34 843.2v-8M1948.56 843.2v-8M1954.04 843.2v-8M1958.95 843.2v-15.5" stroke="#000" stroke-width="2.2" fill="none"/>
<clipPath id="cc2"><rect x="1528.6" y="512.1" width="432" height="331.1"/></clipPath>
<g clip-path="url(#cc2)"><path d="M1530.00 527.50L1530.50 527.49L1531.00 527.49L1531.50 527.48L1532.00 527.47L1532.50 527.47L1533.00 527.46L1533.50 527.45L1534.00 527.45L1534.50 527.44L1535.00 527.44L1535.50 527.43L1536.00 527.42L1536.50 527.42L1537.00 527.41L1537.50 527.41L1538.00 527.40L1538.50 527.39L1539.00 527.39L1539.50 527.38L1540.00 527.38L1540.50 527.37L1541.00 527.37L1541.50 527.36L1542.00 527.36L1542.50 527.35L1543.00 527.35L1543.50 527.34L1544.00 527.34L1544.50 527.33L1545.00 527.33L1545.50 527.33L1546.00 527.32L1546.50 527.32L1547.00 527.31L1547.50 527.31L1548.00 527.31L1548.50 527.30L1549.00 527.30L1549.50 527.30L1550.00 527.29L1550.50 527.29L1551.00 527.29L1551.50 527.29L1552.00 527.28L1552.50 527.28L1553.00 527.28L1553.50 527.28L1554.00 527.28L1554.50 527.28L1555.00 527.28L1555.50 527.28L1556.00 527.27L1556.50 527.27L1557.00 527.27L1557.50 527.27L1558.00 527.28L1558.50 527.28L1559.00 527.28L1559.50 527.28L1560.00 527.28L1560.50 527.28L1561.00 527.28L1561.50 527.29L1562.00 527.29L1562.50 527.29L1563.00 527.30L1563.50 527.30L1564.00 527.30L1564.50 527.31L1565.00 527.31L1565.50 527.32L1566.00 527.32L1566.50 527.33L1567.00 527.34L1567.50 527.34L1568.00 527.35L1568.50 527.36L1569.00 527.37L1569.50 527.37L1570.00 527.38L1570.50 527.39L1571.00 527.40L1571.50 527.41L1572.00 527.42L1572.50 527.44L1573.00 527.45L1573.50 527.46L1574.00 527.47L1574.50 527.49L1575.00 527.50L1575.50 527.51L1576.00 527.53L1576.50 527.54L1577.00 527.55L1577.50 527.56L1578.00 527.57L1578.50 527.59L1579.00 527.60L1579.50 527.62L1580.00 527.63L1580.50 527.65L1581.00 527.68L1581.14 527.68L1581.50 527.70L1582.00 527.73L1582.50 527.76L1583.00 527.80L1583.50 527.84L1584.00 527.90L1584.50 527.96L1585.00 528.03L1585.50 528.11L1586.00 528.19L1586.50 528.29L1587.00 528.39L1587.50 528.50L1588.00 528.61L1588.50 528.73L1589.00 528.85L1589.50 528.98L1590.00 529.12L1590.50 529.26L1591.00 529.40L1591.50 529.55L1592.00 529.70L1592.50 529.85L1593.00 530.00L1593.50 530.16L1594.00 530.32L1594.50 530.48L1595.00 530.64L1595.50 530.80L1596.00 530.96L1596.50 531.12L1597.00 531.28L1597.50 531.44L1598.00 531.60L1598.50 531.76L1599.00 531.93L1599.50 532.10L1600.00 532.28L1600.50 532.46L1601.00 532.65L1601.50 532.84L1602.00 533.03L1602.50 533.23L1603.00 533.43L1603.50 533.63L1604.00 533.83L1604.50 534.04L1604.92 534.22L1605.50 534.47L1606.00 534.68L1606.50 534.90L1607.00 535.11L1607.50 535.33L1608.00 535.55L1608.50 535.77L1609.00 535.99L1609.50 536.21L1610.00 536.43L1610.50 536.65L1611.00 536.87L1611.50 537.09L1612.00 537.31L1612.50 537.53L1613.00 537.75L1613.50 537.97L1614.00 538.20L1614.50 538.42L1615.00 538.65L1615.50 538.88L1616.00 539.11L1616.50 539.34L1617.00 539.58L1617.50 539.82L1618.00 540.05L1618.50 540.30L1619.00 540.54L1619.50 540.79L1620.00 541.04L1620.50 541.29L1621.00 541.55L1621.50 541.80L1622.00 542.06L1622.50 542.33L1623.00 542.59L1623.50 542.86L1624.00 543.13L1624.50 543.41L1625.00 543.69L1625.50 543.97L1626.00 544.25L1626.50 544.54L1627.00 544.83L1627.50 545.13L1628.00 545.42L1628.50 545.72L1629.00 546.02L1629.50 546.33L1630.00 546.63L1630.50 546.95L1631.00 547.26L1631.50 547.58L1632.00 547.90L1632.30 548.10L1632.50 548.23L1633.00 548.56L1633.50 548.90L1634.00 549.24L1634.50 549.59L1635.00 549.94L1635.50 550.30L1636.00 550.67L1636.50 551.04L1637.00 551.42L1637.50 551.80L1638.00 552.19L1638.50 552.59L1639.00 553.00L1639.50 553.41L1640.00 553.83L1640.50 554.26L1641.00 554.70L1641.50 555.15L1641.64 555.28L1642.00 555.61L1642.50 556.08L1643.00 556.57L1643.50 557.06L1644.00 557.57L1644.50 558.08L1645.00 558.61L1645.50 559.14L1646.00 559.68L1646.50 560.23L1647.00 560.79L1647.50 561.35L1648.00 561.92L1648.50 562.49L1649.00 563.07L1649.42 563.57L1650.00 564.24L1650.50 564.83L1651.00 565.42L1651.50 566.01L1652.00 566.60L1652.50 567.19L1653.00 567.79L1653.50 568.38L1654.00 568.97L1654.50 569.55L1655.00 570.14L1655.50 570.72L1656.00 571.30L1656.50 571.88L1657.00 572.46L1657.50 573.05L1658.00 573.64L1658.50 574.24L1659.00 574.83L1659.50 575.43L1660.00 576.03L1660.50 576.63L1661.00 577.24L1661.50 577.84L1661.92 578.35L1662.50 579.06L1663.00 579.67L1663.50 580.28L1664.00 580.89L1664.50 581.50L1665.00 582.11L1665.50 582.72L1666.00 583.33L1666.50 583.93L1667.00 584.54L1667.50 585.14L1668.00 585.75L1668.50 586.34L1669.00 586.94L1669.50 587.53L1670.00 588.12L1670.50 588.70L1671.00 589.27L1671.50 589.83L1671.76 590.12L1672.00 590.39L1672.50 590.93L1673.00 591.47L1673.50 592.00L1674.00 592.51L1674.50 593.02L1675.00 593.51L1675.50 594.00L1676.00 594.46L1676.50 594.92L1677.00 595.36L1677.50 595.79L1678.00 596.20L1678.50 596.60L1679.00 596.99L1679.50 597.37L1679.88 597.66L1680.50 598.12L1681.00 598.47L1681.50 598.80L1682.00 599.11L1682.50 599.38L1683.00 599.63L1683.47 599.82L1684.00 600.00L1684.50 600.11L1685.00 600.18L1685.50 600.19L1686.00 600.16L1686.50 600.09L1686.79 600.04L1687.00 600.00L1687.50 599.87L1688.00 599.72L1688.50 599.53L1689.00 599.30L1689.50 599.05L1689.90 598.82L1690.50 598.44L1691.00 598.08L1691.50 597.69L1692.00 597.27L1692.50 596.81L1692.81 596.50L1693.00 596.31L1693.50 595.78L1694.00 595.21L1694.50 594.61L1695.00 593.97L1695.50 593.30L1696.00 592.59L1696.50 591.84L1697.00 591.06L1697.50 590.24L1698.00 589.39L1698.14 589.14L1698.50 588.50L1699.00 587.58L1699.50 586.63L1700.00 585.64L1700.50 584.62L1701.00 583.57L1701.50 582.50L1702.00 581.39L1702.50 580.25L1702.92 579.27L1703.50 577.90L1704.00 576.69L1704.50 575.46L1705.00 574.21L1705.14 573.85L1705.50 572.94L1706.00 571.65L1706.50 570.35L1707.00 569.04L1707.26 568.36L1707.50 567.72L1708.00 566.39L1708.50 565.06L1709.00 563.73L1709.28 562.97L1709.50 562.40L1710.00 561.07L1710.50 559.76L1711.00 558.45L1711.22 557.87L1711.50 557.16L1712.00 555.89L1712.50 554.64L1713.00 553.42L1713.50 552.23L1714.00 551.07L1714.50 549.95L1714.88 549.13L1715.50 547.84L1716.00 546.86L1716.50 545.94L1717.00 545.07L1717.50 544.27L1718.00 543.54L1718.27 543.18L1718.50 542.88L1719.00 542.30L1719.50 541.80L1719.88 541.48L1720.00 541.38L1720.50 541.05L1721.00 540.82L1721.43 540.69L1722.00 540.64L1722.50 540.71L1722.93 540.87L1723.50 541.22L1724.00 541.68L1724.39 542.12L1725.00 542.98L1725.50 543.84L1725.80 544.41L1726.00 544.82L1726.50 545.94L1727.00 547.19L1727.17 547.63L1727.50 548.56L1728.00 550.06L1728.50 551.66L1729.00 553.39L1729.50 555.21L1729.79 556.32L1730.00 557.13L1730.50 559.13L1731.00 561.20L1731.50 563.33L1732.00 565.51L1732.28 566.74L1732.50 567.73L1733.00 569.96L1733.47 572.07L1734.00 574.43L1734.50 576.62L1734.64 577.21L1735.00 578.76L1735.50 580.84L1735.77 581.94L1736.00 582.83L1736.50 584.72L1736.88 586.07L1737.00 586.48L1737.50 588.10L1737.96 589.45L1738.50 590.83L1739.00 591.91L1739.50 592.78L1740.00 593.43L1740.50 593.84L1741.00 594.00L1741.50 593.91L1742.00 593.55L1742.50 592.93L1743.00 592.06L1743.50 590.92L1743.98 589.58L1744.50 587.90L1744.91 586.38L1745.00 586.05L1745.50 583.98L1745.83 582.53L1746.00 581.73L1746.50 579.32L1746.72 578.20L1747.00 576.78L1747.50 574.13L1747.60 573.58L1748.00 571.41L1748.46 568.87L1749.00 565.93L1749.31 564.25L1749.50 563.24L1750.00 560.65L1750.14 559.93L1750.50 558.18L1750.96 556.07L1751.50 553.82L1751.76 552.83L1752.00 552.01L1752.50 550.48L1753.00 549.29L1753.33 548.70L1753.50 548.45L1754.00 548.00L1754.50 547.95L1754.84 548.16L1755.00 548.33L1755.50 549.13L1756.00 550.36L1756.31 551.33L1756.50 552.00L1757.00 554.03L1757.50 556.42L1757.73 557.65L1758.00 559.13L1758.43 561.68L1758.50 562.12L1759.00 565.33L1759.11 566.08L1759.50 568.69L1759.79 570.67L1760.00 572.13L1760.45 575.26L1760.50 575.58L1761.00 578.95L1761.11 579.68L1761.50 582.18L1761.76 583.74L1762.00 585.16L1762.39 587.30L1762.50 587.82L1763.00 590.10L1763.50 591.90L1763.65 592.33L1764.00 593.19L1764.26 593.63L1764.50 593.90L1764.86 594.03L1765.00 594.00L1765.46 593.54L1766.00 592.34L1766.50 590.60L1766.63 590.05L1767.00 588.30L1767.21 587.19L1767.50 585.49L1767.78 583.76L1768.00 582.25L1768.34 579.88L1768.50 578.68L1768.89 575.72L1769.00 574.88L1769.44 571.46L1769.50 570.98L1769.98 567.26L1770.50 563.41L1771.00 560.02L1771.50 557.06L1771.57 556.70L1772.00 554.67L1772.09 554.33L1772.50 552.96L1773.00 552.00L1773.50 551.90L1774.00 552.71L1774.50 554.42L1774.59 554.82L1775.00 556.97L1775.08 557.42L1775.50 560.27L1775.56 560.68L1776.00 564.18L1776.50 568.56L1776.97 572.90L1777.00 573.20L1777.43 577.24L1777.50 577.91L1777.89 581.44L1778.00 582.45L1778.34 585.32L1778.50 586.61L1778.79 588.73L1779.00 590.16L1779.23 591.54L1779.50 592.92L1779.67 593.65L1780.00 594.72L1780.50 595.44L1780.96 595.07L1781.39 593.89L1781.50 593.44L1781.81 591.98L1782.00 590.86L1782.22 589.41L1782.50 587.38L1782.63 586.31L1783.00 583.18L1783.04 582.79L1783.45 579.01L1783.50 578.51L1783.85 575.11L1784.00 573.64L1784.25 571.25L1784.50 568.88L1784.64 567.59L1785.00 564.55L1785.42 561.46L1785.50 560.96L1785.81 559.25L1786.00 558.38L1786.19 557.71L1786.50 557.01L1786.94 556.93L1787.32 557.71L1787.50 558.38L1787.68 559.24L1788.00 561.10L1788.05 561.46L1788.42 564.26L1788.50 564.99L1788.78 567.54L1789.00 569.76L1789.13 571.15L1789.49 574.94L1789.84 578.77L1790.00 580.46L1790.19 582.49L1790.50 585.52L1790.54 585.91L1790.89 588.93L1791.00 589.83L1791.23 591.43L1791.50 592.98L1791.57 593.31L1791.91 594.49L1792.24 594.95L1792.50 594.79L1792.90 593.67L1793.00 593.25L1793.23 592.01L1793.50 590.20L1793.56 589.76L1793.88 587.04L1794.00 585.93L1794.20 583.94L1794.50 580.85L1794.84 577.21L1795.00 575.49L1795.15 573.88L1795.47 570.73L1795.50 570.40L1795.78 567.92L1796.00 566.16L1796.09 565.56L1796.39 563.76L1796.50 563.26L1796.70 562.57L1797.00 562.06L1797.30 562.25L1797.50 562.76L1797.60 563.12L1797.89 564.65L1798.00 565.35L1798.19 566.77L1798.48 569.40L1798.77 572.43L1799.00 575.01L1799.06 575.74L1799.35 579.21L1799.50 581.04L1799.63 582.69L1799.92 586.05L1800.00 586.98L1800.20 589.18L1800.48 591.93L1800.76 594.22L1801.00 595.76L1801.31 597.09L1801.50 597.49L1801.86 597.40L1802.00 597.06L1802.13 596.59L1802.40 595.19L1802.50 594.52L1802.67 593.25L1802.93 590.88L1803.00 590.24L1803.20 588.17L1803.46 585.25L1803.50 584.81L1803.72 582.22L1803.98 579.25L1804.24 576.42L1804.50 573.89L1804.76 571.74L1805.00 570.13L1805.26 568.95L1805.50 568.46L1805.77 568.56L1806.00 569.25L1806.26 570.66L1806.50 572.47L1806.75 574.93L1807.00 577.69L1807.24 580.73L1807.48 583.92L1807.72 587.15L1807.96 590.29L1808.00 590.78L1808.20 593.22L1808.43 595.81L1808.50 596.45L1808.67 597.98L1808.90 599.65L1809.00 600.17L1809.14 600.75L1809.37 601.25L1809.50 601.25L1809.83 600.40L1810.00 599.48L1810.06 599.11L1810.29 597.30L1810.50 595.19L1810.74 592.52L1810.96 589.74L1811.00 589.23L1811.18 586.87L1811.40 584.04L1811.50 582.84L1811.62 581.34L1811.85 578.91L1812.00 577.40L1812.06 576.84L1812.28 575.25L1812.50 574.18L1812.71 573.69L1812.93 573.81L1813.14 574.54L1813.35 575.84L1813.50 577.05L1813.57 577.68L1813.78 579.99L1813.99 582.67L1814.20 585.63L1814.40 588.74L1814.50 590.20L1814.61 591.89L1814.82 594.95L1815.00 597.52L1815.23 600.35L1815.43 602.50L1815.50 603.12L1815.63 604.14L1815.83 605.24L1816.00 605.70L1816.23 605.65L1816.43 604.97L1816.50 604.61L1816.63 603.73L1816.83 602.00L1817.00 600.15L1817.22 597.37L1817.42 594.68L1817.50 593.48L1817.61 591.90L1817.80 589.14L1818.00 586.51L1818.19 584.14L1818.38 582.15L1818.50 581.09L1818.57 580.58L1818.76 579.54L1818.95 579.07L1819.13 579.18L1819.32 579.89L1819.50 581.10L1819.69 582.95L1819.88 585.20L1820.00 586.90L1820.06 587.82L1820.25 590.71L1820.43 593.74L1820.50 594.96L1820.61 596.81L1820.79 599.80L1820.97 602.60L1821.00 603.01L1821.15 605.10L1821.33 607.18L1821.50 608.72L1821.69 609.87L1821.86 610.37L1822.00 610.36L1822.22 609.63L1822.39 608.43L1822.50 607.44L1822.57 606.75L1822.74 604.66L1822.91 602.27L1823.00 600.97L1823.09 599.67L1823.26 596.96L1823.43 594.27L1823.50 593.19L1823.60 591.74L1823.77 589.44L1823.94 587.49L1824.00 586.89L1824.11 585.99L1824.28 584.98L1824.44 584.52L1824.61 584.63L1824.78 585.31L1824.94 586.54L1825.00 587.10L1825.11 588.28L1825.27 590.45L1825.44 592.98L1825.50 594.05L1825.60 595.76L1825.76 598.70L1825.92 601.66L1826.00 603.03L1826.09 604.55L1826.25 607.24L1826.41 609.65L1826.50 610.85L1826.57 611.66L1826.73 613.21L1826.89 614.25L1827.00 614.65L1827.20 614.65L1827.36 614.02L1827.50 613.02L1827.67 611.27L1827.83 609.28L1827.98 606.99L1828.14 604.50L1828.29 601.92L1828.45 599.37L1828.50 598.51L1828.60 596.96L1828.75 594.78L1828.90 592.94L1829.00 591.99L1829.06 591.51L1829.21 590.56L1829.36 590.14L1829.50 590.23L1829.66 590.91L1829.81 592.09L1829.96 593.75L1830.00 594.31L1830.11 595.81L1830.25 598.21L1830.40 600.87L1830.50 602.73L1830.55 603.65L1830.69 606.44L1830.84 609.17L1830.99 611.73L1831.13 613.99L1831.28 615.88L1831.42 617.36L1831.50 617.96L1831.56 618.33L1831.71 618.80L1831.85 618.73L1831.99 618.16L1832.13 617.10L1832.28 615.60L1832.42 613.75L1832.50 612.52L1832.56 611.63L1832.70 609.31L1832.84 606.91L1832.98 604.55L1833.00 604.17L1833.12 602.32L1833.26 600.30L1833.39 598.60L1833.50 597.54L1833.67 596.42L1833.81 596.04L1833.94 596.16L1834.08 596.79L1834.21 597.90L1834.35 599.45L1834.48 601.38L1834.62 603.63L1834.75 606.09L1834.89 608.68L1835.00 610.90L1835.02 611.29L1835.15 613.83L1835.29 616.21L1835.42 618.31L1835.50 619.46L1835.55 620.09L1835.68 621.47L1835.81 622.39L1835.94 622.84L1836.07 622.80L1836.20 622.28L1836.33 621.32L1836.46 619.96L1836.50 619.52L1836.59 618.27L1836.72 616.34L1836.85 614.21L1836.98 612.03L1837.00 611.65L1837.11 609.88L1837.23 607.84L1837.36 606.00L1837.49 604.45L1837.61 603.26L1837.74 602.47L1837.86 602.14L1837.99 602.27L1838.11 602.86L1838.24 603.89L1838.36 605.32L1838.49 607.11L1838.61 609.19L1838.73 611.47L1838.86 613.86L1838.98 616.28L1839.00 616.69L1839.10 618.63L1839.22 620.82L1839.34 622.77L1839.47 624.42L1839.50 624.82L1839.59 625.70L1839.71 626.56L1839.83 627.00L1839.95 626.98L1840.07 626.53L1840.19 625.68L1840.31 624.46L1840.42 622.93L1840.50 621.84L1840.54 621.18L1840.66 619.26L1840.78 617.30L1840.90 615.34L1841.00 613.71L1841.13 611.83L1841.25 610.43L1841.37 609.36L1841.48 608.66L1841.71 608.50L1841.83 609.06L1841.94 610.02L1842.00 610.64L1842.06 611.34L1842.17 613.00L1842.29 614.91L1842.40 617.00L1842.50 618.94L1842.63 621.43L1842.74 623.59L1842.85 625.62L1842.96 627.41L1843.00 627.92L1843.08 628.94L1843.19 630.13L1843.30 630.95L1843.41 631.36L1843.63 630.99L1843.74 630.24L1843.86 629.15L1843.97 627.78L1844.00 627.31L1844.08 626.21L1844.18 624.49L1844.29 622.71L1844.40 620.95L1844.50 619.45L1844.62 617.78L1844.73 616.52L1844.84 615.56L1844.94 614.94L1845.16 614.83L1845.27 615.35L1845.37 616.25L1845.48 617.48L1845.59 619.01L1845.69 620.78L1845.80 622.72L1845.90 624.74L1846.00 626.61L1846.12 628.80L1846.22 630.68L1846.32 632.35L1846.43 633.78L1846.50 634.57L1846.53 634.89L1846.64 635.67L1846.74 636.09L1846.95 635.83L1847.05 635.18L1847.15 634.24L1847.26 633.05L1847.36 631.67L1847.46 630.15L1847.50 629.55L1847.56 628.60L1847.66 627.05L1847.77 625.59L1847.87 624.30L1847.97 623.22L1848.07 622.40L1848.17 621.90L1848.37 621.91L1848.47 622.43L1848.57 623.29L1848.67 624.44L1848.77 625.85L1848.87 627.49L1848.97 629.24L1849.00 629.88L1849.07 631.11L1849.16 633.00L1849.26 634.82L1849.36 636.53L1849.46 638.06L1849.50 638.66L1849.56 639.36L1849.65 640.41L1849.75 641.14L1849.85 641.55L1850.00 641.54L1850.14 640.88L1850.23 640.09L1850.33 639.08L1850.42 637.90L1850.50 636.89L1850.62 635.26L1850.71 633.94L1850.81 632.69L1850.90 631.59L1851.00 630.67L1851.09 629.98L1851.18 629.58L1851.37 629.65L1851.47 630.15L1851.56 630.93L1851.65 631.97L1851.75 633.26L1851.84 634.73L1851.93 636.31L1852.00 637.54L1852.03 638.00L1852.12 639.68L1852.21 641.34L1852.30 642.88L1852.39 644.27L1852.48 645.45L1852.58 646.41L1852.67 647.09L1852.76 647.49L1852.94 647.44L1853.03 647.00L1853.12 646.34L1853.21 645.47L1853.30 644.46L1853.39 643.34L1853.48 642.17L1853.57 641.01L1853.66 639.94L1853.75 638.97L1853.84 638.17L1853.93 637.58L1854.00 637.28L1854.19 637.32L1854.28 637.78L1854.37 638.49L1854.46 639.44L1854.50 639.97L1854.55 640.60L1854.63 641.92L1854.72 643.38L1854.81 644.90L1854.89 646.44L1854.98 647.94L1855.00 648.24L1855.07 649.36L1855.15 650.63L1855.24 651.74L1855.33 652.62L1855.41 653.27L1855.50 653.66L1855.67 653.67L1855.76 653.30L1855.84 652.71L1855.93 651.95L1856.00 651.18L1856.10 650.04L1856.18 648.99L1856.27 647.96L1856.35 646.98L1856.43 646.11L1856.50 645.54L1856.60 644.86L1856.69 644.55L1856.85 644.66L1856.94 645.09L1857.00 645.58L1857.10 646.66L1857.19 647.75L1857.27 649.00L1857.35 650.35L1857.43 651.79L1857.50 652.96L1857.60 654.65L1857.68 655.99L1857.76 657.21L1857.84 658.27L1857.93 659.12L1858.00 659.70L1858.09 660.14L1858.25 660.20L1858.33 659.89L1858.41 659.37L1858.49 658.68L1858.57 657.86L1858.65 656.95L1858.73 656.00L1858.81 655.05L1858.89 654.15L1858.97 653.35L1859.05 652.69L1859.13 652.21L1859.29 651.89L1859.45 652.49L1859.50 652.88L1859.61 653.98L1859.68 655.02L1859.76 656.20L1859.84 657.51L1859.92 658.86L1860.00 660.24L1860.08 661.59L1860.15 662.86L1860.23 664.02L1860.31 665.04L1860.39 665.85L1860.46 666.47L1860.54 666.85L1860.69 666.95L1860.85 666.21L1860.92 665.57L1861.00 664.82L1861.08 663.97L1861.15 663.08L1861.23 662.20L1861.30 661.38L1861.38 660.64L1861.46 660.02L1861.53 659.58L1861.68 659.29L1861.83 659.88L1861.91 660.49L1861.98 661.31L1862.06 662.29L1862.13 663.43L1862.20 664.65L1862.28 665.96L1862.35 667.27L1862.43 668.56L1862.50 669.74L1862.58 670.89L1862.65 671.84L1862.72 672.64L1862.80 673.22L1862.87 673.61L1863.00 673.75L1863.16 673.04L1863.23 672.46L1863.31 671.76L1863.38 670.97L1863.45 670.15L1863.50 669.60L1863.60 668.55L1863.67 667.86L1863.74 667.29L1863.81 666.88L1863.96 666.62L1864.10 667.19L1864.17 667.78L1864.24 668.56L1864.31 669.49L1864.38 670.57L1864.45 671.74L1864.50 672.52L1864.53 672.97L1864.60 674.21L1864.67 675.44L1864.74 676.59L1864.81 677.65L1864.88 678.57L1864.95 679.32L1865.00 679.76L1865.09 680.26L1865.23 680.39L1865.37 679.77L1865.44 679.23L1865.50 678.64L1865.58 677.85L1865.64 677.08L1865.71 676.32L1865.78 675.60L1865.85 674.96L1865.92 674.44L1865.99 674.07L1866.12 673.84L1866.26 674.40L1866.33 674.96L1866.40 675.70L1866.46 676.59L1866.50 677.10L1866.53 677.61L1866.60 678.73L1866.67 679.89L1866.74 681.08L1866.80 682.23L1866.87 683.35L1866.94 684.35L1867.00 685.16L1867.07 685.95L1867.14 686.50L1867.21 686.86L1867.34 687.02L1867.47 686.47L1867.54 685.98L1867.61 685.38L1867.67 684.72L1867.74 684.01L1867.80 683.31L1867.87 682.65L1867.93 682.07L1868.00 681.59L1868.07 681.25L1868.20 681.07L1868.33 681.61L1868.39 682.15L1868.46 682.85L1868.50 683.40L1868.52 683.70L1868.59 684.67L1868.65 685.73L1868.72 686.84L1868.78 687.95L1868.85 689.06L1868.91 690.10L1868.97 691.06L1869.00 691.40L1869.04 691.90L1869.10 692.59L1869.17 693.12L1869.23 693.47L1869.36 693.65L1869.49 693.17L1869.55 692.72L1869.61 692.19L1869.68 691.58L1869.74 690.93L1869.80 690.29L1869.87 689.68L1869.93 689.15L1869.99 688.71L1870.06 688.40L1870.18 688.25L1870.31 688.78L1870.37 689.30L1870.43 689.96L1870.49 690.78L1870.56 691.69L1870.62 692.69L1870.68 693.73L1870.74 694.80L1870.80 695.84L1870.86 696.82L1870.93 697.74L1870.99 698.54L1871.05 699.19L1871.11 699.71L1871.17 700.05L1871.30 700.25L1871.42 699.82L1871.48 699.42L1871.54 698.92L1871.60 698.37L1871.66 697.78L1871.72 697.18L1871.78 696.63L1871.84 696.13L1871.90 695.74L1872.00 695.36L1872.14 695.51L1872.20 695.84L1872.26 696.34L1872.32 696.97L1872.38 697.74L1872.44 698.60L1872.50 699.52L1872.56 700.55L1872.62 701.55L1872.68 702.54L1872.74 703.48L1872.80 704.34L1872.86 705.10L1872.92 705.73L1872.98 706.23L1873.04 706.56L1873.21 706.65L1873.33 706.03L1873.39 705.57L1873.45 705.06L1873.50 704.55L1873.56 703.96L1873.62 703.45L1873.68 703.00L1873.74 702.63L1873.85 702.25L1874.00 702.60L1874.08 703.23L1874.14 703.84L1874.20 704.56L1874.26 705.39L1874.31 706.28L1874.37 707.22L1874.43 708.19L1874.49 709.12L1874.54 710.02L1874.60 710.84L1874.66 711.56L1874.71 712.17L1874.77 712.64L1874.83 712.97L1875.00 713.08L1875.11 712.51L1875.17 712.09L1875.22 711.62L1875.28 711.11L1875.34 710.60L1875.39 710.12L1875.45 709.70L1875.50 709.38L1875.61 709.03L1875.78 709.53L1875.84 709.99L1875.89 710.56L1875.95 711.26L1876.00 712.00L1876.06 712.90L1876.11 713.79L1876.17 714.71L1876.22 715.61L1876.28 716.46L1876.33 717.26L1876.39 717.96L1876.44 718.55L1876.50 719.01L1876.55 719.33L1876.72 719.48L1876.83 718.97L1876.88 718.59L1876.93 718.15L1876.99 717.68L1877.04 717.21L1877.10 716.77L1877.15 716.38L1877.20 716.07L1877.31 715.77L1877.47 716.27L1877.53 716.71L1877.58 717.27L1877.63 717.94L1877.69 718.69L1877.74 719.51L1877.79 720.37L1877.85 721.26L1877.90 722.12L1877.95 722.95L1878.00 723.64L1878.06 724.38L1878.11 724.95L1878.16 725.40L1878.22 725.72L1878.37 725.89L1878.48 725.43L1878.53 725.08L1878.58 724.66L1878.64 724.23L1878.69 723.79L1878.74 723.38L1878.79 723.02L1878.90 722.53L1879.05 722.65L1879.16 723.37L1879.21 723.90L1879.26 724.55L1879.31 725.27L1879.36 726.07L1879.41 726.89L1879.46 727.74L1879.50 728.31L1879.57 729.36L1879.62 730.09L1879.67 730.73L1879.72 731.28L1879.77 731.72L1879.82 732.04L1879.97 732.23L1880.08 731.80L1880.13 731.47L1880.18 731.08L1880.23 730.68L1880.28 730.26L1880.33 729.88L1880.38 729.54L1880.48 729.08L1880.63 729.21L1880.73 729.90L1880.78 730.41L1880.83 731.03L1880.88 731.73L1880.93 732.49L1880.98 733.27L1881.00 733.61L1881.03 734.08L1881.08 734.88L1881.13 735.64L1881.18 736.35L1881.23 736.97L1881.28 737.50L1881.33 737.92L1881.38 738.22L1881.50 738.46L1881.62 738.02L1881.67 737.71L1881.72 737.35L1881.77 736.96L1881.82 736.58L1881.87 736.21L1881.91 735.89L1882.00 735.50L1882.16 735.59L1882.25 736.26L1882.30 736.75L1882.35 737.33L1882.40 737.99L1882.45 738.73L1882.49 739.49L1882.54 740.26L1882.59 741.02L1882.64 741.75L1882.69 742.42L1882.73 743.02L1882.78 743.52L1882.83 743.93L1882.93 744.40L1883.07 744.28L1883.16 743.76L1883.21 743.41L1883.26 743.05L1883.31 742.69L1883.35 742.34L1883.40 742.03L1883.49 741.63L1883.63 741.76L1883.73 742.39L1883.78 742.85L1883.82 743.42L1883.87 744.05L1883.92 744.75L1883.96 745.46L1884.00 746.06L1884.06 746.92L1884.10 747.62L1884.15 748.25L1884.19 748.83L1884.24 749.31L1884.29 749.70L1884.38 750.16L1884.52 750.05L1884.61 749.56L1884.66 749.24L1884.70 748.89L1884.75 748.55L1884.79 748.22L1884.88 747.71L1885.02 747.54L1885.11 747.93L1885.16 748.27L1885.20 748.73L1885.25 749.25L1885.29 749.85L1885.34 750.52L1885.38 751.20L1885.43 751.89L1885.47 752.58L1885.50 752.95L1885.57 753.85L1885.61 754.40L1885.65 754.86L1885.70 755.24L1885.79 755.68L1885.92 755.60L1886.00 755.24L1886.06 754.86L1886.10 754.54L1886.15 754.22L1886.24 753.66L1886.33 753.32L1886.46 753.46L1886.55 754.03L1886.59 754.47L1886.63 754.98L1886.68 755.56L1886.72 756.18L1886.77 756.82L1886.81 757.49L1886.85 758.15L1886.90 758.79L1886.94 759.37L1886.98 759.89L1887.03 760.34L1887.07 760.70L1887.16 761.13L1887.29 761.08L1887.38 760.68L1887.46 760.12L1887.55 759.55L1887.63 759.13L1887.76 759.02L1887.85 759.39L1887.89 759.72L1887.93 760.12L1887.98 760.61L1888.02 761.15L1888.06 761.75L1888.11 762.36L1888.15 763.00L1888.19 763.62L1888.23 764.22L1888.28 764.77L1888.32 765.27L1888.36 765.70L1888.40 766.05L1888.49 766.46L1888.62 766.44L1888.70 766.08L1888.78 765.57L1888.87 765.06L1888.95 764.67L1889.08 764.58L1889.16 764.94L1889.20 765.26L1889.24 765.64L1889.29 766.10L1889.33 766.61L1889.37 767.17L1889.41 767.75L1889.45 768.36L1889.49 768.94L1889.53 769.52L1889.58 770.04L1889.62 770.50L1889.66 770.91L1889.70 771.24L1889.78 771.65L1889.90 771.65L1889.99 771.32L1890.07 770.86L1890.15 770.39L1890.23 770.04L1890.35 769.97L1890.43 770.32L1890.50 770.82L1890.56 771.40L1890.60 771.88L1890.64 772.42L1890.68 772.96L1890.72 773.53L1890.76 774.08L1890.80 774.61L1890.84 775.10L1890.88 775.56L1890.92 775.94L1890.96 776.25L1891.04 776.63L1891.16 776.65L1891.28 776.15L1891.36 775.72L1891.44 775.33L1891.60 775.14L1891.67 775.46L1891.75 776.08L1891.79 776.48L1891.83 776.95L1891.87 777.43L1891.91 777.94L1891.95 778.48L1891.99 779.00L1892.03 779.49L1892.07 779.95L1892.11 780.37L1892.15 780.74L1892.22 781.25L1892.38 781.42L1892.50 780.98L1892.58 780.57L1892.65 780.22L1892.81 780.05L1892.88 780.36L1892.96 780.94L1893.00 781.32L1893.04 781.74L1893.08 782.20L1893.11 782.69L1893.15 783.17L1893.19 783.65L1893.23 784.12L1893.27 784.56L1893.31 784.95L1893.34 785.28L1893.42 785.77L1893.57 785.94L1893.68 785.54L1893.76 785.17L1893.84 784.84L1893.99 784.69L1894.10 785.22L1894.17 785.88L1894.21 786.27L1894.25 786.69L1894.29 787.14L1894.32 787.60L1894.36 788.04L1894.40 788.49L1894.43 788.89L1894.47 789.25L1894.51 789.56L1894.58 790.02L1894.73 790.19L1894.84 789.81L1894.92 789.48L1894.99 789.17L1895.14 789.04L1895.25 789.54L1895.32 790.14L1895.36 790.50L1895.39 790.91L1895.43 791.32L1895.47 791.76L1895.50 792.15L1895.54 792.58L1895.58 792.96L1895.61 793.30L1895.68 793.84L1895.76 794.16L1895.90 794.13L1896.00 793.77L1896.08 793.44L1896.22 793.17L1896.33 793.48L1896.40 793.96L1896.44 794.26L1896.47 794.61L1896.51 794.98L1896.55 795.38L1896.58 795.78L1896.62 796.17L1896.65 796.56L1896.69 796.91L1896.72 797.24L1896.79 797.75L1896.86 798.05L1897.00 798.06L1897.11 797.70L1897.22 797.33L1897.36 797.25L1897.46 797.70L1897.53 798.23L1897.57 798.55L1897.60 798.90L1897.63 799.27L1897.67 799.65L1897.70 800.01L1897.74 800.37L1897.77 800.70L1897.84 801.26L1897.91 801.65L1898.05 801.83L1898.19 801.45L1898.29 801.12L1898.43 801.05L1898.53 801.46L1898.60 801.96L1898.67 802.58L1898.70 802.92L1898.73 803.26L1898.77 803.60L1898.80 803.93L1898.87 804.50L1898.94 804.95L1899.04 805.28L1899.17 805.14L1899.27 804.81L1899.41 804.51L1899.54 804.75L1899.61 805.13L1899.67 805.64L1899.71 805.94L1899.74 806.24L1899.77 806.55L1899.81 806.86L1899.87 807.44L1899.94 807.91L1900.01 808.23L1900.14 808.38L1900.27 808.05L1900.40 807.69L1900.53 807.75L1900.63 808.19L1900.69 808.65L1900.76 809.19L1900.82 809.75L1900.89 810.27L1900.95 810.70L1901.05 811.07L1901.18 811.05L1901.31 810.69L1901.44 810.41L1901.56 810.60L1901.63 810.91L1901.69 811.33L1901.76 811.83L1901.82 812.34L1901.88 812.82L1901.95 813.21L1902.04 813.56L1902.17 813.57L1902.29 813.25L1902.42 813.02L1902.54 813.20L1902.64 813.67L1902.70 814.09L1902.76 814.56L1902.83 815.03L1902.89 815.43L1902.95 815.74L1903.07 815.98L1903.20 815.82L1903.32 815.53L1903.44 815.49L1903.57 815.90L1903.63 816.25L1903.69 816.66L1903.75 817.08L1903.81 817.48L1903.87 817.80L1903.99 818.14L1904.11 818.07L1904.23 817.81L1904.35 817.70L1904.47 817.96L1904.56 818.40L1904.62 818.76L1904.68 819.14L1904.74 819.49L1904.83 819.89L1904.98 820.08L1905.13 819.84L1905.28 819.67L1905.42 820.00L1905.50 820.37L1905.57 820.76L1905.63 821.08L1905.72 821.48L1905.86 821.74L1906.00 821.58L1906.12 821.38L1906.27 821.46L1906.38 821.85L1906.47 822.27L1906.56 822.66L1906.67 823.01L1906.81 823.04L1906.96 822.80L1907.10 822.71L1907.24 823.01L1907.33 823.34L1907.41 823.69L1907.50 824.00L1907.63 824.17L1907.77 824.03L1907.91 823.88L1908.05 824.02L1908.16 824.37L1908.25 824.68L1908.36 825.03L1908.49 825.21L1908.63 825.12L1908.77 825.01L1908.91 825.15L1909.04 825.53L1909.15 825.87L1909.29 826.14L1909.42 826.15L1909.56 826.06L1909.69 826.09L1909.83 826.34L1909.96 826.70L1910.09 826.95L1910.22 827.01L1910.36 826.95L1910.49 826.96L1910.62 827.13L1910.75 827.40L1910.88 827.62L1911.01 827.69L1911.14 827.67L1911.27 827.67L1911.40 827.77L1911.53 827.95L1911.66 828.11L1911.79 828.18L1911.92 828.18L1912.04 828.18L1912.17 828.24L1912.30 828.33L1912.42 828.41L1912.55 828.45L1912.68 828.46L1912.80 828.47L1912.93 828.49L1913.50 828.54L1914.00 828.58L1914.50 828.61L1915.00 828.65L1915.50 828.67L1916.00 828.70L1916.50 828.72L1917.00 828.74L1917.50 828.76L1918.00 828.77L1918.50 828.79L1919.00 828.79L1919.50 828.80L1920.00 828.80L1920.50 828.79L1921.00 828.75L1921.50 828.69L1922.00 828.61L1922.50 828.52L1923.00 828.41L1923.50 828.29L1924.00 828.17L1924.50 828.03L1925.00 827.90L1925.50 827.77L1926.00 827.63L1926.50 827.51L1927.00 827.39L1927.50 827.28L1928.00 827.19L1928.50 827.11L1929.00 827.05L1929.50 827.01L1930.00 827.00L1930.50 827.01L1931.00 827.03L1931.50 827.07L1932.00 827.12L1932.50 827.18L1933.00 827.25L1933.50 827.32L1934.00 827.40L1934.50 827.49L1935.00 827.57L1935.50 827.66L1936.00 827.75L1936.50 827.83L1937.00 827.91L1937.50 827.98L1938.00 828.05L1938.50 828.10L1939.00 828.15L1939.50 828.18L1940.00 828.20L1940.50 828.21L1941.00 828.22L1941.50 828.23L1942.00 828.24L1942.50 828.25L1943.00 828.26L1943.50 828.27L1944.00 828.27L1944.50 828.28L1945.00 828.29L1945.50 828.30L1946.00 828.30L1946.50 828.31L1947.00 828.32L1947.50 828.33L1948.00 828.33L1948.50 828.34L1949.00 828.34L1949.50 828.35L1950.00 828.35L1950.50 828.36L1951.00 828.36L1951.50 828.37L1952.00 828.37L1952.50 828.37L1953.00 828.38L1953.50 828.38L1954.00 828.38L1954.50 828.39L1955.00 828.39L1955.50 828.39L1956.00 828.39L1956.50 828.40L1957.00 828.40L1957.50 828.40L1958.00 828.40L1958.50 828.40L1959.00 828.40L1959.50 828.40" fill="none" stroke="#0083c9" stroke-width="4.3" stroke-linejoin="round" stroke-linecap="round"/><path d="M1530.00 527.50L1530.50 527.50L1531.00 527.50L1531.50 527.50L1532.00 527.51L1532.50 527.51L1533.00 527.51L1533.50 527.51L1534.00 527.51L1534.50 527.52L1535.00 527.52L1535.50 527.52L1536.00 527.52L1536.50 527.52L1537.00 527.53L1537.50 527.53L1538.00 527.53L1538.50 527.53L1539.00 527.54L1539.50 527.54L1540.00 527.54L1540.50 527.54L1541.00 527.55L1541.50 527.55L1542.00 527.55L1542.50 527.56L1543.00 527.56L1543.50 527.56L1544.00 527.56L1544.50 527.57L1545.00 527.57L1545.50 527.58L1546.00 527.58L1546.50 527.58L1547.00 527.59L1547.50 527.59L1548.00 527.59L1548.50 527.60L1549.00 527.60L1549.50 527.61L1550.00 527.61L1550.50 527.61L1551.00 527.62L1551.50 527.62L1552.00 527.63L1552.50 527.63L1553.00 527.64L1553.50 527.64L1554.00 527.65L1554.50 527.65L1555.00 527.66L1555.50 527.66L1556.00 527.67L1556.50 527.68L1557.00 527.68L1557.50 527.69L1558.00 527.69L1558.50 527.70L1559.00 527.71L1559.50 527.71L1560.00 527.72L1560.50 527.73L1561.00 527.73L1561.50 527.74L1562.00 527.75L1562.50 527.76L1563.00 527.76L1563.50 527.77L1564.00 527.78L1564.50 527.79L1565.00 527.80L1565.50 527.80L1566.00 527.81L1566.50 527.82L1567.00 527.83L1567.50 527.84L1568.00 527.85L1568.50 527.86L1569.00 527.87L1569.50 527.88L1570.00 527.89L1570.50 527.90L1571.00 527.91L1571.50 527.92L1572.00 527.93L1572.50 527.94L1573.00 527.95L1573.50 527.96L1574.00 527.98L1574.50 527.99L1575.00 528.00L1575.50 528.02L1576.00 528.04L1576.50 528.08L1577.00 528.12L1577.50 528.17L1578.00 528.23L1578.50 528.30L1579.00 528.37L1579.50 528.45L1580.00 528.54L1580.50 528.63L1581.00 528.73L1581.14 528.76L1581.50 528.83L1582.00 528.94L1582.50 529.06L1583.00 529.18L1583.50 529.31L1584.00 529.43L1584.50 529.57L1585.00 529.70L1585.50 529.84L1586.00 529.99L1586.50 530.13L1587.00 530.28L1587.50 530.43L1588.00 530.58L1588.50 530.74L1589.00 530.89L1589.50 531.05L1590.00 531.21L1590.50 531.36L1591.00 531.52L1591.50 531.68L1592.00 531.83L1592.50 531.99L1593.00 532.15L1593.50 532.30L1594.00 532.45L1594.50 532.60L1595.00 532.75L1595.50 532.90L1596.00 533.04L1596.50 533.18L1597.00 533.32L1597.50 533.45L1598.00 533.58L1598.50 533.71L1599.00 533.83L1599.50 533.96L1600.00 534.09L1600.50 534.22L1601.00 534.34L1601.50 534.47L1602.00 534.60L1602.50 534.73L1603.00 534.85L1603.50 534.98L1604.00 535.11L1604.50 535.24L1604.92 535.36L1605.50 535.51L1606.00 535.65L1606.50 535.78L1607.00 535.92L1607.50 536.06L1608.00 536.20L1608.50 536.35L1609.00 536.49L1609.50 536.64L1610.00 536.80L1610.50 536.95L1611.00 537.11L1611.50 537.27L1612.00 537.43L1612.50 537.60L1613.00 537.77L1613.50 537.95L1614.00 538.12L1614.50 538.30L1615.00 538.48L1615.50 538.67L1616.00 538.86L1616.50 539.05L1617.00 539.24L1617.50 539.44L1618.00 539.64L1618.50 539.84L1619.00 540.05L1619.50 540.26L1620.00 540.47L1620.50 540.68L1621.00 540.90L1621.50 541.12L1622.00 541.34L1622.50 541.57L1623.00 541.79L1623.50 542.02L1624.00 542.25L1624.50 542.49L1625.00 542.73L1625.50 542.96L1626.00 543.21L1626.50 543.45L1627.00 543.70L1627.50 543.95L1628.00 544.20L1628.50 544.46L1629.00 544.72L1629.50 544.99L1630.00 545.25L1630.50 545.53L1631.00 545.80L1631.50 546.08L1632.00 546.36L1632.30 546.53L1632.50 546.65L1633.00 546.94L1633.50 547.23L1634.00 547.52L1634.50 547.82L1635.00 548.12L1635.50 548.43L1636.00 548.74L1636.50 549.05L1637.00 549.36L1637.50 549.68L1638.00 550.00L1638.50 550.33L1639.00 550.66L1639.50 550.99L1640.00 551.32L1640.50 551.66L1641.00 552.00L1641.50 552.34L1641.64 552.44L1642.00 552.69L1642.50 553.05L1643.00 553.41L1643.50 553.77L1644.00 554.14L1644.50 554.51L1645.00 554.88L1645.50 555.26L1646.00 555.65L1646.50 556.04L1647.00 556.43L1647.50 556.82L1648.00 557.22L1648.50 557.62L1649.00 558.03L1649.42 558.37L1650.00 558.84L1650.50 559.25L1651.00 559.67L1651.50 560.09L1652.00 560.51L1652.50 560.93L1653.00 561.35L1653.50 561.77L1654.00 562.20L1654.50 562.63L1655.00 563.06L1655.50 563.49L1656.00 563.92L1656.50 564.36L1657.00 564.80L1657.50 565.25L1658.00 565.70L1658.50 566.15L1659.00 566.61L1659.50 567.07L1660.00 567.53L1660.50 568.00L1661.00 568.46L1661.50 568.93L1661.92 569.32L1662.50 569.86L1663.00 570.33L1663.50 570.79L1664.00 571.25L1664.50 571.71L1665.00 572.17L1665.50 572.62L1666.00 573.07L1666.50 573.52L1667.00 573.96L1667.50 574.40L1668.00 574.83L1668.50 575.25L1669.00 575.67L1669.50 576.08L1670.00 576.48L1670.50 576.88L1671.00 577.28L1671.50 577.67L1671.76 577.88L1672.00 578.06L1672.50 578.45L1673.00 578.84L1673.50 579.22L1674.00 579.60L1674.50 579.97L1675.00 580.33L1675.50 580.69L1676.00 581.04L1676.50 581.38L1677.00 581.71L1677.50 582.03L1678.00 582.34L1678.50 582.64L1679.00 582.93L1679.50 583.20L1679.88 583.40L1680.50 583.70L1681.00 583.93L1681.50 584.15L1682.00 584.34L1682.50 584.52L1683.00 584.68L1683.47 584.81L1684.00 584.94L1684.50 585.04L1685.00 585.12L1685.50 585.18L1686.00 585.24L1686.50 585.28L1686.79 585.30L1687.00 585.31L1687.50 585.32L1688.00 585.33L1688.50 585.32L1689.00 585.30L1689.50 585.27L1689.90 585.23L1690.50 585.16L1691.00 585.09L1691.50 585.01L1692.00 584.92L1692.50 584.81L1692.81 584.74L1693.00 584.69L1693.50 584.55L1694.00 584.40L1694.50 584.24L1695.00 584.06L1695.50 583.86L1696.00 583.65L1696.50 583.43L1697.00 583.19L1697.50 582.93L1698.00 582.67L1698.14 582.59L1698.50 582.39L1699.00 582.09L1699.50 581.79L1700.00 581.47L1700.50 581.13L1701.00 580.79L1701.50 580.43L1702.00 580.06L1702.50 579.68L1702.92 579.36L1703.50 578.89L1704.00 578.49L1704.50 578.07L1705.00 577.65L1705.14 577.52L1705.50 577.21L1706.00 576.78L1706.50 576.34L1707.00 575.89L1707.26 575.66L1707.50 575.44L1708.00 574.99L1708.50 574.54L1709.00 574.08L1709.28 573.83L1709.50 573.63L1710.00 573.18L1710.50 572.74L1711.00 572.30L1711.22 572.10L1711.50 571.87L1712.00 571.44L1712.50 571.03L1713.00 570.62L1713.50 570.23L1714.00 569.85L1714.50 569.49L1714.88 569.23L1715.50 568.82L1716.00 568.51L1716.50 568.23L1717.00 567.97L1717.50 567.73L1718.00 567.53L1718.27 567.43L1718.50 567.35L1719.00 567.20L1719.50 567.08L1719.88 567.02L1720.00 567.00L1720.50 566.96L1721.00 566.99L1721.43 567.06L1722.00 567.22L1722.50 567.43L1722.93 567.67L1723.50 568.06L1724.00 568.47L1724.39 568.84L1725.00 569.50L1725.50 570.11L1725.80 570.51L1726.00 570.79L1726.50 571.52L1727.00 572.32L1727.17 572.59L1727.50 573.16L1728.00 574.06L1728.50 575.01L1729.00 576.01L1729.50 577.04L1729.79 577.66L1730.00 578.11L1730.50 579.21L1731.00 580.34L1731.50 581.49L1732.00 582.65L1732.28 583.30L1732.50 583.83L1733.00 585.00L1733.47 586.10L1734.00 587.33L1734.50 588.47L1734.64 588.78L1735.00 589.59L1735.50 590.67L1735.77 591.25L1736.00 591.72L1736.50 592.72L1736.88 593.45L1737.50 594.56L1737.96 595.32L1738.50 596.13L1739.00 596.81L1739.50 597.40L1740.00 597.91L1740.50 598.33L1741.00 598.65L1741.50 598.87L1742.00 599.00L1742.50 599.03L1743.00 598.96L1743.50 598.80L1743.98 598.56L1744.50 598.22L1744.91 597.89L1745.50 597.35L1745.83 597.01L1746.00 596.82L1746.50 596.24L1746.72 595.97L1747.00 595.63L1747.50 594.99L1748.00 594.34L1748.46 593.73L1749.00 593.05L1749.31 592.66L1749.50 592.43L1750.00 591.86L1750.14 591.71L1750.50 591.34L1750.96 590.92L1751.50 590.52L1751.76 590.36L1752.00 590.24L1752.50 590.06L1753.00 590.00L1753.33 590.03L1753.50 590.07L1754.00 590.28L1754.50 590.64L1754.84 590.98L1755.00 591.16L1755.50 591.82L1756.00 592.62L1756.31 593.20L1756.50 593.57L1757.00 594.66L1757.50 595.87L1757.73 596.47L1758.00 597.19L1758.43 598.41L1759.00 600.11L1759.11 600.46L1759.50 601.66L1759.79 602.58L1760.00 603.25L1760.45 604.71L1761.00 606.44L1761.11 606.78L1761.50 607.98L1761.76 608.74L1762.00 609.45L1762.39 610.54L1763.00 612.08L1763.50 613.19L1763.65 613.48L1764.00 614.13L1764.26 614.55L1764.50 614.90L1764.86 615.33L1765.00 615.47L1765.46 615.81L1766.00 616.00L1766.50 615.97L1766.63 615.93L1767.00 615.76L1767.21 615.63L1767.50 615.40L1767.78 615.14L1768.00 614.90L1768.34 614.51L1768.50 614.30L1768.89 613.79L1769.44 613.04L1769.98 612.32L1770.50 611.69L1771.00 611.19L1771.50 610.84L1772.00 610.67L1772.50 610.71L1773.00 611.00L1773.50 611.54L1774.00 612.35L1774.50 613.40L1775.00 614.69L1775.50 616.19L1776.00 617.85L1776.50 619.63L1776.97 621.35L1777.43 623.06L1777.89 624.71L1778.00 625.11L1778.34 626.26L1778.50 626.78L1778.79 627.67L1779.00 628.29L1779.23 628.91L1779.50 629.58L1779.67 629.96L1780.00 630.62L1780.50 631.39L1780.96 631.84L1781.39 632.04L1781.81 632.05L1782.00 632.00L1782.22 631.90L1782.50 631.71L1782.63 631.60L1783.00 631.24L1783.45 630.73L1783.85 630.25L1784.00 630.07L1784.25 629.79L1784.50 629.52L1784.64 629.39L1785.00 629.11L1785.42 628.93L1785.81 628.93L1786.00 629.00L1786.19 629.12L1786.50 629.41L1786.94 630.08L1787.32 630.85L1787.50 631.30L1787.68 631.80L1788.00 632.75L1788.42 634.17L1788.50 634.48L1788.78 635.53L1789.00 636.42L1789.13 636.97L1789.49 638.44L1789.84 639.92L1790.00 640.57L1790.19 641.36L1790.50 642.57L1790.89 644.00L1791.00 644.39L1791.23 645.14L1791.50 645.94L1791.91 646.95L1792.24 647.59L1792.50 647.97L1792.90 648.36L1793.23 648.50L1793.50 648.50L1793.88 648.37L1794.20 648.16L1794.50 647.90L1794.84 647.59L1795.00 647.43L1795.15 647.29L1795.47 647.04L1795.78 646.86L1796.00 646.79L1796.39 646.82L1796.70 647.00L1797.00 647.32L1797.30 647.80L1797.50 648.20L1797.89 649.19L1798.00 649.50L1798.19 650.09L1798.48 651.09L1798.77 652.18L1799.00 653.07L1799.35 654.50L1799.50 655.12L1799.63 655.67L1799.92 656.81L1800.00 657.13L1800.20 657.89L1800.48 658.89L1800.76 659.77L1801.00 660.43L1801.31 661.15L1801.50 661.49L1801.86 661.96L1802.00 662.08L1802.13 662.15L1802.40 662.21L1802.67 662.16L1802.93 662.01L1803.20 661.79L1803.46 661.53L1803.72 661.25L1803.98 660.99L1804.24 660.76L1804.50 660.60L1804.76 660.52L1805.00 660.54L1805.26 660.69L1805.50 660.95L1805.77 661.38L1806.00 661.88L1806.26 662.58L1806.50 663.32L1806.75 664.22L1807.00 665.17L1807.24 666.17L1807.48 667.19L1807.72 668.22L1807.96 669.23L1808.20 670.19L1808.43 671.07L1808.67 671.87L1808.90 672.57L1809.14 673.16L1809.37 673.63L1809.50 673.83L1809.83 674.19L1810.00 674.29L1810.29 674.33L1810.50 674.27L1810.74 674.15L1810.96 673.99L1811.18 673.82L1811.40 673.66L1811.62 673.53L1811.85 673.46L1812.00 673.45L1812.28 673.54L1812.50 673.73L1812.71 674.03L1812.93 674.43L1813.14 674.96L1813.35 675.58L1813.50 676.06L1813.78 677.10L1813.99 677.97L1814.20 678.87L1814.40 679.81L1814.50 680.24L1814.61 680.74L1814.82 681.66L1815.00 682.44L1815.23 683.34L1815.43 684.08L1815.63 684.73L1815.83 685.28L1816.00 685.66L1816.23 686.07L1816.43 686.31L1816.63 686.46L1816.83 686.52L1817.00 686.52L1817.22 686.46L1817.42 686.38L1817.61 686.27L1817.80 686.18L1818.00 686.11L1818.19 686.09L1818.38 686.13L1818.50 686.20L1818.76 686.45L1818.95 686.75L1819.13 687.13L1819.32 687.62L1819.50 688.17L1819.69 688.85L1819.88 689.57L1820.00 690.08L1820.25 691.17L1820.43 692.00L1820.50 692.34L1820.61 692.84L1820.79 693.66L1820.97 694.45L1821.15 695.19L1821.33 695.86L1821.50 696.43L1821.69 696.97L1821.86 697.39L1822.00 697.65L1822.22 697.96L1822.39 698.13L1822.57 698.22L1822.74 698.25L1822.91 698.24L1823.09 698.20L1823.26 698.14L1823.43 698.09L1823.60 698.07L1823.77 698.08L1823.94 698.15L1824.11 698.28L1824.28 698.48L1824.44 698.76L1824.61 699.13L1824.78 699.57L1824.94 700.10L1825.11 700.69L1825.27 701.35L1825.44 702.05L1825.60 702.79L1825.76 703.54L1825.92 704.30L1826.00 704.65L1826.09 705.04L1826.25 705.75L1826.41 706.43L1826.50 706.79L1826.73 707.59L1826.89 708.07L1827.05 708.47L1827.20 708.79L1827.36 709.04L1827.50 709.20L1827.67 709.34L1827.83 709.40L1827.98 709.43L1828.14 709.43L1828.29 709.42L1828.45 709.42L1828.60 709.44L1828.75 709.49L1828.90 709.58L1829.06 709.74L1829.21 709.95L1829.36 710.24L1829.50 710.57L1829.66 711.02L1829.81 711.52L1829.96 712.08L1830.11 712.68L1830.25 713.33L1830.40 714.01L1830.50 714.48L1830.69 715.40L1830.84 716.09L1830.99 716.75L1831.13 717.37L1831.28 717.94L1831.42 718.46L1831.56 718.91L1831.71 719.30L1831.85 719.63L1831.99 719.88L1832.13 720.08L1832.28 720.22L1832.42 720.32L1832.56 720.38L1832.70 720.42L1832.84 720.45L1832.98 720.49L1833.12 720.55L1833.26 720.63L1833.39 720.75L1833.53 720.92L1833.67 721.15L1833.81 721.43L1833.94 721.78L1834.08 722.19L1834.21 722.65L1834.35 723.17L1834.48 723.73L1834.62 724.33L1834.75 724.95L1834.89 725.59L1835.00 726.13L1835.15 726.86L1835.29 727.47L1835.42 728.05L1835.50 728.39L1835.68 729.08L1835.81 729.52L1835.94 729.91L1836.07 730.24L1836.20 730.51L1836.33 730.73L1836.46 730.91L1836.59 731.05L1836.72 731.16L1836.85 731.25L1836.98 731.34L1837.11 731.43L1837.23 731.54L1837.36 731.67L1837.49 731.83L1837.61 732.04L1837.74 732.29L1837.86 732.60L1837.99 732.96L1838.11 733.38L1838.24 733.84L1838.36 734.34L1838.49 734.89L1838.61 735.47L1838.73 736.07L1838.86 736.69L1838.98 737.30L1839.10 737.91L1839.22 738.49L1839.34 739.05L1839.47 739.57L1839.59 740.05L1839.71 740.48L1839.83 740.86L1839.95 741.19L1840.19 741.71L1840.42 742.06L1840.66 742.31L1840.90 742.52L1841.13 742.78L1841.37 743.15L1841.50 743.44L1841.71 744.00L1841.83 744.38L1841.94 744.80L1842.06 745.25L1842.17 745.74L1842.29 746.25L1842.40 746.78L1842.50 747.25L1842.63 747.86L1842.74 748.39L1842.85 748.90L1842.96 749.38L1843.08 749.83L1843.19 750.25L1843.30 750.62L1843.41 750.95L1843.63 751.46L1843.86 751.82L1844.00 751.98L1844.18 752.13L1844.40 752.28L1844.62 752.46L1844.84 752.73L1845.00 753.03L1845.16 753.40L1845.37 754.04L1845.48 754.41L1845.59 754.81L1845.69 755.23L1845.80 755.67L1845.90 756.12L1846.00 756.53L1846.12 757.01L1846.22 757.44L1846.32 757.84L1846.43 758.22L1846.53 758.56L1846.64 758.87L1846.84 759.36L1847.00 759.63L1847.15 759.83L1847.36 760.00L1847.50 760.08L1847.66 760.16L1847.87 760.30L1848.00 760.43L1848.17 760.68L1848.37 761.09L1848.50 761.44L1848.67 761.97L1848.77 762.31L1848.87 762.69L1848.97 763.07L1849.07 763.46L1849.16 763.85L1849.26 764.24L1849.36 764.61L1849.46 764.97L1849.56 765.30L1849.65 765.60L1849.85 766.10L1850.00 766.40L1850.14 766.60L1850.33 766.78L1850.50 766.88L1850.71 766.98L1850.90 767.10L1851.09 767.29L1851.28 767.59L1851.47 768.01L1851.65 768.55L1851.75 768.86L1851.84 769.19L1851.93 769.52L1852.03 769.87L1852.12 770.22L1852.21 770.56L1852.30 770.89L1852.39 771.21L1852.50 771.54L1852.67 772.00L1852.85 772.39L1853.00 772.61L1853.12 772.74L1853.30 772.87L1853.48 772.95L1853.66 773.03L1853.84 773.16L1854.00 773.35L1854.19 773.69L1854.37 774.12L1854.50 774.51L1854.63 774.94L1854.72 775.25L1854.81 775.55L1854.89 775.86L1854.98 776.17L1855.15 776.75L1855.33 777.25L1855.50 777.65L1855.67 777.93L1855.84 778.12L1856.00 778.23L1856.18 778.30L1856.35 778.38L1856.50 778.47L1856.69 778.68L1856.85 778.96L1857.00 779.30L1857.19 779.82L1857.35 780.34L1857.50 780.84L1857.60 781.17L1857.76 781.68L1857.93 782.13L1858.09 782.48L1858.25 782.74L1858.41 782.91L1858.57 783.01L1858.73 783.08L1858.89 783.14L1859.05 783.25L1859.21 783.42L1859.37 783.67L1859.50 783.95L1859.68 784.44L1859.84 784.91L1860.00 785.41L1860.15 785.89L1860.31 786.33L1860.46 786.69L1860.62 786.97L1860.77 787.16L1860.92 787.28L1861.08 787.36L1861.23 787.42L1861.38 787.51L1861.53 787.63L1861.68 787.83L1861.83 788.11L1861.98 788.46L1862.13 788.86L1862.28 789.31L1862.43 789.75L1862.58 790.17L1862.72 790.53L1862.87 790.83L1863.00 791.03L1863.16 791.20L1863.31 791.30L1863.45 791.37L1863.60 791.44L1863.74 791.55L1863.88 791.70L1864.03 791.92L1864.17 792.21L1864.31 792.56L1864.45 792.95L1864.60 793.35L1864.74 793.75L1864.88 794.11L1865.00 794.38L1865.16 794.66L1865.30 794.84L1865.44 794.96L1865.58 795.05L1865.71 795.13L1865.85 795.23L1865.99 795.36L1866.12 795.55L1866.26 795.79L1866.40 796.08L1866.53 796.43L1866.67 796.79L1866.80 797.16L1866.94 797.51L1867.07 797.82L1867.21 798.08L1867.34 798.28L1867.47 798.43L1867.61 798.55L1867.74 798.64L1867.87 798.74L1868.00 798.85L1868.13 799.01L1868.26 799.21L1868.39 799.46L1868.52 799.76L1868.65 800.08L1868.78 800.42L1868.91 800.74L1869.04 801.05L1869.17 801.31L1869.30 801.52L1869.42 801.69L1869.55 801.82L1869.68 801.93L1869.80 802.03L1869.93 802.14L1870.06 802.27L1870.18 802.44L1870.31 802.66L1870.43 802.90L1870.56 803.18L1870.68 803.48L1870.80 803.77L1870.93 804.05L1871.05 804.31L1871.17 804.52L1871.30 804.70L1871.42 804.85L1871.54 804.96L1871.66 805.07L1871.78 805.17L1871.90 805.29L1872.02 805.44L1872.14 805.61L1872.32 805.94L1872.50 806.30L1872.62 806.57L1872.80 806.94L1872.98 807.26L1873.15 807.52L1873.33 807.71L1873.50 807.87L1873.62 807.98L1873.80 808.16L1873.97 808.39L1874.14 808.68L1874.31 809.00L1874.49 809.33L1874.66 809.63L1874.83 809.89L1875.00 810.11L1875.17 810.28L1875.34 810.44L1875.50 810.61L1875.67 810.82L1875.84 811.06L1876.00 811.33L1876.17 811.63L1876.33 811.91L1876.50 812.16L1876.66 812.39L1876.83 812.58L1876.99 812.76L1877.15 812.95L1877.31 813.15L1877.47 813.37L1877.63 813.62L1877.79 813.87L1877.95 814.12L1878.11 814.36L1878.27 814.58L1878.43 814.78L1878.58 814.97L1878.74 815.16L1878.90 815.36L1879.05 815.57L1879.21 815.78L1879.36 816.00L1879.50 816.19L1879.67 816.41L1879.82 816.61L1879.97 816.80L1880.50 817.46L1881.00 818.08L1881.50 818.67L1882.00 819.23L1882.50 819.78L1883.00 820.29L1883.50 820.77L1884.00 821.22L1884.50 821.63L1885.00 822.00L1885.50 822.35L1886.00 822.69L1886.50 823.03L1887.00 823.35L1887.50 823.67L1888.00 823.98L1888.50 824.28L1889.00 824.57L1889.50 824.84L1890.00 825.11L1890.50 825.36L1891.00 825.60L1891.50 825.83L1892.00 826.04L1892.50 826.24L1893.00 826.43L1893.50 826.59L1894.00 826.75L1894.50 826.88L1895.00 827.00L1895.50 827.11L1896.00 827.22L1896.50 827.32L1897.00 827.43L1897.50 827.53L1898.00 827.62L1898.50 827.72L1899.00 827.81L1899.50 827.89L1900.00 827.97L1900.50 828.05L1901.00 828.12L1901.50 828.18L1902.00 828.24L1902.50 828.28L1903.00 828.32L1903.50 828.36L1904.00 828.38L1904.50 828.40L1905.00 828.40L1905.50 828.40L1906.00 828.40L1906.50 828.40L1907.00 828.40L1907.50 828.40L1908.00 828.40L1908.50 828.40L1909.00 828.40L1909.50 828.40L1910.00 828.40L1910.50 828.40L1911.00 828.40L1911.50 828.40L1912.00 828.40L1912.50 828.40L1913.00 828.40L1913.50 828.40L1914.00 828.40L1914.50 828.40L1915.00 828.40L1915.50 828.40L1916.00 828.40L1916.50 828.40L1917.00 828.40L1917.50 828.40L1918.00 828.40L1918.50 828.40L1919.00 828.40L1919.50 828.40L1920.00 828.40L1920.50 828.40L1921.00 828.40L1921.50 828.40L1922.00 828.40L1922.50 828.40L1923.00 828.40L1923.50 828.40L1924.00 828.40L1924.50 828.40L1925.00 828.40L1925.50 828.40L1926.00 828.40L1926.50 828.40L1927.00 828.40L1927.50 828.40L1928.00 828.40L1928.50 828.40L1929.00 828.40L1929.50 828.40L1930.00 828.40L1930.50 828.40L1931.00 828.40L1931.50 828.40L1932.00 828.40L1932.50 828.40L1933.00 828.40L1933.50 828.40L1934.00 828.40L1934.50 828.40L1935.00 828.40L1935.50 828.40L1936.00 828.40L1936.50 828.40L1937.00 828.40L1937.50 828.40L1938.00 828.40L1938.50 828.40L1939.00 828.40L1939.50 828.40L1940.00 828.40L1940.50 828.40L1941.00 828.40L1941.50 828.40L1942.00 828.40L1942.50 828.40L1943.00 828.40L1943.50 828.40L1944.00 828.40L1944.50 828.40L1945.00 828.40L1945.50 828.40L1946.00 828.40L1946.50 828.40L1947.00 828.40L1947.50 828.40L1948.00 828.40L1948.50 828.40L1949.00 828.40L1949.50 828.40L1950.00 828.40L1950.50 828.40L1951.00 828.40L1951.50 828.40L1952.00 828.40L1952.50 828.40L1953.00 828.40L1953.50 828.40L1954.00 828.40L1954.50 828.40L1955.00 828.40L1955.50 828.40L1956.00 828.40L1956.50 828.40L1957.00 828.40L1957.50 828.40L1958.00 828.40L1958.50 828.40L1959.00 828.40L1959.50 828.40" fill="none" stroke="#fdaa7f" stroke-width="4.3" stroke-linejoin="round" stroke-linecap="round"/><path d="M1530.00 527.60L1530.50 527.60L1531.00 527.60L1531.50 527.60L1532.00 527.61L1532.50 527.61L1533.00 527.61L1533.50 527.61L1534.00 527.62L1534.50 527.62L1535.00 527.63L1535.50 527.63L1536.00 527.64L1536.50 527.64L1537.00 527.65L1537.50 527.66L1538.00 527.66L1538.50 527.67L1539.00 527.68L1539.50 527.69L1540.00 527.70L1540.50 527.71L1541.00 527.72L1541.50 527.73L1542.00 527.74L1542.50 527.75L1543.00 527.76L1543.50 527.77L1544.00 527.78L1544.50 527.79L1545.00 527.81L1545.50 527.82L1546.00 527.83L1546.50 527.85L1547.00 527.86L1547.50 527.88L1548.00 527.89L1548.50 527.91L1549.00 527.92L1549.50 527.94L1550.00 527.96L1550.50 527.97L1551.00 527.99L1551.50 528.01L1552.00 528.02L1552.50 528.04L1553.00 528.06L1553.50 528.08L1554.00 528.10L1554.50 528.12L1555.00 528.14L1555.50 528.16L1556.00 528.18L1556.50 528.20L1557.00 528.22L1557.50 528.24L1558.00 528.26L1558.50 528.28L1559.00 528.31L1559.50 528.33L1560.00 528.35L1560.50 528.37L1561.00 528.40L1561.50 528.42L1562.00 528.44L1562.50 528.47L1563.00 528.49L1563.50 528.52L1564.00 528.54L1564.50 528.57L1565.00 528.59L1565.50 528.62L1566.00 528.64L1566.50 528.67L1567.00 528.70L1567.50 528.72L1568.00 528.75L1568.50 528.78L1569.00 528.81L1569.50 528.84L1570.00 528.87L1570.50 528.91L1571.00 528.95L1571.50 528.99L1572.00 529.04L1572.50 529.09L1573.00 529.14L1573.50 529.19L1574.00 529.25L1574.50 529.31L1575.00 529.37L1575.50 529.44L1576.00 529.50L1576.50 529.57L1577.00 529.64L1577.50 529.70L1578.00 529.77L1578.50 529.85L1579.00 529.92L1579.50 529.99L1580.00 530.06L1580.50 530.14L1581.00 530.21L1581.14 530.23L1581.50 530.28L1582.00 530.36L1582.50 530.43L1583.00 530.50L1583.50 530.57L1584.00 530.65L1584.50 530.72L1585.00 530.80L1585.50 530.87L1586.00 530.95L1586.50 531.03L1587.00 531.11L1587.50 531.19L1588.00 531.28L1588.50 531.36L1589.00 531.45L1589.50 531.53L1590.00 531.62L1590.50 531.71L1591.00 531.80L1591.50 531.89L1592.00 531.98L1592.50 532.08L1593.00 532.17L1593.50 532.26L1594.00 532.36L1594.50 532.46L1595.00 532.55L1595.50 532.65L1596.00 532.75L1596.50 532.85L1597.00 532.96L1597.50 533.06L1598.00 533.16L1598.50 533.27L1599.00 533.37L1599.50 533.48L1600.00 533.59L1600.50 533.70L1601.00 533.81L1601.50 533.93L1602.00 534.04L1602.50 534.16L1603.00 534.28L1603.50 534.40L1604.00 534.52L1604.50 534.64L1604.92 534.74L1605.50 534.89L1606.00 535.01L1606.50 535.14L1607.00 535.27L1607.50 535.40L1608.00 535.53L1608.50 535.67L1609.00 535.80L1609.50 535.94L1610.00 536.08L1610.50 536.22L1611.00 536.36L1611.50 536.50L1612.00 536.64L1612.50 536.79L1613.00 536.93L1613.50 537.08L1614.00 537.23L1614.50 537.39L1615.00 537.54L1615.50 537.70L1616.00 537.85L1616.50 538.01L1617.00 538.17L1617.50 538.34L1618.00 538.50L1618.50 538.67L1619.00 538.84L1619.50 539.01L1620.00 539.19L1620.50 539.36L1621.00 539.54L1621.50 539.72L1622.00 539.90L1622.50 540.09L1623.00 540.28L1623.50 540.47L1624.00 540.66L1624.50 540.85L1625.00 541.05L1625.50 541.25L1626.00 541.45L1626.50 541.66L1627.00 541.87L1627.50 542.08L1628.00 542.29L1628.50 542.51L1629.00 542.73L1629.50 542.95L1630.00 543.18L1630.50 543.41L1631.00 543.64L1631.50 543.87L1632.00 544.11L1632.30 544.26L1632.50 544.35L1633.00 544.60L1633.50 544.85L1634.00 545.10L1634.50 545.36L1635.00 545.62L1635.50 545.88L1636.00 546.14L1636.50 546.41L1637.00 546.69L1637.50 546.96L1638.00 547.24L1638.50 547.53L1639.00 547.81L1639.50 548.11L1640.00 548.40L1640.50 548.70L1641.00 549.00L1641.50 549.31L1641.64 549.40L1642.00 549.62L1642.50 549.94L1643.00 550.27L1643.50 550.61L1644.00 550.95L1644.50 551.30L1645.00 551.65L1645.50 552.01L1646.00 552.37L1646.50 552.74L1647.00 553.12L1647.50 553.49L1648.00 553.87L1648.50 554.26L1649.00 554.65L1649.42 554.98L1650.00 555.43L1650.50 555.83L1651.00 556.23L1651.50 556.63L1652.00 557.04L1652.50 557.44L1653.00 557.85L1653.50 558.25L1654.00 558.66L1654.50 559.07L1655.00 559.47L1655.50 559.88L1656.00 560.29L1656.50 560.71L1657.00 561.13L1657.50 561.55L1658.00 561.98L1658.50 562.41L1659.00 562.84L1659.50 563.28L1660.00 563.71L1660.50 564.16L1661.00 564.60L1661.50 565.04L1661.92 565.42L1662.50 565.94L1663.00 566.39L1663.50 566.84L1664.00 567.28L1664.50 567.73L1665.00 568.18L1665.50 568.63L1666.00 569.08L1666.50 569.52L1667.00 569.97L1667.50 570.41L1668.00 570.85L1668.50 571.29L1669.00 571.73L1669.50 572.16L1670.00 572.59L1670.50 573.01L1671.00 573.44L1671.50 573.86L1671.76 574.08L1672.00 574.28L1672.50 574.71L1673.00 575.13L1673.50 575.54L1674.00 575.96L1674.50 576.38L1675.00 576.79L1675.50 577.20L1676.00 577.61L1676.50 578.02L1677.00 578.42L1677.50 578.82L1678.00 579.22L1678.50 579.62L1679.00 580.01L1679.50 580.41L1679.88 580.70L1680.50 581.18L1681.00 581.56L1681.50 581.94L1682.00 582.32L1682.50 582.69L1683.00 583.06L1683.47 583.40L1684.00 583.79L1684.50 584.14L1685.00 584.50L1685.50 584.85L1686.00 585.21L1686.50 585.56L1686.79 585.77L1687.00 585.92L1687.50 586.27L1688.00 586.62L1688.50 586.96L1689.00 587.31L1689.50 587.64L1689.90 587.91L1690.50 588.31L1691.00 588.64L1691.50 588.96L1692.00 589.27L1692.50 589.58L1692.81 589.76L1693.00 589.88L1693.50 590.17L1694.00 590.45L1694.50 590.73L1695.00 591.00L1695.50 591.26L1696.00 591.51L1696.50 591.75L1697.00 591.98L1697.50 592.19L1698.00 592.40L1698.14 592.46L1698.50 592.59L1699.00 592.78L1699.50 592.94L1700.00 593.10L1700.50 593.25L1701.00 593.39L1701.50 593.51L1702.00 593.63L1702.50 593.75L1702.92 593.84L1703.50 593.95L1704.00 594.05L1704.50 594.14L1705.00 594.23L1705.14 594.25L1705.50 594.32L1706.00 594.40L1706.50 594.49L1707.00 594.58L1707.26 594.62L1707.50 594.67L1708.00 594.76L1708.50 594.86L1709.00 594.96L1709.28 595.02L1709.50 595.07L1710.00 595.18L1710.50 595.30L1711.00 595.44L1711.22 595.50L1711.50 595.58L1712.00 595.73L1712.50 595.90L1713.00 596.08L1713.50 596.27L1714.00 596.48L1714.50 596.70L1714.88 596.87L1715.50 597.18L1716.00 597.44L1716.50 597.71L1717.00 598.01L1717.50 598.31L1718.00 598.64L1718.27 598.82L1718.50 598.98L1719.00 599.34L1719.50 599.72L1719.88 600.02L1720.00 600.12L1720.50 600.54L1721.00 600.98L1721.43 601.38L1722.00 601.96L1722.50 602.50L1722.93 603.00L1723.50 603.69L1724.00 604.33L1724.39 604.84L1725.00 605.68L1725.50 606.38L1725.80 606.81L1726.00 607.11L1726.50 607.85L1727.00 608.61L1727.17 608.87L1727.50 609.39L1728.00 610.20L1728.50 611.03L1729.00 611.88L1729.50 612.76L1729.79 613.27L1730.00 613.65L1730.50 614.55L1731.00 615.47L1731.50 616.40L1732.00 617.34L1732.28 617.87L1732.50 618.29L1733.00 619.25L1733.47 620.17L1734.00 621.21L1734.50 622.20L1734.64 622.47L1735.00 623.20L1735.50 624.19L1735.77 624.73L1736.00 625.18L1736.50 626.16L1736.88 626.90L1737.50 628.08L1737.96 628.94L1738.50 629.92L1739.00 630.80L1739.50 631.65L1740.00 632.47L1740.50 633.26L1741.00 634.00L1741.50 634.71L1742.00 635.37L1742.50 636.01L1743.00 636.60L1743.50 637.17L1743.98 637.69L1744.50 638.21L1744.91 638.61L1745.50 639.15L1745.83 639.44L1746.00 639.59L1746.50 640.02L1746.72 640.21L1747.00 640.44L1747.50 640.84L1748.00 641.25L1748.46 641.63L1749.00 642.08L1749.31 642.35L1749.50 642.52L1750.00 642.98L1750.14 643.11L1750.50 643.46L1750.96 643.92L1751.50 644.50L1751.76 644.79L1752.00 645.07L1752.50 645.67L1753.00 646.31L1753.33 646.75L1753.50 646.98L1754.00 647.70L1754.50 648.45L1754.84 648.99L1755.00 649.24L1755.50 650.07L1756.00 650.92L1756.31 651.47L1756.50 651.80L1757.00 652.71L1757.50 653.64L1757.73 654.09L1758.00 654.61L1758.43 655.46L1759.00 656.63L1759.50 657.68L1759.79 658.30L1760.00 658.76L1760.45 659.77L1761.00 661.00L1761.50 662.14L1761.76 662.73L1762.00 663.29L1762.39 664.18L1763.00 665.54L1763.50 666.63L1763.65 666.94L1764.00 667.70L1764.26 668.24L1764.50 668.73L1764.86 669.46L1765.00 669.73L1765.46 670.62L1766.00 671.63L1766.50 672.52L1766.63 672.75L1767.00 673.38L1767.21 673.73L1767.50 674.22L1767.78 674.67L1768.00 675.03L1768.34 675.58L1768.50 675.84L1768.89 676.46L1769.44 677.34L1769.98 678.22L1770.50 679.09L1771.00 679.96L1771.50 680.87L1772.00 681.83L1772.50 682.85L1773.00 683.92L1773.50 685.06L1774.00 686.26L1774.50 687.51L1775.00 688.82L1775.50 690.19L1776.00 691.61L1776.50 693.07L1776.97 694.46L1777.43 695.84L1777.89 697.20L1778.00 697.54L1778.34 698.54L1778.50 699.01L1778.79 699.83L1779.00 700.44L1779.23 701.08L1779.50 701.82L1779.67 702.28L1780.00 703.15L1780.50 704.40L1780.96 705.50L1781.39 706.44L1781.81 707.33L1782.00 707.73L1782.22 708.17L1782.50 708.71L1782.63 708.96L1783.00 709.64L1783.45 710.45L1783.85 711.17L1784.00 711.44L1784.25 711.88L1784.50 712.33L1784.64 712.59L1785.00 713.26L1785.42 714.08L1785.81 714.86L1786.00 715.28L1786.19 715.69L1786.50 716.41L1786.94 717.49L1787.32 718.44L1787.50 718.94L1787.68 719.45L1788.00 720.33L1788.42 721.55L1788.78 722.63L1789.00 723.31L1789.13 723.72L1789.49 724.82L1789.84 725.91L1790.00 726.39L1790.19 726.99L1790.50 727.91L1790.89 729.04L1791.00 729.37L1791.23 730.02L1791.50 730.76L1791.91 731.81L1792.24 732.63L1792.50 733.23L1792.90 734.11L1793.23 734.78L1793.50 735.29L1793.88 735.98L1794.20 736.54L1794.50 737.03L1794.84 737.59L1795.00 737.85L1795.15 738.10L1795.47 738.62L1795.78 739.15L1796.00 739.55L1796.39 740.28L1796.70 740.89L1797.00 741.53L1797.30 742.20L1797.50 742.67L1797.89 743.65L1798.19 744.41L1798.48 745.20L1798.77 746.01L1799.00 746.65L1799.35 747.64L1799.50 748.07L1799.63 748.45L1799.92 749.25L1800.20 750.04L1800.48 750.79L1800.76 751.51L1801.00 752.11L1801.31 752.85L1801.50 753.26L1801.86 754.02L1802.00 754.30L1802.13 754.55L1802.40 755.05L1802.67 755.51L1802.93 755.95L1803.20 756.37L1803.46 756.78L1803.72 757.18L1803.98 757.58L1804.24 757.99L1804.50 758.41L1804.76 758.86L1805.00 759.31L1805.26 759.83L1805.50 760.33L1805.77 760.92L1806.00 761.48L1806.26 762.13L1806.50 762.75L1806.75 763.44L1807.00 764.13L1807.24 764.82L1807.48 765.51L1807.72 766.21L1807.96 766.89L1808.20 767.56L1808.43 768.20L1808.67 768.83L1808.90 769.42L1809.14 769.99L1809.37 770.53L1809.50 770.82L1809.83 771.50L1810.00 771.84L1810.29 772.37L1810.50 772.75L1810.74 773.16L1810.96 773.53L1811.18 773.90L1811.40 774.27L1811.62 774.64L1811.85 775.02L1812.00 775.30L1812.28 775.82L1812.50 776.25L1812.71 776.69L1812.93 777.16L1813.14 777.64L1813.35 778.14L1813.50 778.49L1813.78 779.18L1813.99 779.71L1814.20 780.24L1814.40 780.77L1814.61 781.29L1814.82 781.81L1815.00 782.25L1815.23 782.78L1815.43 783.25L1815.63 783.69L1815.83 784.11L1816.00 784.45L1816.23 784.89L1816.43 785.25L1816.63 785.59L1816.83 785.91L1817.00 786.18L1817.22 786.51L1817.42 786.80L1817.61 787.09L1817.80 787.37L1818.00 787.67L1818.19 787.96L1818.38 788.27L1818.50 788.47L1818.76 788.92L1818.95 789.26L1819.13 789.62L1819.32 789.98L1819.50 790.35L1819.69 790.75L1819.88 791.14L1820.00 791.41L1820.25 791.94L1820.43 792.34L1820.61 792.74L1820.79 793.12L1820.97 793.50L1821.15 793.87L1821.33 794.22L1821.50 794.54L1821.69 794.88L1821.86 795.19L1822.00 795.42L1822.22 795.76L1822.39 796.03L1822.57 796.29L1822.74 796.54L1822.91 796.78L1823.09 797.01L1823.26 797.25L1823.43 797.48L1823.60 797.72L1823.77 797.95L1823.94 798.20L1824.11 798.44L1824.28 798.70L1824.44 798.95L1824.61 799.22L1824.78 799.48L1824.94 799.75L1825.11 800.03L1825.27 800.30L1825.44 800.58L1825.60 800.86L1825.76 801.13L1825.92 801.40L1826.09 801.67L1826.25 801.93L1826.41 802.19L1826.57 802.43L1826.73 802.68L1826.89 802.91L1827.05 803.14L1827.20 803.36L1827.36 803.58L1827.50 803.77L1827.67 804.00L1827.83 804.20L1827.98 804.41L1828.14 804.61L1828.29 804.82L1828.45 805.02L1828.60 805.23L1828.75 805.43L1828.90 805.64L1829.06 805.85L1829.21 806.06L1829.36 806.27L1829.50 806.46L1829.66 806.68L1829.81 806.89L1829.96 807.09L1830.50 807.80L1831.00 808.45L1831.50 809.07L1832.00 809.69L1832.50 810.28L1833.00 810.86L1833.50 811.43L1834.00 811.97L1834.50 812.49L1835.00 813.00L1835.50 813.49L1836.00 813.97L1836.50 814.44L1837.00 814.90L1837.50 815.35L1838.00 815.80L1838.50 816.23L1839.00 816.65L1839.50 817.06L1840.00 817.47L1840.50 817.86L1841.00 818.25L1841.50 818.62L1842.00 818.99L1842.50 819.35L1843.00 819.70L1843.50 820.04L1844.00 820.37L1844.50 820.69L1845.00 821.00L1845.50 821.31L1846.00 821.62L1846.50 821.93L1847.00 822.24L1847.50 822.55L1848.00 822.85L1848.50 823.15L1849.00 823.45L1849.50 823.73L1850.00 824.01L1850.50 824.28L1851.00 824.53L1851.50 824.77L1852.00 825.00L1852.50 825.22L1853.00 825.41L1853.50 825.59L1854.00 825.75L1854.50 825.88L1855.00 826.00L1855.50 826.10L1856.00 826.20L1856.50 826.31L1857.00 826.40L1857.50 826.50L1858.00 826.60L1858.50 826.69L1859.00 826.78L1859.50 826.87L1860.00 826.96L1860.50 827.05L1861.00 827.13L1861.50 827.21L1862.00 827.29L1862.50 827.37L1863.00 827.44L1863.50 827.52L1864.00 827.59L1864.50 827.65L1865.00 827.72L1865.50 827.78L1866.00 827.84L1866.50 827.90L1867.00 827.95L1867.50 828.01L1868.00 828.05L1868.50 828.10L1869.00 828.14L1869.50 828.18L1870.00 828.22L1870.50 828.25L1871.00 828.28L1871.50 828.31L1872.00 828.33L1872.50 828.35L1873.00 828.37L1873.50 828.38L1874.00 828.39L1874.50 828.40L1875.00 828.40L1875.50 828.40L1876.00 828.40L1876.50 828.40L1877.00 828.40L1877.50 828.40L1878.00 828.40L1878.50 828.40L1879.00 828.40L1879.50 828.40L1880.00 828.40L1880.50 828.40L1881.00 828.40L1881.50 828.40L1882.00 828.40L1882.50 828.40L1883.00 828.40L1883.50 828.40L1884.00 828.40L1884.50 828.40L1885.00 828.40L1885.50 828.40L1886.00 828.40L1886.50 828.40L1887.00 828.40L1887.50 828.40L1888.00 828.40L1888.50 828.40L1889.00 828.40L1889.50 828.40L1890.00 828.40L1890.50 828.40L1891.00 828.40L1891.50 828.40L1892.00 828.40L1892.50 828.40L1893.00 828.40L1893.50 828.40L1894.00 828.40L1894.50 828.40L1895.00 828.40L1895.50 828.40L1896.00 828.40L1896.50 828.40L1897.00 828.40L1897.50 828.40L1898.00 828.40L1898.50 828.40L1899.00 828.40L1899.50 828.40L1900.00 828.40L1900.50 828.40L1901.00 828.40L1901.50 828.40L1902.00 828.40L1902.50 828.40L1903.00 828.40L1903.50 828.40L1904.00 828.40L1904.50 828.40L1905.00 828.40L1905.50 828.40L1906.00 828.40L1906.50 828.40L1907.00 828.40L1907.50 828.40L1908.00 828.40L1908.50 828.40L1909.00 828.40L1909.50 828.40L1910.00 828.40L1910.50 828.40L1911.00 828.40L1911.50 828.40L1912.00 828.40L1912.50 828.40L1913.00 828.40L1913.50 828.40L1914.00 828.40L1914.50 828.40L1915.00 828.40L1915.50 828.40L1916.00 828.40L1916.50 828.40L1917.00 828.40L1917.50 828.40L1918.00 828.40L1918.50 828.40L1919.00 828.40L1919.50 828.40L1920.00 828.40L1920.50 828.40L1921.00 828.40L1921.50 828.40L1922.00 828.40L1922.50 828.40L1923.00 828.40L1923.50 828.40L1924.00 828.40L1924.50 828.40L1925.00 828.40L1925.50 828.40L1926.00 828.40L1926.50 828.40L1927.00 828.40L1927.50 828.40L1928.00 828.40L1928.50 828.40L1929.00 828.40L1929.50 828.40L1930.00 828.40L1930.50 828.40L1931.00 828.40L1931.50 828.40L1932.00 828.40L1932.50 828.40L1933.00 828.40L1933.50 828.40L1934.00 828.40L1934.50 828.40L1935.00 828.40L1935.50 828.40L1936.00 828.40L1936.50 828.40L1937.00 828.40L1937.50 828.40L1938.00 828.40L1938.50 828.40L1939.00 828.40L1939.50 828.40L1940.00 828.40L1940.50 828.40L1941.00 828.40L1941.50 828.40L1942.00 828.40L1942.50 828.40L1943.00 828.40L1943.50 828.40L1944.00 828.40L1944.50 828.40L1945.00 828.40L1945.50 828.40L1946.00 828.40L1946.50 828.40L1947.00 828.40L1947.50 828.40L1948.00 828.40L1948.50 828.40L1949.00 828.40L1949.50 828.40L1950.00 828.40L1950.50 828.40L1951.00 828.40L1951.50 828.40L1952.00 828.40L1952.50 828.40L1953.00 828.40L1953.50 828.40L1954.00 828.40L1954.50 828.40L1955.00 828.40L1955.50 828.40L1956.00 828.40L1956.50 828.40L1957.00 828.40L1957.50 828.40L1958.00 828.40L1958.50 828.40L1959.00 828.40L1959.50 828.40" fill="none" stroke="#74b87c" stroke-width="4.3" stroke-linejoin="round" stroke-linecap="round"/></g>
<text transform="scale(0.965 1)" x="1529.69 1547.86 1555.81" y="842.55" font-size="41" xml:space="preserve">0.0</text>
<text transform="scale(0.965 1)" x="1529.69 1547.86 1555.35" y="782.35" font-size="41" xml:space="preserve">0.2</text>
<text transform="scale(0.965 1)" x="1529.69 1547.86 1556.47" y="722.15" font-size="41" xml:space="preserve">0.4</text>
<text transform="scale(0.965 1)" x="1529.69 1547.86 1555.33" y="661.95" font-size="41" xml:space="preserve">0.6</text>
<text transform="scale(0.965 1)" x="1529.69 1547.86 1555.63" y="601.75" font-size="41" xml:space="preserve">0.8</text>
<text transform="scale(0.965 1)" x="1530.31 1547.86 1555.81" y="541.55" font-size="41" xml:space="preserve">1.0</text><path d="M1478.96 537.19H1486.68V543.35H1478.96ZM1490.22 537.19H1497.61V543.35H1490.22Z" fill="#fff"/>
<text transform="scale(0.965 1)" font-size="41" xml:space="preserve"><tspan x="1555.65 1574.62" y="912.6">10</tspan><tspan x="1592.29 1602.69" y="885.6" font-size="27.68">-1</tspan></text><path d="M1503.41 908.24H1511.13V914.4H1503.41ZM1514.67 908.24H1522.06V914.4H1514.67Z" fill="#fff"/><path d="M1547.82 882.23H1553.29V887.4H1547.82ZM1555.69 882.23H1560.93V887.4H1555.69Z" fill="#fff"/>
<text transform="scale(0.965 1)" font-size="41" xml:space="preserve"><tspan x="1671.25 1690.21" y="912.6">10</tspan><tspan x="1708.87" y="885.6" font-size="27.68">0</tspan></text><path d="M1614.96 908.24H1622.68V914.4H1614.96ZM1626.22 908.24H1633.61V914.4H1626.22Z" fill="#fff"/>
<text transform="scale(0.965 1)" font-size="41" xml:space="preserve"><tspan x="1782.39 1801.35" y="912.6">10</tspan><tspan x="1821.34" y="885.6" font-size="27.68">1</tspan></text><path d="M1722.21 908.24H1729.93V914.4H1722.21ZM1733.47 908.24H1740.86V914.4H1733.47Z" fill="#fff"/><path d="M1758.82 882.23H1764.29V887.4H1758.82ZM1766.69 882.23H1771.93V887.4H1766.69Z" fill="#fff"/>
<text transform="scale(0.965 1)" font-size="41" xml:space="preserve"><tspan x="1893.53 1912.49" y="912.6">10</tspan><tspan x="1930.84" y="885.6" font-size="27.68">2</tspan></text><path d="M1829.46 908.24H1837.18V914.4H1829.46ZM1840.72 908.24H1848.11V914.4H1840.72Z" fill="#fff"/>
<text transform="scale(0.965 1)" font-size="41" xml:space="preserve"><tspan x="2004.67 2023.63" y="912.6">10</tspan><tspan x="2042.31" y="885.6" font-size="27.68">3</tspan></text><path d="M1936.71 908.24H1944.43V914.4H1936.71ZM1947.97 908.24H1955.36V914.4H1947.97Z" fill="#fff"/>
<path d="M1562.4 700H1619.6" stroke="#0083c9" stroke-width="4" fill="none"/>
<text transform="scale(0.86 1)" font-size="33.4" xml:space="preserve"><tspan x="1893.98" y="711.6" font-style="italic">T</tspan><tspan x="1916.74 1940.09 1958.11 1966.5" y="711.6">=0.1</tspan></text><path d="M1692.57 707.81H1698.39V713.4H1692.57ZM1700.97 707.81H1706.55V713.4H1700.97Z" fill="#fff"/>
<path d="M1562.4 736H1619.6" stroke="#fdaa7f" stroke-width="4" fill="none"/>
<text transform="scale(0.86 1)" font-size="33.4" xml:space="preserve"><tspan x="1893.98" y="745.6" font-style="italic">T</tspan><tspan x="1916.74 1940.09 1958.11 1967.33" y="745.6">=0.3</tspan></text>
<path d="M1562.4 772.8H1619.6" stroke="#74b87c" stroke-width="4" fill="none"/>
<text transform="scale(0.86 1)" font-size="33.4" xml:space="preserve"><tspan x="1893.98" y="781" font-style="italic">T</tspan><tspan x="1916.74 1940.09 1958.11 1967.27" y="781">=0.5</tspan></text>
<text transform="translate(1427.4 47.6) scale(0.8039 1)" font-size="51" font-weight="bold">c</text>
<text transform="translate(1454.3 230.3) rotate(-90) scale(0.78 1)" font-size="40.5" font-style="italic">C</text>
<text transform="translate(1463 206) rotate(-90) scale(1.05 1)" font-size="26" font-style="italic">el</text>
<text transform="translate(1453.8 184) rotate(-90) scale(1 1)" font-size="38" letter-spacing="3.6">(<tspan font-style="italic">t</tspan>)</text>
<text transform="translate(1456.4 715) rotate(-90) scale(0.78 1)" font-size="40.5" font-style="italic">C</text>
<text transform="translate(1465.1 691.6) rotate(-90) scale(1.05 1)" font-size="26" font-style="italic">el</text>
<text transform="translate(1455.9 668.5) rotate(-90) scale(1 1)" font-size="38" letter-spacing="3.6">(<tspan font-style="italic">t</tspan>)</text>
<text transform="translate(1739.68 480.2) scale(1.113 1)" font-size="38" font-style="italic">t</text>
<text transform="translate(1740.78 958.8) scale(1.172 1)" font-size="38" font-style="italic">t</text>
</svg>
</body>
</html>
